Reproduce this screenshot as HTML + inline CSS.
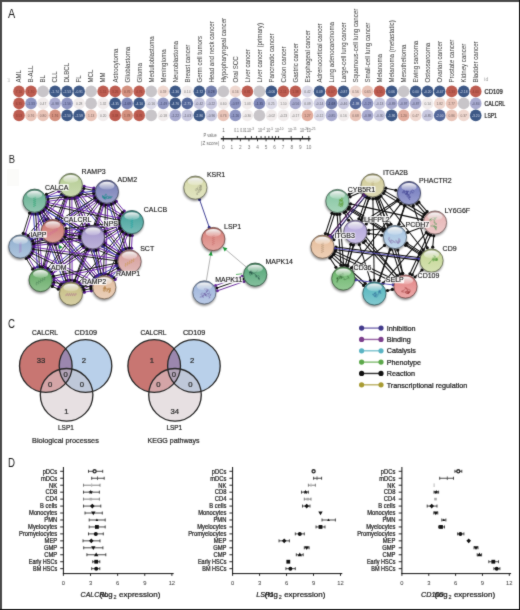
<!DOCTYPE html>
<html><head><meta charset="utf-8"><style>
html,body{margin:0;padding:0;background:#fff;width:520px;height:610px;overflow:hidden}
svg{display:block;font-family:"Liberation Sans", sans-serif;will-change:transform}
</style></head><body>
<svg width="520" height="610" viewBox="0 0 520 610" font-family='"Liberation Sans", sans-serif'>
<defs>
<filter id="shblur" x="-50%" y="-50%" width="200%" height="200%"><feGaussianBlur stdDeviation="0.9"/></filter>
<linearGradient id="hl" x1="0" y1="0" x2="0" y2="1"><stop offset="0" stop-color="#fff" stop-opacity="0.95"/><stop offset="0.6" stop-color="#fff" stop-opacity="0.45"/><stop offset="1" stop-color="#fff" stop-opacity="0.15"/></linearGradient>
<linearGradient id="nRAMP3" x1="0" y1="0" x2="0" y2="1"><stop offset="0" stop-color="#82916c"/><stop offset="0.3" stop-color="#bacf9a"/><stop offset="1" stop-color="#c9dab0"/></linearGradient>
<linearGradient id="nADM2" x1="0" y1="0" x2="0" y2="1"><stop offset="0" stop-color="#5a5e83"/><stop offset="0.3" stop-color="#8087bb"/><stop offset="1" stop-color="#9ca1ca"/></linearGradient>
<linearGradient id="nCALCA" x1="0" y1="0" x2="0" y2="1"><stop offset="0" stop-color="#4f7f6c"/><stop offset="0.3" stop-color="#71b69a"/><stop offset="1" stop-color="#90c6b0"/></linearGradient>
<linearGradient id="nCALCB" x1="0" y1="0" x2="0" y2="1"><stop offset="0" stop-color="#397672"/><stop offset="0.3" stop-color="#52a9a3"/><stop offset="1" stop-color="#78bcb7"/></linearGradient>
<linearGradient id="nCALCRL" x1="0" y1="0" x2="0" y2="1"><stop offset="0" stop-color="#925a57"/><stop offset="0.3" stop-color="#d1817c"/><stop offset="1" stop-color="#db9d99"/></linearGradient>
<linearGradient id="nNPS" x1="0" y1="0" x2="0" y2="1"><stop offset="0" stop-color="#776e91"/><stop offset="0.3" stop-color="#aa9dcf"/><stop offset="1" stop-color="#bdb3da"/></linearGradient>
<linearGradient id="nIAPP" x1="0" y1="0" x2="0" y2="1"><stop offset="0" stop-color="#6a7f94"/><stop offset="0.3" stop-color="#98b5d3"/><stop offset="1" stop-color="#afc5dd"/></linearGradient>
<linearGradient id="nSCT" x1="0" y1="0" x2="0" y2="1"><stop offset="0" stop-color="#987372"/><stop offset="0.3" stop-color="#d9a5a3"/><stop offset="1" stop-color="#e1b9b7"/></linearGradient>
<linearGradient id="nADM" x1="0" y1="0" x2="0" y2="1"><stop offset="0" stop-color="#4d7a4d"/><stop offset="0.3" stop-color="#6eaf6e"/><stop offset="1" stop-color="#8ec18e"/></linearGradient>
<linearGradient id="nRAMP1" x1="0" y1="0" x2="0" y2="1"><stop offset="0" stop-color="#a08873"/><stop offset="0.3" stop-color="#e4c2a5"/><stop offset="1" stop-color="#eacfb9"/></linearGradient>
<linearGradient id="nRAMP2" x1="0" y1="0" x2="0" y2="1"><stop offset="0" stop-color="#8d8861"/><stop offset="0.3" stop-color="#cac28b"/><stop offset="1" stop-color="#d6cfa5"/></linearGradient>
<linearGradient id="mKSR1" x1="0" y1="0" x2="0" y2="1"><stop offset="0" stop-color="#989a7a"/><stop offset="0.3" stop-color="#d9dcaf"/><stop offset="1" stop-color="#e1e4c1"/></linearGradient>
<linearGradient id="mLSP1" x1="0" y1="0" x2="0" y2="1"><stop offset="0" stop-color="#9a615d"/><stop offset="0.3" stop-color="#dc8b85"/><stop offset="1" stop-color="#e4a5a0"/></linearGradient>
<linearGradient id="mMAPK14" x1="0" y1="0" x2="0" y2="1"><stop offset="0" stop-color="#44795a"/><stop offset="0.3" stop-color="#61ad81"/><stop offset="1" stop-color="#84bf9d"/></linearGradient>
<linearGradient id="mMAPK11" x1="0" y1="0" x2="0" y2="1"><stop offset="0" stop-color="#73829b"/><stop offset="0.3" stop-color="#a5bade"/><stop offset="1" stop-color="#b9c9e5"/></linearGradient>
<linearGradient id="rITGA2B" x1="0" y1="0" x2="0" y2="1"><stop offset="0" stop-color="#959270"/><stop offset="0.3" stop-color="#d5d0a0"/><stop offset="1" stop-color="#dedab5"/></linearGradient>
<linearGradient id="rPHACTR2" x1="0" y1="0" x2="0" y2="1"><stop offset="0" stop-color="#575c88"/><stop offset="0.3" stop-color="#7c83c2"/><stop offset="1" stop-color="#999ecf"/></linearGradient>
<linearGradient id="rCYB5R1" x1="0" y1="0" x2="0" y2="1"><stop offset="0" stop-color="#638d75"/><stop offset="0.3" stop-color="#8dc9a7"/><stop offset="1" stop-color="#a6d5ba"/></linearGradient>
<linearGradient id="rLY6G6F" x1="0" y1="0" x2="0" y2="1"><stop offset="0" stop-color="#a28282"/><stop offset="0.3" stop-color="#e8baba"/><stop offset="1" stop-color="#edc9c9"/></linearGradient>
<linearGradient id="rLHFPL2" x1="0" y1="0" x2="0" y2="1"><stop offset="0" stop-color="#82799b"/><stop offset="0.3" stop-color="#baadde"/><stop offset="1" stop-color="#c9bfe5"/></linearGradient>
<linearGradient id="rPCDH7" x1="0" y1="0" x2="0" y2="1"><stop offset="0" stop-color="#798da0"/><stop offset="0.3" stop-color="#adc9e4"/><stop offset="1" stop-color="#bfd5ea"/></linearGradient>
<linearGradient id="rITGB3" x1="0" y1="0" x2="0" y2="1"><stop offset="0" stop-color="#a28871"/><stop offset="0.3" stop-color="#e8c2a2"/><stop offset="1" stop-color="#edcfb6"/></linearGradient>
<linearGradient id="rCD9" x1="0" y1="0" x2="0" y2="1"><stop offset="0" stop-color="#8d986d"/><stop offset="0.3" stop-color="#c9d99c"/><stop offset="1" stop-color="#d5e1b2"/></linearGradient>
<linearGradient id="rCD36" x1="0" y1="0" x2="0" y2="1"><stop offset="0" stop-color="#518251"/><stop offset="0.3" stop-color="#74ba74"/><stop offset="1" stop-color="#93c993"/></linearGradient>
<linearGradient id="rCD109" x1="0" y1="0" x2="0" y2="1"><stop offset="0" stop-color="#a16464"/><stop offset="0.3" stop-color="#e68f8f"/><stop offset="1" stop-color="#eca8a8"/></linearGradient>
<linearGradient id="rSELP" x1="0" y1="0" x2="0" y2="1"><stop offset="0" stop-color="#428288"/><stop offset="0.3" stop-color="#5fbac2"/><stop offset="1" stop-color="#82c9cf"/></linearGradient>
<clipPath id="cr1"><circle cx="45.8" cy="366.0" r="26.3"/></clipPath>
<clipPath id="cb1"><circle cx="85.5" cy="366.0" r="26.3"/></clipPath>
<clipPath id="cr2"><circle cx="154.2" cy="366.0" r="26.3"/></clipPath>
<clipPath id="cb2"><circle cx="193.9" cy="366.0" r="26.3"/></clipPath>
</defs>
<filter id="soft" color-interpolation-filters="sRGB" filterUnits="userSpaceOnUse" x="0" y="0" width="520" height="610"><feConvolveMatrix order="3" kernelMatrix="0.02 0.08 0.02 0.08 0.6 0.08 0.02 0.08 0.02" preserveAlpha="true" edgeMode="duplicate"/></filter>
<g filter="url(#soft)">
<rect x="0" y="0" width="520" height="610" fill="#fff"/>
<text transform="translate(21.35,82.6) rotate(-90) scale(0.93,1)" font-size="6.6" fill="#383838">AML</text>
<circle cx="19.00" cy="91.4" r="5.8" fill="#bd5c50"/>
<text x="19.00" y="92.75" font-size="3.9" fill="#8a3a30" text-anchor="middle" textLength="6.4" lengthAdjust="spacingAndGlyphs">7.10</text>
<circle cx="19.00" cy="103.4" r="5.8" fill="#bd5c50"/>
<text x="19.00" y="104.75" font-size="3.9" fill="#8a3a30" text-anchor="middle" textLength="6.4" lengthAdjust="spacingAndGlyphs">6.35</text>
<circle cx="19.00" cy="115.4" r="5.8" fill="#bd5c50"/>
<text x="19.00" y="116.75" font-size="3.9" fill="#8a3a30" text-anchor="middle" textLength="6.4" lengthAdjust="spacingAndGlyphs">3.53</text>
<text transform="translate(33.37,82.6) rotate(-90) scale(0.93,1)" font-size="6.6" fill="#383838">B-ALL</text>
<circle cx="31.02" cy="91.4" r="5.8" fill="#bd5c50"/>
<text x="31.02" y="92.75" font-size="3.9" fill="#8a3a30" text-anchor="middle" textLength="6.4" lengthAdjust="spacingAndGlyphs">1.70</text>
<circle cx="31.02" cy="103.4" r="5.8" fill="#8f96c2"/>
<text x="31.02" y="104.75" font-size="3.9" fill="#454a70" text-anchor="middle" textLength="7.6" lengthAdjust="spacingAndGlyphs">-1.33</text>
<circle cx="31.02" cy="115.4" r="5.8" fill="#e9c4b8"/>
<text x="31.02" y="116.75" font-size="3.9" fill="#7a6560" text-anchor="middle" textLength="6.4" lengthAdjust="spacingAndGlyphs">0.76</text>
<text transform="translate(45.39,82.6) rotate(-90) scale(0.93,1)" font-size="6.6" fill="#383838">BL</text>
<circle cx="43.04" cy="91.4" r="5.8" fill="#c8c5c9"/>
<circle cx="43.04" cy="103.4" r="5.8" fill="#f1ecec"/>
<text x="43.04" y="104.75" font-size="3.9" fill="#777" text-anchor="middle" textLength="6.4" lengthAdjust="spacingAndGlyphs">0.47</text>
<circle cx="43.04" cy="115.4" r="5.8" fill="#e9c4b8"/>
<text x="43.04" y="116.75" font-size="3.9" fill="#7a6560" text-anchor="middle" textLength="6.4" lengthAdjust="spacingAndGlyphs">0.80</text>
<text transform="translate(57.41,82.6) rotate(-90) scale(0.93,1)" font-size="6.6" fill="#383838">CLL</text>
<circle cx="55.06" cy="91.4" r="5.8" fill="#3d5886"/>
<text x="55.06" y="92.75" font-size="3.9" fill="#d0d8e8" text-anchor="middle" textLength="7.6" lengthAdjust="spacingAndGlyphs">-1.74</text>
<circle cx="55.06" cy="103.4" r="5.8" fill="#a8aacf"/>
<text x="55.06" y="104.75" font-size="3.9" fill="#505470" text-anchor="middle" textLength="7.6" lengthAdjust="spacingAndGlyphs">-0.98</text>
<circle cx="55.06" cy="115.4" r="5.8" fill="#d4917f"/>
<text x="55.06" y="116.75" font-size="3.9" fill="#7a4a40" text-anchor="middle" textLength="6.4" lengthAdjust="spacingAndGlyphs">1.76</text>
<text transform="translate(69.43,82.6) rotate(-90) scale(0.93,1)" font-size="6.6" fill="#383838">DLBCL</text>
<circle cx="67.08" cy="91.4" r="5.8" fill="#3d5886"/>
<text x="67.08" y="92.75" font-size="3.9" fill="#d0d8e8" text-anchor="middle" textLength="7.6" lengthAdjust="spacingAndGlyphs">-2.53</text>
<circle cx="67.08" cy="103.4" r="5.8" fill="#8f96c2"/>
<text x="67.08" y="104.75" font-size="3.9" fill="#454a70" text-anchor="middle" textLength="7.6" lengthAdjust="spacingAndGlyphs">-1.56</text>
<circle cx="67.08" cy="115.4" r="5.8" fill="#3d5886"/>
<text x="67.08" y="116.75" font-size="3.9" fill="#d0d8e8" text-anchor="middle" textLength="7.6" lengthAdjust="spacingAndGlyphs">-2.50</text>
<text transform="translate(81.45,82.6) rotate(-90) scale(0.93,1)" font-size="6.6" fill="#383838">FL</text>
<circle cx="79.10" cy="91.4" r="5.8" fill="#3d5886"/>
<text x="79.10" y="92.75" font-size="3.9" fill="#d0d8e8" text-anchor="middle" textLength="7.6" lengthAdjust="spacingAndGlyphs">-0.91</text>
<circle cx="79.10" cy="103.4" r="5.8" fill="#f1ecec"/>
<text x="79.10" y="104.75" font-size="3.9" fill="#777" text-anchor="middle" textLength="6.4" lengthAdjust="spacingAndGlyphs">0.28</text>
<circle cx="79.10" cy="115.4" r="5.8" fill="#3d5886"/>
<text x="79.10" y="116.75" font-size="3.9" fill="#d0d8e8" text-anchor="middle" textLength="7.6" lengthAdjust="spacingAndGlyphs">-2.59</text>
<text transform="translate(93.47,82.6) rotate(-90) scale(0.93,1)" font-size="6.6" fill="#383838">MCL</text>
<circle cx="91.12" cy="91.4" r="5.8" fill="#c8c5c9"/>
<circle cx="91.12" cy="103.4" r="5.8" fill="#c8c5c9"/>
<circle cx="91.12" cy="115.4" r="5.8" fill="#e9c4b8"/>
<text x="91.12" y="116.75" font-size="3.9" fill="#7a6560" text-anchor="middle" textLength="6.4" lengthAdjust="spacingAndGlyphs">1.13</text>
<text transform="translate(105.49,82.6) rotate(-90) scale(0.93,1)" font-size="6.6" fill="#383838">MM</text>
<circle cx="103.14" cy="91.4" r="5.8" fill="#bd5c50"/>
<text x="103.14" y="92.75" font-size="3.9" fill="#8a3a30" text-anchor="middle" textLength="6.4" lengthAdjust="spacingAndGlyphs">1.51</text>
<circle cx="103.14" cy="103.4" r="5.8" fill="#f1ecec"/>
<text x="103.14" y="104.75" font-size="3.9" fill="#777" text-anchor="middle" textLength="6.4" lengthAdjust="spacingAndGlyphs">1.32</text>
<circle cx="103.14" cy="115.4" r="5.8" fill="#f1ecec"/>
<text x="103.14" y="116.75" font-size="3.9" fill="#777" text-anchor="middle" textLength="6.4" lengthAdjust="spacingAndGlyphs">0.20</text>
<text transform="translate(117.51,82.6) rotate(-90) scale(0.93,1)" font-size="6.6" fill="#383838">Astrocytoma</text>
<circle cx="115.16" cy="91.4" r="5.8" fill="#bd5c50"/>
<text x="115.16" y="92.75" font-size="3.9" fill="#8a3a30" text-anchor="middle" textLength="6.4" lengthAdjust="spacingAndGlyphs">3.26</text>
<circle cx="115.16" cy="103.4" r="5.8" fill="#3d5886"/>
<text x="115.16" y="104.75" font-size="3.9" fill="#d0d8e8" text-anchor="middle" textLength="7.6" lengthAdjust="spacingAndGlyphs">-4.35</text>
<circle cx="115.16" cy="115.4" r="5.8" fill="#bd5c50"/>
<text x="115.16" y="116.75" font-size="3.9" fill="#8a3a30" text-anchor="middle" textLength="6.4" lengthAdjust="spacingAndGlyphs">3.38</text>
<text transform="translate(129.53,82.6) rotate(-90) scale(0.93,1)" font-size="6.6" fill="#383838">Glioblastoma</text>
<circle cx="127.18" cy="91.4" r="5.8" fill="#d4917f"/>
<text x="127.18" y="92.75" font-size="3.9" fill="#7a4a40" text-anchor="middle" textLength="6.4" lengthAdjust="spacingAndGlyphs">0.76</text>
<circle cx="127.18" cy="103.4" r="5.8" fill="#7e87b7"/>
<text x="127.18" y="104.75" font-size="3.9" fill="#353a60" text-anchor="middle" textLength="7.6" lengthAdjust="spacingAndGlyphs">-1.69</text>
<circle cx="127.18" cy="115.4" r="5.8" fill="#d4917f"/>
<text x="127.18" y="116.75" font-size="3.9" fill="#7a4a40" text-anchor="middle" textLength="6.4" lengthAdjust="spacingAndGlyphs">1.78</text>
<text transform="translate(141.55,82.6) rotate(-90) scale(0.93,1)" font-size="6.6" fill="#383838">Glioma</text>
<circle cx="139.20" cy="91.4" r="5.8" fill="#bd5c50"/>
<text x="139.20" y="92.75" font-size="3.9" fill="#8a3a30" text-anchor="middle" textLength="6.4" lengthAdjust="spacingAndGlyphs">4.76</text>
<circle cx="139.20" cy="103.4" r="5.8" fill="#3d5886"/>
<text x="139.20" y="104.75" font-size="3.9" fill="#d0d8e8" text-anchor="middle" textLength="7.6" lengthAdjust="spacingAndGlyphs">-4.10</text>
<circle cx="139.20" cy="115.4" r="5.8" fill="#bd5c50"/>
<text x="139.20" y="116.75" font-size="3.9" fill="#8a3a30" text-anchor="middle" textLength="6.4" lengthAdjust="spacingAndGlyphs">3.76</text>
<text transform="translate(153.57,82.6) rotate(-90) scale(0.93,1)" font-size="6.6" fill="#383838">Medulloblastoma</text>
<circle cx="151.22" cy="91.4" r="5.8" fill="#c8c5c9"/>
<circle cx="151.22" cy="103.4" r="5.8" fill="#dcdbe9"/>
<text x="151.22" y="104.75" font-size="3.9" fill="#707070" text-anchor="middle" textLength="7.6" lengthAdjust="spacingAndGlyphs">-0.16</text>
<circle cx="151.22" cy="115.4" r="5.8" fill="#c8c5c9"/>
<text transform="translate(165.59,82.6) rotate(-90) scale(0.93,1)" font-size="6.6" fill="#383838">Meningioma</text>
<circle cx="163.24" cy="91.4" r="5.8" fill="#efd8d0"/>
<text x="163.24" y="92.75" font-size="3.9" fill="#7a6a65" text-anchor="middle" textLength="6.4" lengthAdjust="spacingAndGlyphs">0.59</text>
<circle cx="163.24" cy="103.4" r="5.8" fill="#8f96c2"/>
<text x="163.24" y="104.75" font-size="3.9" fill="#454a70" text-anchor="middle" textLength="7.6" lengthAdjust="spacingAndGlyphs">-1.49</text>
<circle cx="163.24" cy="115.4" r="5.8" fill="#f1ecec"/>
<text x="163.24" y="116.75" font-size="3.9" fill="#777" text-anchor="middle" textLength="7.6" lengthAdjust="spacingAndGlyphs">-0.18</text>
<text transform="translate(177.61,82.6) rotate(-90) scale(0.93,1)" font-size="6.6" fill="#383838">Neuroblastoma</text>
<circle cx="175.26" cy="91.4" r="5.8" fill="#3d5886"/>
<text x="175.26" y="92.75" font-size="3.9" fill="#d0d8e8" text-anchor="middle" textLength="7.6" lengthAdjust="spacingAndGlyphs">-1.36</text>
<circle cx="175.26" cy="103.4" r="5.8" fill="#3d5886"/>
<text x="175.26" y="104.75" font-size="3.9" fill="#d0d8e8" text-anchor="middle" textLength="7.6" lengthAdjust="spacingAndGlyphs">-4.76</text>
<circle cx="175.26" cy="115.4" r="5.8" fill="#a8aacf"/>
<text x="175.26" y="116.75" font-size="3.9" fill="#505470" text-anchor="middle" textLength="7.6" lengthAdjust="spacingAndGlyphs">-1.22</text>
<text transform="translate(189.63,82.6) rotate(-90) scale(0.93,1)" font-size="6.6" fill="#383838">Breast cancer</text>
<circle cx="187.28" cy="91.4" r="5.8" fill="#f1ecec"/>
<text x="187.28" y="92.75" font-size="3.9" fill="#777" text-anchor="middle" textLength="6.4" lengthAdjust="spacingAndGlyphs">0.14</text>
<circle cx="187.28" cy="103.4" r="5.8" fill="#53679a"/>
<text x="187.28" y="104.75" font-size="3.9" fill="#d8dcea" text-anchor="middle" textLength="7.6" lengthAdjust="spacingAndGlyphs">-2.75</text>
<circle cx="187.28" cy="115.4" r="5.8" fill="#c8c8df"/>
<text x="187.28" y="116.75" font-size="3.9" fill="#606070" text-anchor="middle" textLength="7.6" lengthAdjust="spacingAndGlyphs">-1.03</text>
<text transform="translate(201.65,82.6) rotate(-90) scale(0.93,1)" font-size="6.6" fill="#383838">Germ cell tumors</text>
<circle cx="199.30" cy="91.4" r="5.8" fill="#3d5886"/>
<text x="199.30" y="92.75" font-size="3.9" fill="#d0d8e8" text-anchor="middle" textLength="7.6" lengthAdjust="spacingAndGlyphs">-1.72</text>
<circle cx="199.30" cy="103.4" r="5.8" fill="#c8c8df"/>
<text x="199.30" y="104.75" font-size="3.9" fill="#606070" text-anchor="middle" textLength="7.6" lengthAdjust="spacingAndGlyphs">-0.42</text>
<circle cx="199.30" cy="115.4" r="5.8" fill="#3d5886"/>
<text x="199.30" y="116.75" font-size="3.9" fill="#d0d8e8" text-anchor="middle" textLength="7.6" lengthAdjust="spacingAndGlyphs">-2.86</text>
<text transform="translate(213.67,82.6) rotate(-90) scale(0.93,1)" font-size="6.6" fill="#383838">Head and neck cancer</text>
<circle cx="211.32" cy="91.4" r="5.8" fill="#7480ad"/>
<text x="211.32" y="92.75" font-size="3.9" fill="#2f3458" text-anchor="middle" textLength="6.4" lengthAdjust="spacingAndGlyphs">0.28</text>
<circle cx="211.32" cy="103.4" r="5.8" fill="#c8c8df"/>
<text x="211.32" y="104.75" font-size="3.9" fill="#606070" text-anchor="middle" textLength="7.6" lengthAdjust="spacingAndGlyphs">-0.22</text>
<circle cx="211.32" cy="115.4" r="5.8" fill="#c8c8df"/>
<text x="211.32" y="116.75" font-size="3.9" fill="#606070" text-anchor="middle" textLength="7.6" lengthAdjust="spacingAndGlyphs">-0.96</text>
<text transform="translate(225.69,82.6) rotate(-90) scale(0.93,1)" font-size="6.6" fill="#383838">Hypopharyngeal cancer</text>
<circle cx="223.34" cy="91.4" r="5.8" fill="#c8c5c9"/>
<circle cx="223.34" cy="103.4" r="5.8" fill="#f1ecec"/>
<text x="223.34" y="104.75" font-size="3.9" fill="#777" text-anchor="middle" textLength="6.4" lengthAdjust="spacingAndGlyphs">0.60</text>
<circle cx="223.34" cy="115.4" r="5.8" fill="#e9c4b8"/>
<text x="223.34" y="116.75" font-size="3.9" fill="#7a6560" text-anchor="middle" textLength="6.4" lengthAdjust="spacingAndGlyphs">0.76</text>
<text transform="translate(237.71,82.6) rotate(-90) scale(0.93,1)" font-size="6.6" fill="#383838">Oral SCC</text>
<circle cx="235.36" cy="91.4" r="5.8" fill="#efd8d0"/>
<text x="235.36" y="92.75" font-size="3.9" fill="#7a6a65" text-anchor="middle" textLength="6.4" lengthAdjust="spacingAndGlyphs">0.16</text>
<circle cx="235.36" cy="103.4" r="5.8" fill="#8f96c2"/>
<text x="235.36" y="104.75" font-size="3.9" fill="#454a70" text-anchor="middle" textLength="7.6" lengthAdjust="spacingAndGlyphs">-0.97</text>
<circle cx="235.36" cy="115.4" r="5.8" fill="#8f96c2"/>
<text x="235.36" y="116.75" font-size="3.9" fill="#454a70" text-anchor="middle" textLength="7.6" lengthAdjust="spacingAndGlyphs">-1.26</text>
<text transform="translate(249.73,82.6) rotate(-90) scale(0.93,1)" font-size="6.6" fill="#383838">Liver cancer</text>
<circle cx="247.38" cy="91.4" r="5.8" fill="#bd5c50"/>
<text x="247.38" y="92.75" font-size="3.9" fill="#8a3a30" text-anchor="middle" textLength="6.4" lengthAdjust="spacingAndGlyphs">0.81</text>
<circle cx="247.38" cy="103.4" r="5.8" fill="#f1ecec"/>
<text x="247.38" y="104.75" font-size="3.9" fill="#777" text-anchor="middle" textLength="6.4" lengthAdjust="spacingAndGlyphs">1.03</text>
<circle cx="247.38" cy="115.4" r="5.8" fill="#f1ecec"/>
<text x="247.38" y="116.75" font-size="3.9" fill="#777" text-anchor="middle" textLength="7.6" lengthAdjust="spacingAndGlyphs">-0.30</text>
<text transform="translate(261.75,82.6) rotate(-90) scale(0.93,1)" font-size="6.6" fill="#383838">Liver cancer (primary)</text>
<circle cx="259.40" cy="91.4" r="5.8" fill="#c8c5c9"/>
<circle cx="259.40" cy="103.4" r="5.8" fill="#7e87b7"/>
<text x="259.40" y="104.75" font-size="3.9" fill="#353a60" text-anchor="middle" textLength="7.6" lengthAdjust="spacingAndGlyphs">-1.35</text>
<circle cx="259.40" cy="115.4" r="5.8" fill="#c8c5c9"/>
<text transform="translate(273.77,82.6) rotate(-90) scale(0.93,1)" font-size="6.6" fill="#383838">Pancreatic cancer</text>
<circle cx="271.42" cy="91.4" r="5.8" fill="#3d5886"/>
<text x="271.42" y="92.75" font-size="3.9" fill="#d0d8e8" text-anchor="middle" textLength="7.6" lengthAdjust="spacingAndGlyphs">-0.06</text>
<circle cx="271.42" cy="103.4" r="5.8" fill="#dcdbe9"/>
<text x="271.42" y="104.75" font-size="3.9" fill="#707070" text-anchor="middle" textLength="6.4" lengthAdjust="spacingAndGlyphs">0.25</text>
<circle cx="271.42" cy="115.4" r="5.8" fill="#f1ecec"/>
<text x="271.42" y="116.75" font-size="3.9" fill="#777" text-anchor="middle" textLength="7.6" lengthAdjust="spacingAndGlyphs">-0.02</text>
<text transform="translate(285.79,82.6) rotate(-90) scale(0.93,1)" font-size="6.6" fill="#383838">Colon cancer</text>
<circle cx="283.44" cy="91.4" r="5.8" fill="#bd5c50"/>
<text x="283.44" y="92.75" font-size="3.9" fill="#8a3a30" text-anchor="middle" textLength="6.4" lengthAdjust="spacingAndGlyphs">2.11</text>
<circle cx="283.44" cy="103.4" r="5.8" fill="#f1ecec"/>
<text x="283.44" y="104.75" font-size="3.9" fill="#777" text-anchor="middle" textLength="6.4" lengthAdjust="spacingAndGlyphs">1.10</text>
<circle cx="283.44" cy="115.4" r="5.8" fill="#f1ecec"/>
<text x="283.44" y="116.75" font-size="3.9" fill="#777" text-anchor="middle" textLength="7.6" lengthAdjust="spacingAndGlyphs">-0.23</text>
<text transform="translate(297.81,82.6) rotate(-90) scale(0.93,1)" font-size="6.6" fill="#383838">Gastric cancer</text>
<circle cx="295.46" cy="91.4" r="5.8" fill="#bd5c50"/>
<text x="295.46" y="92.75" font-size="3.9" fill="#8a3a30" text-anchor="middle" textLength="6.4" lengthAdjust="spacingAndGlyphs">1.38</text>
<circle cx="295.46" cy="103.4" r="5.8" fill="#a8aacf"/>
<text x="295.46" y="104.75" font-size="3.9" fill="#505470" text-anchor="middle" textLength="7.6" lengthAdjust="spacingAndGlyphs">-0.56</text>
<circle cx="295.46" cy="115.4" r="5.8" fill="#f1ecec"/>
<text x="295.46" y="116.75" font-size="3.9" fill="#777" text-anchor="middle" textLength="7.6" lengthAdjust="spacingAndGlyphs">-0.17</text>
<text transform="translate(309.83,82.6) rotate(-90) scale(0.93,1)" font-size="6.6" fill="#383838">Esophageal cancer</text>
<circle cx="307.48" cy="91.4" r="5.8" fill="#dcdbe9"/>
<text x="307.48" y="92.75" font-size="3.9" fill="#707070" text-anchor="middle" textLength="6.4" lengthAdjust="spacingAndGlyphs">0.42</text>
<circle cx="307.48" cy="103.4" r="5.8" fill="#dcdbe9"/>
<text x="307.48" y="104.75" font-size="3.9" fill="#707070" text-anchor="middle" textLength="6.4" lengthAdjust="spacingAndGlyphs">0.09</text>
<circle cx="307.48" cy="115.4" r="5.8" fill="#e2ad9e"/>
<text x="307.48" y="116.75" font-size="3.9" fill="#7a5a50" text-anchor="middle" textLength="6.4" lengthAdjust="spacingAndGlyphs">1.27</text>
<text transform="translate(321.85,82.6) rotate(-90) scale(0.93,1)" font-size="6.6" fill="#383838">Adrenocortical cancer</text>
<circle cx="319.50" cy="91.4" r="5.8" fill="#3d5886"/>
<text x="319.50" y="92.75" font-size="3.9" fill="#d0d8e8" text-anchor="middle" textLength="6.4" lengthAdjust="spacingAndGlyphs">0.09</text>
<circle cx="319.50" cy="103.4" r="5.8" fill="#c8c8df"/>
<text x="319.50" y="104.75" font-size="3.9" fill="#606070" text-anchor="middle" textLength="7.6" lengthAdjust="spacingAndGlyphs">-0.14</text>
<circle cx="319.50" cy="115.4" r="5.8" fill="#dcdbe9"/>
<text x="319.50" y="116.75" font-size="3.9" fill="#707070" text-anchor="middle" textLength="7.6" lengthAdjust="spacingAndGlyphs">-0.12</text>
<text transform="translate(333.87,82.6) rotate(-90) scale(0.93,1)" font-size="6.6" fill="#383838">Lung adenocarcinoma</text>
<circle cx="331.52" cy="91.4" r="5.8" fill="#bd5c50"/>
<text x="331.52" y="92.75" font-size="3.9" fill="#8a3a30" text-anchor="middle" textLength="6.4" lengthAdjust="spacingAndGlyphs">6.07</text>
<circle cx="331.52" cy="103.4" r="5.8" fill="#7480ad"/>
<text x="331.52" y="104.75" font-size="3.9" fill="#2f3458" text-anchor="middle" textLength="7.6" lengthAdjust="spacingAndGlyphs">-1.68</text>
<circle cx="331.52" cy="115.4" r="5.8" fill="#a8aacf"/>
<text x="331.52" y="116.75" font-size="3.9" fill="#505470" text-anchor="middle" textLength="7.6" lengthAdjust="spacingAndGlyphs">-0.85</text>
<text transform="translate(345.89,82.6) rotate(-90) scale(0.93,1)" font-size="6.6" fill="#383838">Large-cell lung cancer</text>
<circle cx="343.54" cy="91.4" r="5.8" fill="#3d5886"/>
<text x="343.54" y="92.75" font-size="3.9" fill="#d0d8e8" text-anchor="middle" textLength="7.6" lengthAdjust="spacingAndGlyphs">-0.87</text>
<circle cx="343.54" cy="103.4" r="5.8" fill="#c8c8df"/>
<text x="343.54" y="104.75" font-size="3.9" fill="#606070" text-anchor="middle" textLength="7.6" lengthAdjust="spacingAndGlyphs">-0.46</text>
<circle cx="343.54" cy="115.4" r="5.8" fill="#f1ecec"/>
<text x="343.54" y="116.75" font-size="3.9" fill="#777" text-anchor="middle" textLength="6.4" lengthAdjust="spacingAndGlyphs">0.16</text>
<text transform="translate(357.91,82.6) rotate(-90) scale(0.93,1)" font-size="6.6" fill="#383838">Squamous-cell lung cancer</text>
<circle cx="355.56" cy="91.4" r="5.8" fill="#efd8d0"/>
<text x="355.56" y="92.75" font-size="3.9" fill="#7a6a65" text-anchor="middle" textLength="6.4" lengthAdjust="spacingAndGlyphs">0.56</text>
<circle cx="355.56" cy="103.4" r="5.8" fill="#53679a"/>
<text x="355.56" y="104.75" font-size="3.9" fill="#d8dcea" text-anchor="middle" textLength="7.6" lengthAdjust="spacingAndGlyphs">-1.98</text>
<circle cx="355.56" cy="115.4" r="5.8" fill="#e9c4b8"/>
<text x="355.56" y="116.75" font-size="3.9" fill="#7a6560" text-anchor="middle" textLength="6.4" lengthAdjust="spacingAndGlyphs">0.68</text>
<text transform="translate(369.93,82.6) rotate(-90) scale(0.93,1)" font-size="6.6" fill="#383838">Small-cell lung cancer</text>
<circle cx="367.58" cy="91.4" r="5.8" fill="#e9c4b8"/>
<text x="367.58" y="92.75" font-size="3.9" fill="#7a6560" text-anchor="middle" textLength="6.4" lengthAdjust="spacingAndGlyphs">0.65</text>
<circle cx="367.58" cy="103.4" r="5.8" fill="#8f96c2"/>
<text x="367.58" y="104.75" font-size="3.9" fill="#454a70" text-anchor="middle" textLength="7.6" lengthAdjust="spacingAndGlyphs">-1.27</text>
<circle cx="367.58" cy="115.4" r="5.8" fill="#a8aacf"/>
<text x="367.58" y="116.75" font-size="3.9" fill="#505470" text-anchor="middle" textLength="7.6" lengthAdjust="spacingAndGlyphs">-0.98</text>
<text transform="translate(381.95,82.6) rotate(-90) scale(0.93,1)" font-size="6.6" fill="#383838">Melanoma</text>
<circle cx="379.60" cy="91.4" r="5.8" fill="#bd5c50"/>
<text x="379.60" y="92.75" font-size="3.9" fill="#8a3a30" text-anchor="middle" textLength="6.4" lengthAdjust="spacingAndGlyphs">5.51</text>
<circle cx="379.60" cy="103.4" r="5.8" fill="#c8c8df"/>
<text x="379.60" y="104.75" font-size="3.9" fill="#606070" text-anchor="middle" textLength="7.6" lengthAdjust="spacingAndGlyphs">-0.13</text>
<circle cx="379.60" cy="115.4" r="5.8" fill="#c8c8df"/>
<text x="379.60" y="116.75" font-size="3.9" fill="#606070" text-anchor="middle" textLength="7.6" lengthAdjust="spacingAndGlyphs">-0.30</text>
<text transform="translate(393.97,82.6) rotate(-90) scale(0.93,1)" font-size="6.6" fill="#383838">Melanoma (metastatic)</text>
<circle cx="391.62" cy="91.4" r="5.8" fill="#3d5886"/>
<text x="391.62" y="92.75" font-size="3.9" fill="#d0d8e8" text-anchor="middle" textLength="6.4" lengthAdjust="spacingAndGlyphs">0.06</text>
<circle cx="391.62" cy="103.4" r="5.8" fill="#a8aacf"/>
<text x="391.62" y="104.75" font-size="3.9" fill="#505470" text-anchor="middle" textLength="7.6" lengthAdjust="spacingAndGlyphs">-0.89</text>
<circle cx="391.62" cy="115.4" r="5.8" fill="#3d5886"/>
<text x="391.62" y="116.75" font-size="3.9" fill="#d0d8e8" text-anchor="middle" textLength="7.6" lengthAdjust="spacingAndGlyphs">-1.96</text>
<text transform="translate(405.99,82.6) rotate(-90) scale(0.93,1)" font-size="6.6" fill="#383838">Mesothelioma</text>
<circle cx="403.64" cy="91.4" r="5.8" fill="#c8c5c9"/>
<circle cx="403.64" cy="103.4" r="5.8" fill="#a8aacf"/>
<text x="403.64" y="104.75" font-size="3.9" fill="#505470" text-anchor="middle" textLength="7.6" lengthAdjust="spacingAndGlyphs">-0.97</text>
<circle cx="403.64" cy="115.4" r="5.8" fill="#e2ad9e"/>
<text x="403.64" y="116.75" font-size="3.9" fill="#7a5a50" text-anchor="middle" textLength="6.4" lengthAdjust="spacingAndGlyphs">1.20</text>
<text transform="translate(418.01,82.6) rotate(-90) scale(0.93,1)" font-size="6.6" fill="#383838">Ewing sarcoma</text>
<circle cx="415.66" cy="91.4" r="5.8" fill="#3d5886"/>
<text x="415.66" y="92.75" font-size="3.9" fill="#d0d8e8" text-anchor="middle" textLength="6.4" lengthAdjust="spacingAndGlyphs">0.00</text>
<circle cx="415.66" cy="103.4" r="5.8" fill="#a8aacf"/>
<text x="415.66" y="104.75" font-size="3.9" fill="#505470" text-anchor="middle" textLength="7.6" lengthAdjust="spacingAndGlyphs">-0.87</text>
<circle cx="415.66" cy="115.4" r="5.8" fill="#efd8d0"/>
<text x="415.66" y="116.75" font-size="3.9" fill="#7a6a65" text-anchor="middle" textLength="6.4" lengthAdjust="spacingAndGlyphs">0.47</text>
<text transform="translate(430.03,82.6) rotate(-90) scale(0.93,1)" font-size="6.6" fill="#383838">Osteosarcoma</text>
<circle cx="427.68" cy="91.4" r="5.8" fill="#3d5886"/>
<text x="427.68" y="92.75" font-size="3.9" fill="#d0d8e8" text-anchor="middle" textLength="7.6" lengthAdjust="spacingAndGlyphs">-0.20</text>
<circle cx="427.68" cy="103.4" r="5.8" fill="#f1ecec"/>
<text x="427.68" y="104.75" font-size="3.9" fill="#777" text-anchor="middle" textLength="6.4" lengthAdjust="spacingAndGlyphs">0.14</text>
<circle cx="427.68" cy="115.4" r="5.8" fill="#c8c8df"/>
<text x="427.68" y="116.75" font-size="3.9" fill="#606070" text-anchor="middle" textLength="7.6" lengthAdjust="spacingAndGlyphs">-0.85</text>
<text transform="translate(442.05,82.6) rotate(-90) scale(0.93,1)" font-size="6.6" fill="#383838">Ovarian cancer</text>
<circle cx="439.70" cy="91.4" r="5.8" fill="#3d5886"/>
<text x="439.70" y="92.75" font-size="3.9" fill="#d0d8e8" text-anchor="middle" textLength="7.6" lengthAdjust="spacingAndGlyphs">-0.47</text>
<circle cx="439.70" cy="103.4" r="5.8" fill="#efd8d0"/>
<text x="439.70" y="104.75" font-size="3.9" fill="#7a6a65" text-anchor="middle" textLength="6.4" lengthAdjust="spacingAndGlyphs">1.82</text>
<circle cx="439.70" cy="115.4" r="5.8" fill="#53679a"/>
<text x="439.70" y="116.75" font-size="3.9" fill="#d8dcea" text-anchor="middle" textLength="7.6" lengthAdjust="spacingAndGlyphs">-2.00</text>
<text transform="translate(454.07,82.6) rotate(-90) scale(0.93,1)" font-size="6.6" fill="#383838">Prostate cancer</text>
<circle cx="451.72" cy="91.4" r="5.8" fill="#bd5c50"/>
<text x="451.72" y="92.75" font-size="3.9" fill="#8a3a30" text-anchor="middle" textLength="6.4" lengthAdjust="spacingAndGlyphs">2.33</text>
<circle cx="451.72" cy="103.4" r="5.8" fill="#e9c4b8"/>
<text x="451.72" y="104.75" font-size="3.9" fill="#7a6560" text-anchor="middle" textLength="6.4" lengthAdjust="spacingAndGlyphs">2.77</text>
<circle cx="451.72" cy="115.4" r="5.8" fill="#e9c4b8"/>
<text x="451.72" y="116.75" font-size="3.9" fill="#7a6560" text-anchor="middle" textLength="6.4" lengthAdjust="spacingAndGlyphs">0.86</text>
<text transform="translate(466.09,82.6) rotate(-90) scale(0.93,1)" font-size="6.6" fill="#383838">Kidney cancer</text>
<circle cx="463.74" cy="91.4" r="5.8" fill="#3d5886"/>
<text x="463.74" y="92.75" font-size="3.9" fill="#d0d8e8" text-anchor="middle" textLength="7.6" lengthAdjust="spacingAndGlyphs">-2.18</text>
<circle cx="463.74" cy="103.4" r="5.8" fill="#c8c5c9"/>
<circle cx="463.74" cy="115.4" r="5.8" fill="#efd8d0"/>
<text x="463.74" y="116.75" font-size="3.9" fill="#7a6a65" text-anchor="middle" textLength="6.4" lengthAdjust="spacingAndGlyphs">0.37</text>
<text transform="translate(478.11,82.6) rotate(-90) scale(0.93,1)" font-size="6.6" fill="#383838">Bladder cancer</text>
<circle cx="475.76" cy="91.4" r="5.8" fill="#bd5c50"/>
<text x="475.76" y="92.75" font-size="3.9" fill="#8a3a30" text-anchor="middle" textLength="6.4" lengthAdjust="spacingAndGlyphs">4.60</text>
<circle cx="475.76" cy="103.4" r="5.8" fill="#a8aacf"/>
<text x="475.76" y="104.75" font-size="3.9" fill="#505470" text-anchor="middle" textLength="7.6" lengthAdjust="spacingAndGlyphs">-0.84</text>
<circle cx="475.76" cy="115.4" r="5.8" fill="#3d5886"/>
<text x="475.76" y="116.75" font-size="3.9" fill="#d0d8e8" text-anchor="middle" textLength="7.6" lengthAdjust="spacingAndGlyphs">-3.20</text>
<text x="484.60" y="93.60" font-size="6.3" fill="#1e1e1e" text-anchor="start" stroke="#1e1e1e" stroke-width="0.24" textLength="18.20" lengthAdjust="spacingAndGlyphs" >CD109</text>
<text x="484.60" y="105.60" font-size="6.3" fill="#1e1e1e" text-anchor="start" stroke="#1e1e1e" stroke-width="0.24" textLength="20.60" lengthAdjust="spacingAndGlyphs" >CALCRL</text>
<text x="484.60" y="117.70" font-size="6.3" fill="#1e1e1e" text-anchor="start" stroke="#1e1e1e" stroke-width="0.24" textLength="12.30" lengthAdjust="spacingAndGlyphs" >LSP1</text>
<text transform="translate(9.9,81.8) rotate(-90)" font-size="4.2" fill="#b5b5b5">id</text>
<text x="484.30" y="81.00" font-size="5.0" fill="#9a9a9a" text-anchor="start" stroke="#9a9a9a" stroke-width="0" >id</text>
<text x="8.00" y="17.90" font-size="12.4" fill="#1a1a1a" text-anchor="start" stroke="#1a1a1a" stroke-width="0" textLength="7.20" lengthAdjust="spacingAndGlyphs" >A</text>
<line x1="220.8" y1="138.7" x2="310.6" y2="138.7" stroke="#222" stroke-width="1.4"/>
<line x1="223.30" y1="138.7" x2="223.30" y2="141.29999999999998" stroke="#222" stroke-width="0.9"/>
<text x="223.30" y="149.20" font-size="4.7" fill="#777" text-anchor="middle" stroke="#777" stroke-width="0" >0</text>
<line x1="231.85" y1="138.7" x2="231.85" y2="141.29999999999998" stroke="#222" stroke-width="0.9"/>
<text x="231.85" y="149.20" font-size="4.7" fill="#777" text-anchor="middle" stroke="#777" stroke-width="0" >1</text>
<line x1="240.40" y1="138.7" x2="240.40" y2="141.29999999999998" stroke="#222" stroke-width="0.9"/>
<text x="240.40" y="149.20" font-size="4.7" fill="#777" text-anchor="middle" stroke="#777" stroke-width="0" >2</text>
<line x1="248.95" y1="138.7" x2="248.95" y2="141.29999999999998" stroke="#222" stroke-width="0.9"/>
<text x="248.95" y="149.20" font-size="4.7" fill="#777" text-anchor="middle" stroke="#777" stroke-width="0" >3</text>
<line x1="257.50" y1="138.7" x2="257.50" y2="141.29999999999998" stroke="#222" stroke-width="0.9"/>
<text x="257.50" y="149.20" font-size="4.7" fill="#777" text-anchor="middle" stroke="#777" stroke-width="0" >4</text>
<line x1="266.05" y1="138.7" x2="266.05" y2="141.29999999999998" stroke="#222" stroke-width="0.9"/>
<text x="266.05" y="149.20" font-size="4.7" fill="#777" text-anchor="middle" stroke="#777" stroke-width="0" >5</text>
<line x1="274.60" y1="138.7" x2="274.60" y2="141.29999999999998" stroke="#222" stroke-width="0.9"/>
<text x="274.60" y="149.20" font-size="4.7" fill="#777" text-anchor="middle" stroke="#777" stroke-width="0" >6</text>
<line x1="283.15" y1="138.7" x2="283.15" y2="141.29999999999998" stroke="#222" stroke-width="0.9"/>
<text x="283.15" y="149.20" font-size="4.7" fill="#777" text-anchor="middle" stroke="#777" stroke-width="0" >7</text>
<line x1="291.70" y1="138.7" x2="291.70" y2="141.29999999999998" stroke="#222" stroke-width="0.9"/>
<text x="291.70" y="149.20" font-size="4.7" fill="#777" text-anchor="middle" stroke="#777" stroke-width="0" >8</text>
<line x1="300.25" y1="138.7" x2="300.25" y2="141.29999999999998" stroke="#222" stroke-width="0.9"/>
<text x="300.25" y="149.20" font-size="4.7" fill="#777" text-anchor="middle" stroke="#777" stroke-width="0" >9</text>
<line x1="308.80" y1="138.7" x2="308.80" y2="141.29999999999998" stroke="#222" stroke-width="0.9"/>
<text x="308.80" y="149.20" font-size="4.7" fill="#777" text-anchor="middle" stroke="#777" stroke-width="0" >10</text>
<line x1="223.30" y1="136.1" x2="223.30" y2="138.7" stroke="#222" stroke-width="0.9"/>
<line x1="237.36" y1="136.1" x2="237.36" y2="138.7" stroke="#222" stroke-width="0.9"/>
<line x1="245.32" y1="136.1" x2="245.32" y2="138.7" stroke="#222" stroke-width="0.9"/>
<line x1="251.43" y1="136.1" x2="251.43" y2="138.7" stroke="#222" stroke-width="0.9"/>
<line x1="256.57" y1="136.1" x2="256.57" y2="138.7" stroke="#222" stroke-width="0.9"/>
<line x1="261.07" y1="136.1" x2="261.07" y2="138.7" stroke="#222" stroke-width="0.9"/>
<line x1="265.13" y1="136.1" x2="265.13" y2="138.7" stroke="#222" stroke-width="0.9"/>
<line x1="268.85" y1="136.1" x2="268.85" y2="138.7" stroke="#222" stroke-width="0.9"/>
<line x1="272.30" y1="136.1" x2="272.30" y2="138.7" stroke="#222" stroke-width="0.9"/>
<line x1="275.53" y1="136.1" x2="275.53" y2="138.7" stroke="#222" stroke-width="0.9"/>
<line x1="278.59" y1="136.1" x2="278.59" y2="138.7" stroke="#222" stroke-width="0.9"/>
<line x1="291.20" y1="136.1" x2="291.20" y2="138.7" stroke="#222" stroke-width="0.9"/>
<line x1="302.49" y1="136.1" x2="302.49" y2="138.7" stroke="#222" stroke-width="0.9"/>
<line x1="308.80" y1="136.1" x2="308.80" y2="138.7" stroke="#222" stroke-width="0.9"/>
<text x="222.30" y="132.30" font-size="4.7" fill="#666" text-anchor="start" stroke="#666" stroke-width="0" >1</text>
<text x="234.30" y="132.30" font-size="4.7" fill="#666" text-anchor="start" stroke="#666" stroke-width="0" textLength="4.60" lengthAdjust="spacingAndGlyphs" >0.1</text>
<text x="240.30" y="132.30" font-size="4.7" fill="#666" text-anchor="start" stroke="#666" stroke-width="0" textLength="6.40" lengthAdjust="spacingAndGlyphs" >0.01</text>
<text x="247.10" y="132.30" font-size="4.7" fill="#666" text-anchor="start" stroke="#666" stroke-width="0" textLength="4.00" lengthAdjust="spacingAndGlyphs" >10</text>
<text x="251.30" y="130.40" font-size="3.0" fill="#666" text-anchor="start" stroke="#666" stroke-width="0" >-3</text>
<text x="258.00" y="132.30" font-size="4.7" fill="#666" text-anchor="start" stroke="#666" stroke-width="0" textLength="4.00" lengthAdjust="spacingAndGlyphs" >10</text>
<text x="262.20" y="130.40" font-size="3.0" fill="#666" text-anchor="start" stroke="#666" stroke-width="0" >-4</text>
<text x="266.20" y="132.30" font-size="4.7" fill="#666" text-anchor="start" stroke="#666" stroke-width="0" textLength="4.00" lengthAdjust="spacingAndGlyphs" >10</text>
<text x="270.40" y="130.40" font-size="3.0" fill="#666" text-anchor="start" stroke="#666" stroke-width="0" >-5</text>
<text x="274.90" y="132.30" font-size="4.7" fill="#666" text-anchor="start" stroke="#666" stroke-width="0" textLength="4.00" lengthAdjust="spacingAndGlyphs" >10</text>
<text x="279.10" y="130.40" font-size="3.0" fill="#666" text-anchor="start" stroke="#666" stroke-width="0" >-10</text>
<text x="288.00" y="132.30" font-size="4.7" fill="#666" text-anchor="start" stroke="#666" stroke-width="0" textLength="4.00" lengthAdjust="spacingAndGlyphs" >10</text>
<text x="292.20" y="130.40" font-size="3.0" fill="#666" text-anchor="start" stroke="#666" stroke-width="0" >-15</text>
<text x="300.00" y="132.30" font-size="4.7" fill="#666" text-anchor="start" stroke="#666" stroke-width="0" textLength="4.00" lengthAdjust="spacingAndGlyphs" >10</text>
<text x="304.20" y="130.40" font-size="3.0" fill="#666" text-anchor="start" stroke="#666" stroke-width="0" >-20</text>
<text x="306.80" y="132.30" font-size="4.7" fill="#666" text-anchor="start" stroke="#666" stroke-width="0" textLength="4.00" lengthAdjust="spacingAndGlyphs" >10</text>
<text x="311.00" y="130.40" font-size="3.0" fill="#666" text-anchor="start" stroke="#666" stroke-width="0" >-25</text>
<text x="210.10" y="136.60" font-size="4.7" fill="#666" text-anchor="middle" stroke="#666" stroke-width="0" textLength="13.40" lengthAdjust="spacingAndGlyphs" >P value</text>
<text x="210.10" y="144.80" font-size="4.7" fill="#666" text-anchor="middle" stroke="#666" stroke-width="0" textLength="17.50" lengthAdjust="spacingAndGlyphs" >|Z score|</text>
<text x="8.80" y="163.30" font-size="11.8" fill="#1a1a1a" text-anchor="start" stroke="#1a1a1a" stroke-width="0" textLength="6.30" lengthAdjust="spacingAndGlyphs" >B</text>
<rect x="7" y="169" width="12" height="17" fill="#fbfbf9"/>
<line x1="84.13" y1="186.36" x2="93.97" y2="188.18" stroke="#6a26a6" stroke-width="0.95"/>
<circle cx="84.13" cy="186.36" r="1.6" fill="#4e1686"/>
<circle cx="93.97" cy="188.18" r="1.6" fill="#4e1686"/>
<line x1="83.73" y1="188.52" x2="93.57" y2="190.34" stroke="#141414" stroke-width="0.95"/>
<circle cx="83.73" cy="188.52" r="1.6" fill="#111"/>
<circle cx="93.57" cy="190.34" r="1.6" fill="#111"/>
<line x1="58.99" y1="191.32" x2="47.29" y2="196.40" stroke="#6a26a6" stroke-width="0.95"/>
<circle cx="58.99" cy="191.32" r="1.6" fill="#4e1686"/>
<circle cx="47.29" cy="196.40" r="1.6" fill="#4e1686"/>
<line x1="58.11" y1="189.30" x2="46.41" y2="194.38" stroke="#141414" stroke-width="0.95"/>
<circle cx="58.11" cy="189.30" r="1.6" fill="#111"/>
<circle cx="46.41" cy="194.38" r="1.6" fill="#111"/>
<line x1="82.79" y1="190.99" x2="121.06" y2="214.23" stroke="#6a26a6" stroke-width="0.95"/>
<circle cx="82.79" cy="190.99" r="1.6" fill="#4e1686"/>
<circle cx="121.06" cy="214.23" r="1.6" fill="#4e1686"/>
<line x1="81.64" y1="192.87" x2="119.91" y2="216.11" stroke="#141414" stroke-width="0.95"/>
<circle cx="81.64" cy="192.87" r="1.6" fill="#111"/>
<circle cx="119.91" cy="216.11" r="1.6" fill="#111"/>
<line x1="66.97" y1="197.84" x2="58.68" y2="219.06" stroke="#6a26a6" stroke-width="0.95"/>
<circle cx="66.97" cy="197.84" r="1.6" fill="#4e1686"/>
<circle cx="58.68" cy="219.06" r="1.6" fill="#4e1686"/>
<line x1="64.92" y1="197.04" x2="56.63" y2="218.26" stroke="#141414" stroke-width="0.95"/>
<circle cx="64.92" cy="197.04" r="1.6" fill="#111"/>
<circle cx="56.63" cy="218.26" r="1.6" fill="#111"/>
<line x1="77.00" y1="196.88" x2="88.72" y2="224.67" stroke="#6a26a6" stroke-width="0.95"/>
<circle cx="77.00" cy="196.88" r="1.6" fill="#4e1686"/>
<circle cx="88.72" cy="224.67" r="1.6" fill="#4e1686"/>
<line x1="74.98" y1="197.73" x2="86.70" y2="225.52" stroke="#141414" stroke-width="0.95"/>
<circle cx="74.98" cy="197.73" r="1.6" fill="#111"/>
<circle cx="86.70" cy="225.52" r="1.6" fill="#111"/>
<line x1="63.18" y1="196.02" x2="29.63" y2="236.88" stroke="#6a26a6" stroke-width="0.95"/>
<circle cx="63.18" cy="196.02" r="1.6" fill="#4e1686"/>
<circle cx="29.63" cy="236.88" r="1.6" fill="#4e1686"/>
<line x1="61.47" y1="194.62" x2="27.92" y2="235.48" stroke="#141414" stroke-width="0.95"/>
<circle cx="61.47" cy="194.62" r="1.6" fill="#111"/>
<circle cx="27.92" cy="235.48" r="1.6" fill="#111"/>
<line x1="80.60" y1="194.14" x2="123.29" y2="249.68" stroke="#6a26a6" stroke-width="0.95"/>
<circle cx="80.60" cy="194.14" r="1.6" fill="#4e1686"/>
<circle cx="123.29" cy="249.68" r="1.6" fill="#4e1686"/>
<line x1="78.97" y1="195.62" x2="121.43" y2="250.88" stroke="#141414" stroke-width="0.95"/>
<circle cx="78.97" cy="195.62" r="1.6" fill="#111"/>
<circle cx="121.43" cy="250.88" r="1.6" fill="#111"/>
<line x1="77.11" y1="196.82" x2="119.80" y2="252.36" stroke="#3a3ab0" stroke-width="0.95"/>
<circle cx="77.11" cy="196.82" r="1.6" fill="#3a2a90"/>
<circle cx="119.80" cy="252.36" r="1.6" fill="#3a2a90"/>
<line x1="67.80" y1="198.06" x2="45.69" y2="267.61" stroke="#6a26a6" stroke-width="0.95"/>
<circle cx="67.80" cy="198.06" r="1.6" fill="#4e1686"/>
<circle cx="45.69" cy="267.61" r="1.6" fill="#4e1686"/>
<line x1="65.71" y1="197.39" x2="43.60" y2="266.94" stroke="#141414" stroke-width="0.95"/>
<circle cx="65.71" cy="197.39" r="1.6" fill="#111"/>
<circle cx="43.60" cy="266.94" r="1.6" fill="#111"/>
<line x1="76.00" y1="197.35" x2="101.19" y2="274.27" stroke="#6a26a6" stroke-width="0.95"/>
<circle cx="76.00" cy="197.35" r="1.6" fill="#4e1686"/>
<circle cx="101.19" cy="274.27" r="1.6" fill="#4e1686"/>
<line x1="73.91" y1="198.03" x2="99.10" y2="274.95" stroke="#141414" stroke-width="0.95"/>
<circle cx="73.91" cy="198.03" r="1.6" fill="#111"/>
<circle cx="99.10" cy="274.95" r="1.6" fill="#111"/>
<line x1="71.92" y1="198.35" x2="72.08" y2="280.24" stroke="#6a26a6" stroke-width="0.95"/>
<circle cx="71.92" cy="198.35" r="1.6" fill="#4e1686"/>
<circle cx="72.08" cy="280.24" r="1.6" fill="#4e1686"/>
<line x1="69.72" y1="198.36" x2="69.88" y2="280.25" stroke="#141414" stroke-width="0.95"/>
<circle cx="69.72" cy="198.36" r="1.6" fill="#111"/>
<circle cx="69.88" cy="280.25" r="1.6" fill="#111"/>
<line x1="94.05" y1="195.52" x2="47.99" y2="201.25" stroke="#6a26a6" stroke-width="0.95"/>
<circle cx="94.05" cy="195.52" r="1.6" fill="#4e1686"/>
<circle cx="47.99" cy="201.25" r="1.6" fill="#4e1686"/>
<line x1="93.60" y1="193.36" x2="47.90" y2="199.04" stroke="#141414" stroke-width="0.95"/>
<circle cx="93.60" cy="193.36" r="1.6" fill="#111"/>
<circle cx="47.90" cy="199.04" r="1.6" fill="#111"/>
<line x1="93.51" y1="191.15" x2="47.45" y2="196.88" stroke="#3a3ab0" stroke-width="0.95"/>
<circle cx="93.51" cy="191.15" r="1.6" fill="#3a2a90"/>
<circle cx="47.45" cy="196.88" r="1.6" fill="#3a2a90"/>
<line x1="116.23" y1="201.32" x2="124.27" y2="211.09" stroke="#6a26a6" stroke-width="0.95"/>
<circle cx="116.23" cy="201.32" r="1.6" fill="#4e1686"/>
<circle cx="124.27" cy="211.09" r="1.6" fill="#4e1686"/>
<line x1="114.53" y1="202.71" x2="122.57" y2="212.48" stroke="#141414" stroke-width="0.95"/>
<circle cx="114.53" cy="202.71" r="1.6" fill="#111"/>
<circle cx="122.57" cy="212.48" r="1.6" fill="#111"/>
<line x1="97.51" y1="201.26" x2="64.78" y2="225.10" stroke="#6a26a6" stroke-width="0.95"/>
<circle cx="97.51" cy="201.26" r="1.6" fill="#4e1686"/>
<circle cx="64.78" cy="225.10" r="1.6" fill="#4e1686"/>
<line x1="96.07" y1="199.59" x2="63.63" y2="223.21" stroke="#141414" stroke-width="0.95"/>
<circle cx="96.07" cy="199.59" r="1.6" fill="#111"/>
<circle cx="63.63" cy="223.21" r="1.6" fill="#111"/>
<line x1="94.92" y1="197.70" x2="62.19" y2="221.54" stroke="#3a3ab0" stroke-width="0.95"/>
<circle cx="94.92" cy="197.70" r="1.6" fill="#3a2a90"/>
<circle cx="62.19" cy="221.54" r="1.6" fill="#3a2a90"/>
<line x1="104.04" y1="204.79" x2="97.86" y2="224.95" stroke="#6a26a6" stroke-width="0.95"/>
<circle cx="104.04" cy="204.79" r="1.6" fill="#4e1686"/>
<circle cx="97.86" cy="224.95" r="1.6" fill="#4e1686"/>
<line x1="101.94" y1="204.15" x2="95.76" y2="224.31" stroke="#141414" stroke-width="0.95"/>
<circle cx="101.94" cy="204.15" r="1.6" fill="#111"/>
<circle cx="95.76" cy="224.31" r="1.6" fill="#111"/>
<line x1="96.20" y1="199.77" x2="32.17" y2="240.29" stroke="#6a26a6" stroke-width="0.95"/>
<circle cx="96.20" cy="199.77" r="1.6" fill="#4e1686"/>
<circle cx="32.17" cy="240.29" r="1.6" fill="#4e1686"/>
<line x1="95.03" y1="197.91" x2="31.00" y2="238.43" stroke="#141414" stroke-width="0.95"/>
<circle cx="95.03" cy="197.91" r="1.6" fill="#111"/>
<circle cx="31.00" cy="238.43" r="1.6" fill="#111"/>
<line x1="113.08" y1="203.59" x2="127.60" y2="248.25" stroke="#6a26a6" stroke-width="0.95"/>
<circle cx="113.08" cy="203.59" r="1.6" fill="#4e1686"/>
<circle cx="127.60" cy="248.25" r="1.6" fill="#4e1686"/>
<line x1="111.04" y1="204.44" x2="125.46" y2="248.76" stroke="#141414" stroke-width="0.95"/>
<circle cx="111.04" cy="204.44" r="1.6" fill="#111"/>
<circle cx="125.46" cy="248.76" r="1.6" fill="#111"/>
<line x1="108.90" y1="204.95" x2="123.42" y2="249.61" stroke="#3a3ab0" stroke-width="0.95"/>
<circle cx="108.90" cy="204.95" r="1.6" fill="#3a2a90"/>
<circle cx="123.42" cy="249.61" r="1.6" fill="#3a2a90"/>
<line x1="99.76" y1="203.04" x2="49.50" y2="269.98" stroke="#6a26a6" stroke-width="0.95"/>
<circle cx="99.76" cy="203.04" r="1.6" fill="#4e1686"/>
<circle cx="49.50" cy="269.98" r="1.6" fill="#4e1686"/>
<line x1="98.00" y1="201.72" x2="47.74" y2="268.66" stroke="#141414" stroke-width="0.95"/>
<circle cx="98.00" cy="201.72" r="1.6" fill="#111"/>
<circle cx="47.74" cy="268.66" r="1.6" fill="#111"/>
<line x1="107.64" y1="205.08" x2="105.76" y2="273.98" stroke="#6a26a6" stroke-width="0.95"/>
<circle cx="107.64" cy="205.08" r="1.6" fill="#4e1686"/>
<circle cx="105.76" cy="273.98" r="1.6" fill="#4e1686"/>
<line x1="105.44" y1="205.02" x2="103.56" y2="273.92" stroke="#141414" stroke-width="0.95"/>
<circle cx="105.44" cy="205.02" r="1.6" fill="#111"/>
<circle cx="103.56" cy="273.92" r="1.6" fill="#111"/>
<line x1="103.50" y1="204.66" x2="76.48" y2="281.37" stroke="#6a26a6" stroke-width="0.95"/>
<circle cx="103.50" cy="204.66" r="1.6" fill="#4e1686"/>
<circle cx="76.48" cy="281.37" r="1.6" fill="#4e1686"/>
<line x1="101.42" y1="203.93" x2="74.40" y2="280.64" stroke="#141414" stroke-width="0.95"/>
<circle cx="101.42" cy="203.93" r="1.6" fill="#111"/>
<circle cx="74.40" cy="280.64" r="1.6" fill="#111"/>
<line x1="47.88" y1="202.49" x2="119.09" y2="218.16" stroke="#6a26a6" stroke-width="0.95"/>
<circle cx="47.88" cy="202.49" r="1.6" fill="#4e1686"/>
<circle cx="119.09" cy="218.16" r="1.6" fill="#4e1686"/>
<line x1="47.41" y1="204.64" x2="118.62" y2="220.31" stroke="#141414" stroke-width="0.95"/>
<circle cx="47.41" cy="204.64" r="1.6" fill="#111"/>
<circle cx="118.62" cy="220.31" r="1.6" fill="#111"/>
<line x1="43.28" y1="210.91" x2="47.90" y2="218.63" stroke="#6a26a6" stroke-width="0.95"/>
<circle cx="43.28" cy="210.91" r="1.6" fill="#4e1686"/>
<circle cx="47.90" cy="218.63" r="1.6" fill="#4e1686"/>
<line x1="41.48" y1="212.20" x2="45.92" y2="219.60" stroke="#141414" stroke-width="0.95"/>
<circle cx="41.48" cy="212.20" r="1.6" fill="#111"/>
<circle cx="45.92" cy="219.60" r="1.6" fill="#111"/>
<line x1="39.50" y1="213.17" x2="44.12" y2="220.89" stroke="#3a3ab0" stroke-width="0.95"/>
<circle cx="39.50" cy="213.17" r="1.6" fill="#3a2a90"/>
<circle cx="44.12" cy="220.89" r="1.6" fill="#3a2a90"/>
<line x1="46.96" y1="205.88" x2="82.89" y2="228.50" stroke="#6a26a6" stroke-width="0.95"/>
<circle cx="46.96" cy="205.88" r="1.6" fill="#4e1686"/>
<circle cx="82.89" cy="228.50" r="1.6" fill="#4e1686"/>
<line x1="45.94" y1="207.84" x2="81.56" y2="230.26" stroke="#141414" stroke-width="0.95"/>
<circle cx="45.94" cy="207.84" r="1.6" fill="#111"/>
<circle cx="81.56" cy="230.26" r="1.6" fill="#111"/>
<line x1="44.61" y1="209.60" x2="80.54" y2="232.22" stroke="#3a3ab0" stroke-width="0.95"/>
<circle cx="44.61" cy="209.60" r="1.6" fill="#3a2a90"/>
<circle cx="80.54" cy="232.22" r="1.6" fill="#3a2a90"/>
<line x1="31.67" y1="213.78" x2="25.33" y2="234.08" stroke="#6a26a6" stroke-width="0.95"/>
<circle cx="31.67" cy="213.78" r="1.6" fill="#4e1686"/>
<circle cx="25.33" cy="234.08" r="1.6" fill="#4e1686"/>
<line x1="29.57" y1="213.12" x2="23.23" y2="233.42" stroke="#141414" stroke-width="0.95"/>
<circle cx="29.57" cy="213.12" r="1.6" fill="#111"/>
<circle cx="23.23" cy="233.42" r="1.6" fill="#111"/>
<line x1="46.92" y1="205.97" x2="119.65" y2="252.52" stroke="#6a26a6" stroke-width="0.95"/>
<circle cx="46.92" cy="205.97" r="1.6" fill="#4e1686"/>
<circle cx="119.65" cy="252.52" r="1.6" fill="#4e1686"/>
<line x1="45.89" y1="207.92" x2="118.31" y2="254.28" stroke="#141414" stroke-width="0.95"/>
<circle cx="45.89" cy="207.92" r="1.6" fill="#111"/>
<circle cx="118.31" cy="254.28" r="1.6" fill="#111"/>
<line x1="44.55" y1="209.68" x2="117.28" y2="256.23" stroke="#3a3ab0" stroke-width="0.95"/>
<circle cx="44.55" cy="209.68" r="1.6" fill="#3a2a90"/>
<circle cx="117.28" cy="256.23" r="1.6" fill="#3a2a90"/>
<line x1="37.79" y1="213.71" x2="41.80" y2="266.65" stroke="#6a26a6" stroke-width="0.95"/>
<circle cx="37.79" cy="213.71" r="1.6" fill="#4e1686"/>
<circle cx="41.80" cy="266.65" r="1.6" fill="#4e1686"/>
<line x1="35.61" y1="214.06" x2="39.59" y2="266.64" stroke="#141414" stroke-width="0.95"/>
<circle cx="35.61" cy="214.06" r="1.6" fill="#111"/>
<circle cx="39.59" cy="266.64" r="1.6" fill="#111"/>
<line x1="33.40" y1="214.05" x2="37.41" y2="266.99" stroke="#3a3ab0" stroke-width="0.95"/>
<circle cx="33.40" cy="214.05" r="1.6" fill="#3a2a90"/>
<circle cx="37.41" cy="266.99" r="1.6" fill="#3a2a90"/>
<line x1="44.60" y1="209.62" x2="97.73" y2="275.62" stroke="#6a26a6" stroke-width="0.95"/>
<circle cx="44.60" cy="209.62" r="1.6" fill="#4e1686"/>
<circle cx="97.73" cy="275.62" r="1.6" fill="#4e1686"/>
<line x1="43.00" y1="211.14" x2="95.90" y2="276.86" stroke="#141414" stroke-width="0.95"/>
<circle cx="43.00" cy="211.14" r="1.6" fill="#111"/>
<circle cx="95.90" cy="276.86" r="1.6" fill="#111"/>
<line x1="41.17" y1="212.38" x2="94.30" y2="278.38" stroke="#3a3ab0" stroke-width="0.95"/>
<circle cx="41.17" cy="212.38" r="1.6" fill="#3a2a90"/>
<circle cx="94.30" cy="278.38" r="1.6" fill="#3a2a90"/>
<line x1="41.47" y1="212.20" x2="68.23" y2="280.49" stroke="#6a26a6" stroke-width="0.95"/>
<circle cx="41.47" cy="212.20" r="1.6" fill="#4e1686"/>
<circle cx="68.23" cy="280.49" r="1.6" fill="#4e1686"/>
<line x1="39.49" y1="213.18" x2="66.11" y2="281.12" stroke="#141414" stroke-width="0.95"/>
<circle cx="39.49" cy="213.18" r="1.6" fill="#111"/>
<circle cx="66.11" cy="281.12" r="1.6" fill="#111"/>
<line x1="37.37" y1="213.81" x2="64.13" y2="282.10" stroke="#3a3ab0" stroke-width="0.95"/>
<circle cx="37.37" cy="213.81" r="1.6" fill="#3a2a90"/>
<circle cx="64.13" cy="282.10" r="1.6" fill="#3a2a90"/>
<line x1="118.76" y1="224.70" x2="66.19" y2="230.68" stroke="#6a26a6" stroke-width="0.95"/>
<circle cx="118.76" cy="224.70" r="1.6" fill="#4e1686"/>
<circle cx="66.19" cy="230.68" r="1.6" fill="#4e1686"/>
<line x1="118.51" y1="222.52" x2="65.94" y2="228.50" stroke="#141414" stroke-width="0.95"/>
<circle cx="118.51" cy="222.52" r="1.6" fill="#111"/>
<circle cx="65.94" cy="228.50" r="1.6" fill="#111"/>
<line x1="119.87" y1="228.00" x2="105.73" y2="233.55" stroke="#6a26a6" stroke-width="0.95"/>
<circle cx="119.87" cy="228.00" r="1.6" fill="#4e1686"/>
<circle cx="105.73" cy="233.55" r="1.6" fill="#4e1686"/>
<line x1="119.07" y1="225.95" x2="104.93" y2="231.50" stroke="#141414" stroke-width="0.95"/>
<circle cx="119.07" cy="225.95" r="1.6" fill="#111"/>
<circle cx="104.93" cy="231.50" r="1.6" fill="#111"/>
<line x1="119.09" y1="226.03" x2="33.58" y2="244.72" stroke="#6a26a6" stroke-width="0.95"/>
<circle cx="119.09" cy="226.03" r="1.6" fill="#4e1686"/>
<circle cx="33.58" cy="244.72" r="1.6" fill="#4e1686"/>
<line x1="118.62" y1="223.88" x2="33.11" y2="242.57" stroke="#141414" stroke-width="0.95"/>
<circle cx="118.62" cy="223.88" r="1.6" fill="#111"/>
<circle cx="33.11" cy="242.57" r="1.6" fill="#111"/>
<line x1="132.22" y1="235.50" x2="131.48" y2="248.23" stroke="#6a26a6" stroke-width="0.95"/>
<circle cx="132.22" cy="235.50" r="1.6" fill="#4e1686"/>
<circle cx="131.48" cy="248.23" r="1.6" fill="#4e1686"/>
<line x1="130.02" y1="235.37" x2="129.28" y2="248.10" stroke="#141414" stroke-width="0.95"/>
<circle cx="130.02" cy="235.37" r="1.6" fill="#111"/>
<circle cx="129.28" cy="248.10" r="1.6" fill="#111"/>
<line x1="121.21" y1="230.18" x2="52.47" y2="273.78" stroke="#6a26a6" stroke-width="0.95"/>
<circle cx="121.21" cy="230.18" r="1.6" fill="#4e1686"/>
<circle cx="52.47" cy="273.78" r="1.6" fill="#4e1686"/>
<line x1="120.03" y1="228.32" x2="51.29" y2="271.92" stroke="#141414" stroke-width="0.95"/>
<circle cx="120.03" cy="228.32" r="1.6" fill="#111"/>
<circle cx="51.29" cy="271.92" r="1.6" fill="#111"/>
<line x1="127.71" y1="234.83" x2="110.52" y2="275.43" stroke="#6a26a6" stroke-width="0.95"/>
<circle cx="127.71" cy="234.83" r="1.6" fill="#4e1686"/>
<circle cx="110.52" cy="275.43" r="1.6" fill="#4e1686"/>
<line x1="125.68" y1="233.97" x2="108.49" y2="274.57" stroke="#141414" stroke-width="0.95"/>
<circle cx="125.68" cy="233.97" r="1.6" fill="#111"/>
<circle cx="108.49" cy="274.57" r="1.6" fill="#111"/>
<line x1="124.08" y1="232.98" x2="80.50" y2="284.15" stroke="#6a26a6" stroke-width="0.95"/>
<circle cx="124.08" cy="232.98" r="1.6" fill="#4e1686"/>
<circle cx="80.50" cy="284.15" r="1.6" fill="#4e1686"/>
<line x1="122.40" y1="231.55" x2="78.82" y2="282.72" stroke="#141414" stroke-width="0.95"/>
<circle cx="122.40" cy="231.55" r="1.6" fill="#111"/>
<circle cx="78.82" cy="282.72" r="1.6" fill="#111"/>
<line x1="66.16" y1="232.09" x2="79.88" y2="234.24" stroke="#6a26a6" stroke-width="0.95"/>
<circle cx="66.16" cy="232.09" r="1.6" fill="#4e1686"/>
<circle cx="79.88" cy="234.24" r="1.6" fill="#4e1686"/>
<line x1="65.82" y1="234.26" x2="79.54" y2="236.41" stroke="#141414" stroke-width="0.95"/>
<circle cx="65.82" cy="234.26" r="1.6" fill="#111"/>
<circle cx="79.54" cy="236.41" r="1.6" fill="#111"/>
<line x1="41.80" y1="238.75" x2="33.19" y2="242.83" stroke="#6a26a6" stroke-width="0.95"/>
<circle cx="41.80" cy="238.75" r="1.6" fill="#4e1686"/>
<circle cx="33.19" cy="242.83" r="1.6" fill="#4e1686"/>
<line x1="40.69" y1="236.84" x2="32.41" y2="240.76" stroke="#141414" stroke-width="0.95"/>
<circle cx="40.69" cy="236.84" r="1.6" fill="#111"/>
<circle cx="32.41" cy="240.76" r="1.6" fill="#111"/>
<line x1="39.91" y1="234.77" x2="31.30" y2="238.85" stroke="#3a3ab0" stroke-width="0.95"/>
<circle cx="39.91" cy="234.77" r="1.6" fill="#3a2a90"/>
<circle cx="31.30" cy="238.85" r="1.6" fill="#3a2a90"/>
<line x1="65.62" y1="234.99" x2="117.59" y2="255.56" stroke="#6a26a6" stroke-width="0.95"/>
<circle cx="65.62" cy="234.99" r="1.6" fill="#4e1686"/>
<circle cx="117.59" cy="255.56" r="1.6" fill="#4e1686"/>
<line x1="64.81" y1="237.04" x2="116.78" y2="257.61" stroke="#141414" stroke-width="0.95"/>
<circle cx="64.81" cy="237.04" r="1.6" fill="#111"/>
<circle cx="116.78" cy="257.61" r="1.6" fill="#111"/>
<line x1="50.63" y1="244.32" x2="44.90" y2="267.31" stroke="#6a26a6" stroke-width="0.95"/>
<circle cx="50.63" cy="244.32" r="1.6" fill="#4e1686"/>
<circle cx="44.90" cy="267.31" r="1.6" fill="#4e1686"/>
<line x1="48.50" y1="243.79" x2="42.77" y2="266.78" stroke="#141414" stroke-width="0.95"/>
<circle cx="48.50" cy="243.79" r="1.6" fill="#111"/>
<circle cx="42.77" cy="266.78" r="1.6" fill="#111"/>
<line x1="62.63" y1="240.20" x2="96.09" y2="276.71" stroke="#6a26a6" stroke-width="0.95"/>
<circle cx="62.63" cy="240.20" r="1.6" fill="#4e1686"/>
<circle cx="96.09" cy="276.71" r="1.6" fill="#4e1686"/>
<line x1="61.01" y1="241.69" x2="94.47" y2="278.20" stroke="#141414" stroke-width="0.95"/>
<circle cx="61.01" cy="241.69" r="1.6" fill="#111"/>
<circle cx="94.47" cy="278.20" r="1.6" fill="#111"/>
<line x1="57.59" y1="243.61" x2="68.32" y2="280.47" stroke="#6a26a6" stroke-width="0.95"/>
<circle cx="57.59" cy="243.61" r="1.6" fill="#4e1686"/>
<circle cx="68.32" cy="280.47" r="1.6" fill="#4e1686"/>
<line x1="55.48" y1="244.23" x2="66.21" y2="281.09" stroke="#141414" stroke-width="0.95"/>
<circle cx="55.48" cy="244.23" r="1.6" fill="#111"/>
<circle cx="66.21" cy="281.09" r="1.6" fill="#111"/>
<line x1="79.79" y1="240.15" x2="33.69" y2="245.93" stroke="#6a26a6" stroke-width="0.95"/>
<circle cx="79.79" cy="240.15" r="1.6" fill="#4e1686"/>
<circle cx="33.69" cy="245.93" r="1.6" fill="#4e1686"/>
<line x1="79.51" y1="237.97" x2="33.41" y2="243.75" stroke="#141414" stroke-width="0.95"/>
<circle cx="79.51" cy="237.97" r="1.6" fill="#111"/>
<circle cx="33.41" cy="243.75" r="1.6" fill="#111"/>
<line x1="105.16" y1="242.82" x2="119.76" y2="252.41" stroke="#6a26a6" stroke-width="0.95"/>
<circle cx="105.16" cy="242.82" r="1.6" fill="#4e1686"/>
<circle cx="119.76" cy="252.41" r="1.6" fill="#4e1686"/>
<line x1="104.10" y1="244.76" x2="118.40" y2="254.14" stroke="#141414" stroke-width="0.95"/>
<circle cx="104.10" cy="244.76" r="1.6" fill="#111"/>
<circle cx="118.40" cy="254.14" r="1.6" fill="#111"/>
<line x1="102.74" y1="246.49" x2="117.34" y2="256.08" stroke="#3a3ab0" stroke-width="0.95"/>
<circle cx="102.74" cy="246.49" r="1.6" fill="#3a2a90"/>
<circle cx="117.34" cy="256.08" r="1.6" fill="#3a2a90"/>
<line x1="84.04" y1="247.45" x2="52.24" y2="273.36" stroke="#6a26a6" stroke-width="0.95"/>
<circle cx="84.04" cy="247.45" r="1.6" fill="#4e1686"/>
<circle cx="52.24" cy="273.36" r="1.6" fill="#4e1686"/>
<line x1="82.51" y1="245.86" x2="50.99" y2="271.54" stroke="#141414" stroke-width="0.95"/>
<circle cx="82.51" cy="245.86" r="1.6" fill="#111"/>
<circle cx="50.99" cy="271.54" r="1.6" fill="#111"/>
<line x1="81.26" y1="244.04" x2="49.46" y2="269.95" stroke="#3a3ab0" stroke-width="0.95"/>
<circle cx="81.26" cy="244.04" r="1.6" fill="#3a2a90"/>
<circle cx="49.46" cy="269.95" r="1.6" fill="#3a2a90"/>
<line x1="97.99" y1="249.80" x2="103.50" y2="273.92" stroke="#6a26a6" stroke-width="0.95"/>
<circle cx="97.99" cy="249.80" r="1.6" fill="#4e1686"/>
<circle cx="103.50" cy="273.92" r="1.6" fill="#4e1686"/>
<line x1="95.88" y1="250.46" x2="101.32" y2="274.24" stroke="#141414" stroke-width="0.95"/>
<circle cx="95.88" cy="250.46" r="1.6" fill="#111"/>
<circle cx="101.32" cy="274.24" r="1.6" fill="#111"/>
<line x1="93.70" y1="250.78" x2="99.21" y2="274.90" stroke="#3a3ab0" stroke-width="0.95"/>
<circle cx="93.70" cy="250.78" r="1.6" fill="#3a2a90"/>
<circle cx="99.21" cy="274.90" r="1.6" fill="#3a2a90"/>
<line x1="89.08" y1="250.24" x2="76.87" y2="281.56" stroke="#6a26a6" stroke-width="0.95"/>
<circle cx="89.08" cy="250.24" r="1.6" fill="#4e1686"/>
<circle cx="76.87" cy="281.56" r="1.6" fill="#4e1686"/>
<line x1="87.03" y1="249.44" x2="74.82" y2="280.76" stroke="#141414" stroke-width="0.95"/>
<circle cx="87.03" cy="249.44" r="1.6" fill="#111"/>
<circle cx="74.82" cy="280.76" r="1.6" fill="#111"/>
<line x1="33.68" y1="247.23" x2="116.52" y2="258.59" stroke="#6a26a6" stroke-width="0.95"/>
<circle cx="33.68" cy="247.23" r="1.6" fill="#4e1686"/>
<circle cx="116.52" cy="258.59" r="1.6" fill="#4e1686"/>
<line x1="33.38" y1="249.41" x2="116.22" y2="260.77" stroke="#141414" stroke-width="0.95"/>
<circle cx="33.38" cy="249.41" r="1.6" fill="#111"/>
<circle cx="116.22" cy="260.77" r="1.6" fill="#111"/>
<line x1="28.16" y1="257.35" x2="34.62" y2="268.01" stroke="#6a26a6" stroke-width="0.95"/>
<circle cx="28.16" cy="257.35" r="1.6" fill="#4e1686"/>
<circle cx="34.62" cy="268.01" r="1.6" fill="#4e1686"/>
<line x1="26.28" y1="258.49" x2="32.74" y2="269.15" stroke="#141414" stroke-width="0.95"/>
<circle cx="26.28" cy="258.49" r="1.6" fill="#111"/>
<circle cx="32.74" cy="269.15" r="1.6" fill="#111"/>
<line x1="32.79" y1="251.35" x2="92.77" y2="280.48" stroke="#6a26a6" stroke-width="0.95"/>
<circle cx="32.79" cy="251.35" r="1.6" fill="#4e1686"/>
<circle cx="92.77" cy="280.48" r="1.6" fill="#4e1686"/>
<line x1="31.83" y1="253.32" x2="91.81" y2="282.45" stroke="#141414" stroke-width="0.95"/>
<circle cx="31.83" cy="253.32" r="1.6" fill="#111"/>
<circle cx="91.81" cy="282.45" r="1.6" fill="#111"/>
<line x1="30.83" y1="254.78" x2="61.96" y2="283.70" stroke="#6a26a6" stroke-width="0.95"/>
<circle cx="30.83" cy="254.78" r="1.6" fill="#4e1686"/>
<circle cx="61.96" cy="283.70" r="1.6" fill="#4e1686"/>
<line x1="29.34" y1="256.40" x2="60.47" y2="285.32" stroke="#141414" stroke-width="0.95"/>
<circle cx="29.34" cy="256.40" r="1.6" fill="#111"/>
<circle cx="60.47" cy="285.32" r="1.6" fill="#111"/>
<line x1="116.75" y1="265.29" x2="53.90" y2="278.36" stroke="#6a26a6" stroke-width="0.95"/>
<circle cx="116.75" cy="265.29" r="1.6" fill="#4e1686"/>
<circle cx="53.90" cy="278.36" r="1.6" fill="#4e1686"/>
<line x1="116.30" y1="263.14" x2="53.45" y2="276.21" stroke="#141414" stroke-width="0.95"/>
<circle cx="116.30" cy="263.14" r="1.6" fill="#111"/>
<circle cx="53.45" cy="276.21" r="1.6" fill="#111"/>
<line x1="121.92" y1="272.48" x2="115.13" y2="279.40" stroke="#6a26a6" stroke-width="0.95"/>
<circle cx="121.92" cy="272.48" r="1.6" fill="#4e1686"/>
<circle cx="115.13" cy="279.40" r="1.6" fill="#4e1686"/>
<line x1="120.22" y1="271.07" x2="113.68" y2="277.73" stroke="#141414" stroke-width="0.95"/>
<circle cx="120.22" cy="271.07" r="1.6" fill="#111"/>
<circle cx="113.68" cy="277.73" r="1.6" fill="#111"/>
<line x1="118.77" y1="269.40" x2="111.98" y2="276.32" stroke="#3a3ab0" stroke-width="0.95"/>
<circle cx="118.77" cy="269.40" r="1.6" fill="#3a2a90"/>
<circle cx="111.98" cy="276.32" r="1.6" fill="#3a2a90"/>
<line x1="119.06" y1="269.78" x2="83.65" y2="289.18" stroke="#6a26a6" stroke-width="0.95"/>
<circle cx="119.06" cy="269.78" r="1.6" fill="#4e1686"/>
<circle cx="83.65" cy="289.18" r="1.6" fill="#4e1686"/>
<line x1="117.85" y1="267.94" x2="82.75" y2="287.16" stroke="#141414" stroke-width="0.95"/>
<circle cx="117.85" cy="267.94" r="1.6" fill="#111"/>
<circle cx="82.75" cy="287.16" r="1.6" fill="#111"/>
<line x1="116.95" y1="265.92" x2="81.54" y2="285.32" stroke="#3a3ab0" stroke-width="0.95"/>
<circle cx="116.95" cy="265.92" r="1.6" fill="#3a2a90"/>
<circle cx="81.54" cy="285.32" r="1.6" fill="#3a2a90"/>
<line x1="53.99" y1="280.43" x2="91.16" y2="284.69" stroke="#6a26a6" stroke-width="0.95"/>
<circle cx="53.99" cy="280.43" r="1.6" fill="#4e1686"/>
<circle cx="91.16" cy="284.69" r="1.6" fill="#4e1686"/>
<line x1="53.74" y1="282.61" x2="90.91" y2="286.87" stroke="#141414" stroke-width="0.95"/>
<circle cx="53.74" cy="282.61" r="1.6" fill="#111"/>
<circle cx="90.91" cy="286.87" r="1.6" fill="#111"/>
<line x1="53.24" y1="284.45" x2="59.26" y2="287.14" stroke="#6a26a6" stroke-width="0.95"/>
<circle cx="53.24" cy="284.45" r="1.6" fill="#4e1686"/>
<circle cx="59.26" cy="287.14" r="1.6" fill="#4e1686"/>
<line x1="52.34" y1="286.46" x2="58.36" y2="289.15" stroke="#141414" stroke-width="0.95"/>
<circle cx="52.34" cy="286.46" r="1.6" fill="#111"/>
<circle cx="58.36" cy="289.15" r="1.6" fill="#111"/>
<line x1="91.38" y1="290.86" x2="84.33" y2="292.20" stroke="#6a26a6" stroke-width="0.95"/>
<circle cx="91.38" cy="290.86" r="1.6" fill="#4e1686"/>
<circle cx="84.33" cy="292.20" r="1.6" fill="#4e1686"/>
<line x1="90.97" y1="288.70" x2="83.92" y2="290.04" stroke="#141414" stroke-width="0.95"/>
<circle cx="90.97" cy="288.70" r="1.6" fill="#111"/>
<circle cx="83.92" cy="290.04" r="1.6" fill="#111"/>
<polygon points="58.5,244.5 62.8,247.2 59.2,249.0" fill="#1a9a3a"/>
<circle cx="70.50" cy="186.60" r="11.799999999999999" fill="#000" opacity="0.45" filter="url(#shblur)"/>
<circle cx="70.80" cy="185.00" r="11.6" fill="url(#nRAMP3)" stroke="#5d684d" stroke-width="0.8"/>
<ellipse cx="70.80" cy="178.97" rx="7.66" ry="3.94" fill="url(#hl)"/>
<circle cx="106.60" cy="193.30" r="11.799999999999999" fill="#000" opacity="0.45" filter="url(#shblur)"/>
<circle cx="106.90" cy="191.70" r="11.6" fill="url(#nADM2)" stroke="#40445e" stroke-width="0.8"/>
<path d="M105.5,193.9 L106.5,194.2 L105.7,195.7 L104.9,196.1 L105.2,197.7 L104.2,198.0 L104.8,198.4 L104.1,198.6 L104.1,198.0 L102.6,197.6 L103.6,197.7 L104.3,199.2 L105.8,198.3 L106.9,197.8 L106.5,197.9 L107.4,198.5 L108.3,198.5 L108.9,198.4 L108.4,198.4 L110.1,197.0 L108.6,198.3 L110.3,198.4 L110.4,196.7 L111.0,197.1 L112.5,196.7 L110.9,197.2 L110.8,197.2 L110.8,198.5 L111.1,196.7 L109.4,197.3 L109.4,195.8 L108.2,197.0 L107.7,195.9 L106.3,197.2 L105.3,198.1 L106.2,196.7 L106.1,195.5 L106.1,194.1 L104.3,195.4 L103.3,196.9 L103.8,196.9 L104.9,197.3 L104.4,197.1 L104.3,198.7 L105.8,199.5 L106.6,198.7 L107.2,198.1 L105.7,197.1 L104.1,197.9 L105.2,198.5 L104.3,198.1 L103.4,197.8 L103.3,197.5 L102.0,196.3 L103.6,196.4 L103.9,196.8 L104.6,197.4 L103.8,196.6 L103.9,197.6 L102.5,197.3 L102.6,196.8 L102.5,195.1 L103.1,196.8 L103.6,196.7 L105.0,198.4 L105.8,197.2 L107.6,196.1 L108.0,197.5 L108.9,197.3 L107.6,197.9" fill="none" stroke="#1a8a8a" stroke-width="0.5" stroke-linejoin="round" opacity="0.7"/>
<ellipse cx="106.90" cy="185.67" rx="7.66" ry="3.94" fill="url(#hl)"/>
<circle cx="34.30" cy="202.30" r="11.799999999999999" fill="#000" opacity="0.45" filter="url(#shblur)"/>
<circle cx="34.60" cy="200.70" r="11.6" fill="url(#nCALCA)" stroke="#385b4d" stroke-width="0.8"/>
<path d="M34.6,196.7 L35.7,197.0 L35.7,197.4 L34.6,197.7 L33.5,198.0 L33.5,198.4 L34.6,198.7 L35.7,199.0 L35.7,199.4 L34.6,199.7 L33.5,200.0 L33.5,200.4 L34.6,200.7 L35.7,201.0 L35.7,201.4 L34.6,201.7 L33.5,202.0 L33.5,202.4 L34.6,202.7 L35.7,203.0 L35.7,203.4 L34.6,203.7 L33.5,204.0 L33.5,204.4 L34.6,204.7 L35.7,205.0 L35.7,205.4 L34.6,205.7 L33.5,206.0 L33.5,206.4 L34.6,206.7" fill="none" stroke="#109a60" stroke-width="0.5" stroke-linejoin="round" opacity="0.7"/>
<ellipse cx="34.60" cy="194.67" rx="7.66" ry="3.94" fill="url(#hl)"/>
<circle cx="131.60" cy="223.70" r="11.799999999999999" fill="#000" opacity="0.45" filter="url(#shblur)"/>
<circle cx="131.90" cy="222.10" r="11.6" fill="url(#nCALCB)" stroke="#295452" stroke-width="0.8"/>
<path d="M131.9,218.1 L133.0,218.4 L133.0,218.8 L131.9,219.1 L130.8,219.4 L130.8,219.8 L131.9,220.1 L133.0,220.4 L133.0,220.8 L131.9,221.1 L130.8,221.4 L130.8,221.8 L131.9,222.1 L133.0,222.4 L133.0,222.8 L131.9,223.1 L130.8,223.4 L130.8,223.8 L131.9,224.1 L133.0,224.4 L133.0,224.8 L131.9,225.1 L130.8,225.4 L130.8,225.8 L131.9,226.1 L133.0,226.4 L133.0,226.8 L131.9,227.1 L130.8,227.4 L130.8,227.8 L131.9,228.1" fill="none" stroke="#10a0a0" stroke-width="0.5" stroke-linejoin="round" opacity="0.7"/>
<ellipse cx="131.90" cy="216.07" rx="7.66" ry="3.94" fill="url(#hl)"/>
<circle cx="52.50" cy="232.70" r="11.799999999999999" fill="#000" opacity="0.45" filter="url(#shblur)"/>
<circle cx="52.80" cy="231.10" r="11.6" fill="url(#nCALCRL)" stroke="#68403e" stroke-width="0.8"/>
<path d="M47.8,235.1 L48.7,236.0 L49.0,235.8 L48.8,234.5 L48.6,233.2 L48.9,233.0 L49.8,233.9 L50.7,234.8 L51.0,234.6 L50.8,233.3 L50.6,232.0 L50.9,231.8 L51.8,232.7 L52.7,233.6 L53.0,233.4 L52.8,232.1 L52.6,230.8 L52.9,230.6 L53.8,231.5 L54.7,232.4 L55.0,232.2 L54.8,230.9 L54.6,229.6 L54.9,229.4 L55.8,230.3 L56.7,231.2 L57.0,231.0 L56.8,229.7 L56.6,228.4 L56.9,228.2 L57.8,229.1" fill="none" stroke="#d05a9a" stroke-width="0.5" stroke-linejoin="round" opacity="0.7"/>
<ellipse cx="52.80" cy="225.07" rx="7.66" ry="3.94" fill="url(#hl)"/>
<circle cx="92.60" cy="239.00" r="11.799999999999999" fill="#000" opacity="0.45" filter="url(#shblur)"/>
<circle cx="92.90" cy="237.40" r="11.6" fill="url(#nNPS)" stroke="#554e68" stroke-width="0.8"/>
<ellipse cx="92.90" cy="231.37" rx="7.66" ry="3.94" fill="url(#hl)"/>
<circle cx="20.00" cy="248.10" r="11.799999999999999" fill="#000" opacity="0.45" filter="url(#shblur)"/>
<circle cx="20.30" cy="246.50" r="11.6" fill="url(#nIAPP)" stroke="#4c5a6a" stroke-width="0.8"/>
<path d="M20.3,242.5 L21.4,242.8 L21.4,243.2 L20.3,243.5 L19.2,243.8 L19.2,244.2 L20.3,244.5 L21.4,244.8 L21.4,245.2 L20.3,245.5 L19.2,245.8 L19.2,246.2 L20.3,246.5 L21.4,246.8 L21.4,247.2 L20.3,247.5 L19.2,247.8 L19.2,248.2 L20.3,248.5 L21.4,248.8 L21.4,249.2 L20.3,249.5 L19.2,249.8 L19.2,250.2 L20.3,250.5 L21.4,250.8 L21.4,251.2 L20.3,251.5 L19.2,251.8 L19.2,252.2 L20.3,252.5" fill="none" stroke="#a070c0" stroke-width="0.5" stroke-linejoin="round" opacity="0.7"/>
<ellipse cx="20.30" cy="240.47" rx="7.66" ry="3.94" fill="url(#hl)"/>
<circle cx="129.30" cy="263.10" r="11.799999999999999" fill="#000" opacity="0.45" filter="url(#shblur)"/>
<circle cx="129.60" cy="261.50" r="11.6" fill="url(#nSCT)" stroke="#6c5252" stroke-width="0.8"/>
<path d="M124.6,265.5 L125.5,266.4 L125.8,266.2 L125.6,264.9 L125.4,263.6 L125.7,263.4 L126.6,264.3 L127.5,265.2 L127.8,265.0 L127.6,263.7 L127.4,262.4 L127.7,262.2 L128.6,263.1 L129.5,264.0 L129.8,263.8 L129.6,262.5 L129.4,261.2 L129.7,261.0 L130.6,261.9 L131.5,262.8 L131.8,262.6 L131.6,261.3 L131.4,260.0 L131.7,259.8 L132.6,260.7 L133.5,261.6 L133.8,261.4 L133.6,260.1 L133.4,258.8 L133.7,258.6 L134.6,259.5" fill="none" stroke="#c08a20" stroke-width="0.5" stroke-linejoin="round" opacity="0.7"/>
<ellipse cx="129.60" cy="255.47" rx="7.66" ry="3.94" fill="url(#hl)"/>
<circle cx="40.30" cy="281.60" r="11.799999999999999" fill="#000" opacity="0.45" filter="url(#shblur)"/>
<circle cx="40.60" cy="280.00" r="11.6" fill="url(#nADM)" stroke="#375837" stroke-width="0.8"/>
<path d="M35.6,284.0 L36.5,284.9 L36.8,284.7 L36.6,283.4 L36.4,282.1 L36.7,281.9 L37.6,282.8 L38.5,283.7 L38.8,283.5 L38.6,282.2 L38.4,280.9 L38.7,280.7 L39.6,281.6 L40.5,282.5 L40.8,282.3 L40.6,281.0 L40.4,279.7 L40.7,279.5 L41.6,280.4 L42.5,281.3 L42.8,281.1 L42.6,279.8 L42.4,278.5 L42.7,278.3 L43.6,279.2 L44.5,280.1 L44.8,279.9 L44.6,278.6 L44.4,277.3 L44.7,277.1 L45.6,278.0" fill="none" stroke="#3a6a4a" stroke-width="0.5" stroke-linejoin="round" opacity="0.7"/>
<ellipse cx="40.60" cy="273.97" rx="7.66" ry="3.94" fill="url(#hl)"/>
<circle cx="104.00" cy="288.90" r="11.799999999999999" fill="#000" opacity="0.45" filter="url(#shblur)"/>
<circle cx="104.30" cy="287.30" r="11.6" fill="url(#nRAMP1)" stroke="#726152" stroke-width="0.8"/>
<path d="M103.2,288.2 L104.7,286.7 L105.9,287.8 L104.4,288.1 L105.3,288.7 L104.3,288.7 L103.9,289.1 L104.5,288.9 L103.3,287.8 L103.0,288.3 L104.7,288.9 L105.0,288.8 L105.7,288.2 L107.1,288.6 L108.9,289.4 L107.6,289.9 L106.6,291.7 L107.1,290.2 L108.2,288.7 L106.7,289.4 L105.1,290.3 L103.6,289.6 L103.1,289.9 L103.3,290.9 L104.8,291.7 L105.8,290.2 L105.4,289.3 L104.0,290.5 L103.7,291.2 L103.9,289.7 L103.7,288.4 L105.3,287.7 L104.5,286.9 L104.8,287.6 L104.6,285.9 L105.7,287.0 L104.1,287.7 L104.9,289.1 L105.8,288.3 L104.6,288.0 L106.2,288.7 L107.4,289.2 L109.0,289.1 L108.0,289.6 L107.3,290.8 L108.9,292.5 L110.5,291.1 L109.6,290.0 L109.8,291.3 L109.3,291.6 L108.9,292.1 L109.8,292.4 L108.8,292.3 L109.6,291.3 L109.9,289.5 L110.2,289.4 L109.9,290.5 L110.2,289.3 L108.4,288.2 L110.2,288.3 L110.1,288.1 L110.3,288.8 L110.3,287.9 L110.2,289.2 L109.4,289.7 L110.3,290.0 L109.6,290.1 L110.6,291.2 L109.5,292.1 L109.4,291.5" fill="none" stroke="#b07a40" stroke-width="0.5" stroke-linejoin="round" opacity="0.7"/>
<ellipse cx="104.30" cy="281.27" rx="7.66" ry="3.94" fill="url(#hl)"/>
<circle cx="70.70" cy="295.20" r="11.799999999999999" fill="#000" opacity="0.45" filter="url(#shblur)"/>
<circle cx="71.00" cy="293.60" r="11.6" fill="url(#nRAMP2)" stroke="#656146" stroke-width="0.8"/>
<path d="M65.5,294.6 L65.9,295.7 L66.2,295.7 L66.6,294.6 L67.0,293.5 L67.3,293.5 L67.7,294.6 L68.1,295.7 L68.4,295.7 L68.8,294.6 L69.2,293.5 L69.5,293.5 L69.9,294.6 L70.3,295.7 L70.6,295.7 L71.0,294.6 L71.4,293.5 L71.7,293.5 L72.1,294.6 L72.5,295.7 L72.8,295.7 L73.2,294.6 L73.6,293.5 L73.9,293.5 L74.3,294.6 L74.7,295.7 L75.0,295.7 L75.4,294.6 L75.8,293.5 L76.1,293.5 L76.5,294.6" fill="none" stroke="#a0508a" stroke-width="0.5" stroke-linejoin="round" opacity="0.7"/>
<ellipse cx="71.00" cy="287.57" rx="7.66" ry="3.94" fill="url(#hl)"/>
<rect x="81.10" y="168.90" width="25.12" height="6.6" rx="1" fill="#fff" opacity="0.85"/>
<text x="81.6" y="174.4" font-size="7.0" fill="#1a1a1a" stroke="#1a1a1a" stroke-width="0.14">RAMP3</text>
<rect x="117.10" y="176.00" width="20.45" height="6.6" rx="1" fill="#fff" opacity="0.85"/>
<text x="117.6" y="181.5" font-size="7.0" fill="#1a1a1a" stroke="#1a1a1a" stroke-width="0.14">ADM2</text>
<rect x="44.50" y="184.10" width="24.34" height="6.6" rx="1" fill="#fff" opacity="0.85"/>
<text x="45.0" y="189.6" font-size="7.0" fill="#1a1a1a" stroke="#1a1a1a" stroke-width="0.14">CALCA</text>
<rect x="143.30" y="206.50" width="24.34" height="6.6" rx="1" fill="#fff" opacity="0.85"/>
<text x="143.8" y="212.0" font-size="7.0" fill="#1a1a1a" stroke="#1a1a1a" stroke-width="0.14">CALCB</text>
<rect x="63.30" y="216.10" width="28.62" height="6.6" rx="1" fill="#fff" opacity="0.85"/>
<text x="63.8" y="221.6" font-size="7.0" fill="#1a1a1a" stroke="#1a1a1a" stroke-width="0.14">CALCRL</text>
<rect x="103.10" y="220.10" width="15.39" height="6.6" rx="1" fill="#fff" opacity="0.85"/>
<text x="103.6" y="225.6" font-size="7.0" fill="#1a1a1a" stroke="#1a1a1a" stroke-width="0.14">NPS</text>
<rect x="29.90" y="231.10" width="16.95" height="6.6" rx="1" fill="#fff" opacity="0.85"/>
<text x="30.4" y="236.6" font-size="7.0" fill="#1a1a1a" stroke="#1a1a1a" stroke-width="0.14">IAPP</text>
<rect x="139.70" y="245.70" width="15.00" height="6.6" rx="1" fill="#fff" opacity="0.85"/>
<text x="140.2" y="251.2" font-size="7.0" fill="#1a1a1a" stroke="#1a1a1a" stroke-width="0.14">SCT</text>
<rect x="50.50" y="264.10" width="16.56" height="6.6" rx="1" fill="#fff" opacity="0.85"/>
<text x="51.0" y="269.6" font-size="7.0" fill="#1a1a1a" stroke="#1a1a1a" stroke-width="0.14">ADM</text>
<rect x="115.50" y="270.70" width="25.12" height="6.6" rx="1" fill="#fff" opacity="0.85"/>
<text x="116.0" y="276.2" font-size="7.0" fill="#1a1a1a" stroke="#1a1a1a" stroke-width="0.14">RAMP1</text>
<rect x="81.50" y="278.50" width="25.12" height="6.6" rx="1" fill="#fff" opacity="0.85"/>
<text x="82.0" y="284.0" font-size="7.0" fill="#1a1a1a" stroke="#1a1a1a" stroke-width="0.14">RAMP2</text>
<line x1="199.51" y1="199.40" x2="209.19" y2="227.20" stroke="#2e2e8a" stroke-width="0.9"/>
<circle cx="199.51" cy="199.40" r="1.5" fill="#2e2e8a"/>
<circle cx="209.19" cy="227.20" r="1.5" fill="#2e2e8a"/>
<line x1="215.55" y1="285.53" x2="242.20" y2="276.19" stroke="#6c2f9e" stroke-width="1.0"/>
<circle cx="215.55" cy="285.53" r="1.5" fill="#6c2f9e"/>
<circle cx="242.20" cy="276.19" r="1.5" fill="#6c2f9e"/>
<line x1="216.76" y1="288.07" x2="242.84" y2="278.93" stroke="#111" stroke-width="1.0"/>
<circle cx="216.76" cy="288.07" r="1.5" fill="#111"/>
<circle cx="242.84" cy="278.93" r="1.5" fill="#111"/>
<line x1="217.40" y1="290.81" x2="244.05" y2="281.47" stroke="#6c2f9e" stroke-width="1.0"/>
<circle cx="217.40" cy="290.81" r="1.5" fill="#6c2f9e"/>
<circle cx="244.05" cy="281.47" r="1.5" fill="#6c2f9e"/>
<line x1="206.37" y1="280.56" x2="211.28" y2="251.13" stroke="#a0a0a0" stroke-width="0.8"/>
<polygon points="211.28,251.13 212.63,255.82 208.48,255.13" fill="#179a35"/>
<line x1="246.06" y1="266.83" x2="222.67" y2="246.96" stroke="#a0a0a0" stroke-width="0.8"/>
<polygon points="222.67,246.96 227.39,248.21 224.67,251.41" fill="#179a35"/>
<line x1="236" y1="274.5" x2="242" y2="273.8" stroke="#3aa04a" stroke-width="0.8"/>
<circle cx="195.10" cy="189.20" r="11.799999999999999" fill="#000" opacity="0.45" filter="url(#shblur)"/>
<circle cx="195.40" cy="187.60" r="11.6" fill="url(#mKSR1)" stroke="#6c6e58" stroke-width="0.8"/>
<path d="M196.9,188.3 L197.3,187.9 L198.1,188.4 L196.5,188.6 L197.7,190.0 L197.2,189.2 L196.8,188.6 L195.2,189.2 L195.5,190.8 L196.7,189.7 L196.4,189.9 L196.0,190.8 L197.5,191.1 L198.2,191.0 L199.7,191.0 L197.9,192.5 L197.0,194.2 L197.1,194.7 L197.7,194.4 L198.1,194.0 L196.7,194.5 L196.6,192.9 L198.1,192.3 L198.9,192.7 L198.6,191.6 L199.4,192.3 L200.3,190.9 L200.9,190.5 L199.7,189.4 L200.0,189.3 L201.2,189.9 L201.6,189.4 L200.0,188.0 L201.7,186.7 L201.4,188.1 L201.4,188.2 L202.1,188.0 L201.2,189.0 L201.1,189.8 L199.6,189.8 L200.9,190.9 L199.8,189.4 L198.4,191.0 L199.2,189.6 L199.6,188.6 L199.6,187.0 L200.8,186.1 L200.3,185.2 L201.6,186.8 L201.0,185.2 L199.7,186.1 L201.0,186.0 L199.4,185.1 L197.9,186.9 L197.6,187.9 L197.7,189.5 L198.8,189.3 L200.5,189.0 L201.5,189.8 L200.6,188.8 L199.2,187.3 L200.9,185.9 L201.2,185.2 L201.7,185.7 L200.1,187.1 L201.0,187.6 L201.0,186.5 L199.7,187.4 L199.5,188.3 L200.5,187.0" fill="none" stroke="#9a9a80" stroke-width="0.5" stroke-linejoin="round" opacity="0.7"/>
<ellipse cx="195.40" cy="181.57" rx="7.66" ry="3.94" fill="url(#hl)"/>
<circle cx="213.00" cy="240.60" r="11.799999999999999" fill="#000" opacity="0.45" filter="url(#shblur)"/>
<circle cx="213.30" cy="239.00" r="11.6" fill="url(#mLSP1)" stroke="#6e4642" stroke-width="0.8"/>
<path d="M213.3,235.0 L214.4,235.3 L214.4,235.7 L213.3,236.0 L212.2,236.3 L212.2,236.7 L213.3,237.0 L214.4,237.3 L214.4,237.7 L213.3,238.0 L212.2,238.3 L212.2,238.7 L213.3,239.0 L214.4,239.3 L214.4,239.7 L213.3,240.0 L212.2,240.3 L212.2,240.7 L213.3,241.0 L214.4,241.3 L214.4,241.7 L213.3,242.0 L212.2,242.3 L212.2,242.7 L213.3,243.0 L214.4,243.3 L214.4,243.7 L213.3,244.0 L212.2,244.3 L212.2,244.7 L213.3,245.0" fill="none" stroke="#c06060" stroke-width="0.5" stroke-linejoin="round" opacity="0.7"/>
<ellipse cx="213.30" cy="232.97" rx="7.66" ry="3.94" fill="url(#hl)"/>
<circle cx="254.90" cy="276.20" r="11.799999999999999" fill="#000" opacity="0.45" filter="url(#shblur)"/>
<circle cx="255.20" cy="274.60" r="11.6" fill="url(#mMAPK14)" stroke="#305640" stroke-width="0.8"/>
<path d="M255.1,276.0 L256.7,276.0 L255.8,275.5 L257.4,276.0 L258.8,275.5 L259.5,277.1 L258.1,278.2 L259.6,279.9 L258.3,278.8 L259.8,278.4 L259.0,279.0 L258.4,278.5 L258.0,277.5 L259.2,278.1 L257.9,277.0 L256.2,276.8 L256.8,276.7 L255.7,277.1 L256.5,275.4 L255.3,274.9 L254.9,275.1 L255.3,274.6 L255.6,274.6 L254.0,273.4 L253.2,273.2 L252.2,274.6 L251.0,272.9 L252.3,271.8 L251.7,271.6 L251.4,271.7 L251.9,270.8 L250.1,271.0 L251.1,271.2 L250.7,271.6 L250.6,271.7 L250.1,272.4 L250.0,271.7 L250.5,272.6 L252.3,272.7 L250.9,274.1 L252.3,273.0 L251.7,273.9 L251.1,272.6 L252.1,273.8 L250.3,275.3 L249.6,274.4 L249.6,273.4 L250.8,272.1 L249.9,271.7 L250.7,272.0 L250.9,271.4 L252.3,272.7 L250.9,272.2 L249.3,272.5 L250.8,271.5 L249.1,272.6 L250.2,272.3 L250.0,272.6 L250.9,271.9 L249.5,272.9 L250.3,272.0 L250.1,272.2 L249.7,273.2 L251.3,273.9 L252.0,272.1 L252.9,273.2 L254.2,273.1 L255.8,272.5 L257.1,271.4 L257.6,269.9" fill="none" stroke="#2a5a4a" stroke-width="0.5" stroke-linejoin="round" opacity="0.7"/>
<ellipse cx="255.20" cy="268.57" rx="7.66" ry="3.94" fill="url(#hl)"/>
<circle cx="204.10" cy="294.00" r="11.799999999999999" fill="#000" opacity="0.45" filter="url(#shblur)"/>
<circle cx="204.40" cy="292.40" r="11.6" fill="url(#mMAPK11)" stroke="#525d6f" stroke-width="0.8"/>
<path d="M204.3,293.7 L205.4,294.6 L204.3,293.3 L205.1,294.0 L205.6,295.7 L205.7,295.0 L205.1,293.3 L206.2,293.0 L206.3,291.7 L207.8,291.4 L206.2,292.2 L207.1,290.7 L207.7,289.5 L206.7,291.0 L208.3,289.5 L206.8,289.1 L205.7,290.0 L204.2,289.1 L204.8,288.9 L205.4,288.1 L206.8,288.9 L206.6,289.4 L207.0,289.4 L208.7,290.4 L209.4,291.9 L209.2,293.6 L208.9,293.6 L209.4,293.4 L208.6,293.6 L207.1,293.6 L208.3,293.7 L208.2,295.2 L209.8,295.0 L211.1,293.9 L210.2,295.6 L210.7,295.2 L209.5,296.8 L209.7,297.6 L209.2,298.4 L209.9,297.4 L209.1,297.1 L207.5,296.0 L206.6,296.4 L205.5,295.6 L207.0,294.8 L205.5,295.5 L206.4,294.4 L205.4,294.4 L203.7,294.7 L204.7,293.9 L204.7,293.0 L202.9,293.6 L202.2,292.7 L200.6,294.3 L201.7,294.7 L202.1,295.7 L203.2,295.8 L203.4,296.8 L203.4,297.5 L201.8,295.8 L202.8,294.9 L204.4,295.3 L204.4,295.1 L202.9,295.8 L202.7,297.4 L202.2,296.5 L201.2,297.2 L200.1,297.1 L199.8,297.2 L201.3,296.5" fill="none" stroke="#6a5aa0" stroke-width="0.5" stroke-linejoin="round" opacity="0.7"/>
<ellipse cx="204.40" cy="286.37" rx="7.66" ry="3.94" fill="url(#hl)"/>
<rect x="206.40" y="171.10" width="19.29" height="6.6" rx="1" fill="#fff" opacity="0.85"/>
<text x="206.9" y="176.6" font-size="7.0" fill="#1a1a1a" stroke="#1a1a1a" stroke-width="0.14">KSR1</text>
<rect x="223.50" y="223.10" width="18.12" height="6.6" rx="1" fill="#fff" opacity="0.85"/>
<text x="224.0" y="228.6" font-size="7.0" fill="#1a1a1a" stroke="#1a1a1a" stroke-width="0.14">LSP1</text>
<rect x="264.90" y="258.50" width="28.62" height="6.6" rx="1" fill="#fff" opacity="0.85"/>
<text x="265.4" y="264.0" font-size="7.0" fill="#1a1a1a" stroke="#1a1a1a" stroke-width="0.14">MAPK14</text>
<rect x="214.70" y="276.70" width="28.10" height="6.6" rx="1" fill="#fff" opacity="0.85"/>
<text x="215.2" y="282.2" font-size="7.0" fill="#1a1a1a" stroke="#1a1a1a" stroke-width="0.14">MAPK11</text>
<line x1="385.82" y1="188.15" x2="395.88" y2="190.25" stroke="#111" stroke-width="1.05"/>
<circle cx="385.82" cy="188.15" r="1.6" fill="#111"/>
<circle cx="395.88" cy="190.25" r="1.6" fill="#111"/>
<line x1="361.03" y1="191.98" x2="350.12" y2="196.80" stroke="#111" stroke-width="1.05"/>
<circle cx="361.03" cy="191.98" r="1.6" fill="#111"/>
<circle cx="350.12" cy="196.80" r="1.6" fill="#111"/>
<line x1="359.98" y1="189.60" x2="349.07" y2="194.42" stroke="#111" stroke-width="1.05"/>
<circle cx="359.98" cy="189.60" r="1.6" fill="#111"/>
<circle cx="349.07" cy="194.42" r="1.6" fill="#111"/>
<line x1="384.82" y1="191.11" x2="424.21" y2="214.56" stroke="#111" stroke-width="1.05"/>
<circle cx="384.82" cy="191.11" r="1.6" fill="#111"/>
<circle cx="424.21" cy="214.56" r="1.6" fill="#111"/>
<line x1="383.49" y1="193.34" x2="422.88" y2="216.79" stroke="#111" stroke-width="1.05"/>
<circle cx="383.49" cy="193.34" r="1.6" fill="#111"/>
<circle cx="422.88" cy="216.79" r="1.6" fill="#111"/>
<line x1="369.26" y1="198.35" x2="361.28" y2="219.76" stroke="#111" stroke-width="1.05"/>
<circle cx="369.26" cy="198.35" r="1.6" fill="#111"/>
<circle cx="361.28" cy="219.76" r="1.6" fill="#111"/>
<line x1="366.82" y1="197.44" x2="358.84" y2="218.85" stroke="#111" stroke-width="1.05"/>
<circle cx="366.82" cy="197.44" r="1.6" fill="#111"/>
<circle cx="358.84" cy="218.85" r="1.6" fill="#111"/>
<line x1="379.18" y1="197.13" x2="390.90" y2="224.24" stroke="#111" stroke-width="1.05"/>
<circle cx="379.18" cy="197.13" r="1.6" fill="#111"/>
<circle cx="390.90" cy="224.24" r="1.6" fill="#111"/>
<line x1="376.80" y1="198.16" x2="388.52" y2="225.27" stroke="#111" stroke-width="1.05"/>
<circle cx="376.80" cy="198.16" r="1.6" fill="#111"/>
<circle cx="388.52" cy="225.27" r="1.6" fill="#111"/>
<line x1="365.26" y1="196.54" x2="331.96" y2="237.21" stroke="#111" stroke-width="1.05"/>
<circle cx="365.26" cy="196.54" r="1.6" fill="#111"/>
<circle cx="331.96" cy="237.21" r="1.6" fill="#111"/>
<line x1="363.24" y1="194.89" x2="329.94" y2="235.56" stroke="#111" stroke-width="1.05"/>
<circle cx="363.24" cy="194.89" r="1.6" fill="#111"/>
<circle cx="329.94" cy="235.56" r="1.6" fill="#111"/>
<line x1="380.96" y1="195.95" x2="423.24" y2="249.95" stroke="#111" stroke-width="1.05"/>
<circle cx="380.96" cy="195.95" r="1.6" fill="#111"/>
<circle cx="423.24" cy="249.95" r="1.6" fill="#111"/>
<line x1="368.66" y1="198.18" x2="347.34" y2="265.72" stroke="#111" stroke-width="1.05"/>
<circle cx="368.66" cy="198.18" r="1.6" fill="#111"/>
<circle cx="347.34" cy="265.72" r="1.6" fill="#111"/>
<line x1="378.05" y1="197.68" x2="402.62" y2="273.41" stroke="#111" stroke-width="1.05"/>
<circle cx="378.05" cy="197.68" r="1.6" fill="#111"/>
<circle cx="402.62" cy="273.41" r="1.6" fill="#111"/>
<line x1="375.58" y1="198.49" x2="400.15" y2="274.22" stroke="#111" stroke-width="1.05"/>
<circle cx="375.58" cy="198.49" r="1.6" fill="#111"/>
<circle cx="400.15" cy="274.22" r="1.6" fill="#111"/>
<line x1="372.91" y1="198.80" x2="374.19" y2="280.00" stroke="#111" stroke-width="1.05"/>
<circle cx="372.91" cy="198.80" r="1.6" fill="#111"/>
<circle cx="374.19" cy="280.00" r="1.6" fill="#111"/>
<line x1="418.79" y1="202.15" x2="427.16" y2="211.64" stroke="#111" stroke-width="1.05"/>
<circle cx="418.79" cy="202.15" r="1.6" fill="#111"/>
<circle cx="427.16" cy="211.64" r="1.6" fill="#111"/>
<line x1="416.84" y1="203.86" x2="425.21" y2="213.35" stroke="#111" stroke-width="1.05"/>
<circle cx="416.84" cy="203.86" r="1.6" fill="#111"/>
<circle cx="425.21" cy="213.35" r="1.6" fill="#111"/>
<line x1="398.15" y1="200.86" x2="366.25" y2="223.94" stroke="#111" stroke-width="1.05"/>
<circle cx="398.15" cy="200.86" r="1.6" fill="#111"/>
<circle cx="366.25" cy="223.94" r="1.6" fill="#111"/>
<line x1="404.94" y1="205.77" x2="399.06" y2="224.23" stroke="#111" stroke-width="1.05"/>
<circle cx="404.94" cy="205.77" r="1.6" fill="#111"/>
<circle cx="399.06" cy="224.23" r="1.6" fill="#111"/>
<line x1="397.62" y1="200.07" x2="333.88" y2="239.63" stroke="#111" stroke-width="1.05"/>
<circle cx="397.62" cy="200.07" r="1.6" fill="#111"/>
<circle cx="333.88" cy="239.63" r="1.6" fill="#111"/>
<line x1="413.24" y1="205.71" x2="427.26" y2="247.79" stroke="#111" stroke-width="1.05"/>
<circle cx="413.24" cy="205.71" r="1.6" fill="#111"/>
<circle cx="427.26" cy="247.79" r="1.6" fill="#111"/>
<line x1="400.84" y1="203.63" x2="351.46" y2="267.87" stroke="#111" stroke-width="1.05"/>
<circle cx="400.84" cy="203.63" r="1.6" fill="#111"/>
<circle cx="351.46" cy="267.87" r="1.6" fill="#111"/>
<line x1="404.63" y1="205.67" x2="378.77" y2="280.73" stroke="#111" stroke-width="1.05"/>
<circle cx="404.63" cy="205.67" r="1.6" fill="#111"/>
<circle cx="378.77" cy="280.73" r="1.6" fill="#111"/>
<line x1="350.49" y1="203.88" x2="421.91" y2="219.62" stroke="#111" stroke-width="1.05"/>
<circle cx="350.49" cy="203.88" r="1.6" fill="#111"/>
<circle cx="421.91" cy="219.62" r="1.6" fill="#111"/>
<line x1="344.16" y1="212.57" x2="348.64" y2="220.23" stroke="#111" stroke-width="1.05"/>
<circle cx="344.16" cy="212.57" r="1.6" fill="#111"/>
<circle cx="348.64" cy="220.23" r="1.6" fill="#111"/>
<line x1="349.40" y1="206.97" x2="384.38" y2="228.83" stroke="#111" stroke-width="1.05"/>
<circle cx="349.40" cy="206.97" r="1.6" fill="#111"/>
<circle cx="384.38" cy="228.83" r="1.6" fill="#111"/>
<line x1="348.02" y1="209.17" x2="383.00" y2="231.03" stroke="#111" stroke-width="1.05"/>
<circle cx="348.02" cy="209.17" r="1.6" fill="#111"/>
<circle cx="383.00" cy="231.03" r="1.6" fill="#111"/>
<line x1="334.50" y1="214.08" x2="327.87" y2="234.42" stroke="#111" stroke-width="1.05"/>
<circle cx="334.50" cy="214.08" r="1.6" fill="#111"/>
<circle cx="327.87" cy="234.42" r="1.6" fill="#111"/>
<line x1="332.03" y1="213.28" x2="325.40" y2="233.62" stroke="#111" stroke-width="1.05"/>
<circle cx="332.03" cy="213.28" r="1.6" fill="#111"/>
<circle cx="325.40" cy="233.62" r="1.6" fill="#111"/>
<line x1="348.73" y1="208.16" x2="420.17" y2="253.34" stroke="#111" stroke-width="1.05"/>
<circle cx="348.73" cy="208.16" r="1.6" fill="#111"/>
<circle cx="420.17" cy="253.34" r="1.6" fill="#111"/>
<line x1="339.71" y1="214.20" x2="343.58" y2="265.10" stroke="#111" stroke-width="1.05"/>
<circle cx="339.71" cy="214.20" r="1.6" fill="#111"/>
<circle cx="343.58" cy="265.10" r="1.6" fill="#111"/>
<line x1="337.12" y1="214.40" x2="340.99" y2="265.30" stroke="#111" stroke-width="1.05"/>
<circle cx="337.12" cy="214.40" r="1.6" fill="#111"/>
<circle cx="340.99" cy="265.30" r="1.6" fill="#111"/>
<line x1="345.75" y1="211.48" x2="397.15" y2="276.02" stroke="#111" stroke-width="1.05"/>
<circle cx="345.75" cy="211.48" r="1.6" fill="#111"/>
<circle cx="397.15" cy="276.02" r="1.6" fill="#111"/>
<line x1="421.69" y1="224.06" x2="368.71" y2="230.24" stroke="#111" stroke-width="1.05"/>
<circle cx="421.69" cy="224.06" r="1.6" fill="#111"/>
<circle cx="368.71" cy="230.24" r="1.6" fill="#111"/>
<line x1="422.40" y1="227.07" x2="407.60" y2="232.43" stroke="#111" stroke-width="1.05"/>
<circle cx="422.40" cy="227.07" r="1.6" fill="#111"/>
<circle cx="407.60" cy="232.43" r="1.6" fill="#111"/>
<line x1="433.77" y1="235.84" x2="432.73" y2="247.16" stroke="#111" stroke-width="1.05"/>
<circle cx="433.77" cy="235.84" r="1.6" fill="#111"/>
<circle cx="432.73" cy="247.16" r="1.6" fill="#111"/>
<line x1="430.60" y1="235.16" x2="412.26" y2="274.93" stroke="#111" stroke-width="1.05"/>
<circle cx="430.60" cy="235.16" r="1.6" fill="#111"/>
<circle cx="412.26" cy="274.93" r="1.6" fill="#111"/>
<line x1="428.24" y1="234.07" x2="409.90" y2="273.84" stroke="#111" stroke-width="1.05"/>
<circle cx="428.24" cy="234.07" r="1.6" fill="#111"/>
<circle cx="409.90" cy="273.84" r="1.6" fill="#111"/>
<line x1="426.29" y1="232.69" x2="383.11" y2="283.21" stroke="#111" stroke-width="1.05"/>
<circle cx="426.29" cy="232.69" r="1.6" fill="#111"/>
<circle cx="383.11" cy="283.21" r="1.6" fill="#111"/>
<line x1="368.69" y1="233.54" x2="381.71" y2="235.26" stroke="#111" stroke-width="1.05"/>
<circle cx="368.69" cy="233.54" r="1.6" fill="#111"/>
<circle cx="381.71" cy="235.26" r="1.6" fill="#111"/>
<line x1="353.31" y1="245.04" x2="347.90" y2="265.92" stroke="#111" stroke-width="1.05"/>
<circle cx="353.31" cy="245.04" r="1.6" fill="#111"/>
<circle cx="347.90" cy="265.92" r="1.6" fill="#111"/>
<line x1="350.80" y1="244.38" x2="345.39" y2="265.26" stroke="#111" stroke-width="1.05"/>
<circle cx="350.80" cy="244.38" r="1.6" fill="#111"/>
<circle cx="345.39" cy="265.26" r="1.6" fill="#111"/>
<line x1="365.37" y1="240.76" x2="397.45" y2="275.79" stroke="#111" stroke-width="1.05"/>
<circle cx="365.37" cy="240.76" r="1.6" fill="#111"/>
<circle cx="397.45" cy="275.79" r="1.6" fill="#111"/>
<line x1="363.45" y1="242.51" x2="395.53" y2="277.54" stroke="#111" stroke-width="1.05"/>
<circle cx="363.45" cy="242.51" r="1.6" fill="#111"/>
<circle cx="395.53" cy="277.54" r="1.6" fill="#111"/>
<line x1="359.35" y1="244.60" x2="370.45" y2="280.60" stroke="#111" stroke-width="1.05"/>
<circle cx="359.35" cy="244.60" r="1.6" fill="#111"/>
<circle cx="370.45" cy="280.60" r="1.6" fill="#111"/>
<line x1="406.92" y1="243.13" x2="420.99" y2="252.19" stroke="#111" stroke-width="1.05"/>
<circle cx="406.92" cy="243.13" r="1.6" fill="#111"/>
<circle cx="420.99" cy="252.19" r="1.6" fill="#111"/>
<line x1="405.51" y1="245.31" x2="419.58" y2="254.37" stroke="#111" stroke-width="1.05"/>
<circle cx="405.51" cy="245.31" r="1.6" fill="#111"/>
<circle cx="419.58" cy="254.37" r="1.6" fill="#111"/>
<line x1="384.55" y1="245.39" x2="353.75" y2="270.11" stroke="#111" stroke-width="1.05"/>
<circle cx="384.55" cy="245.39" r="1.6" fill="#111"/>
<circle cx="353.75" cy="270.11" r="1.6" fill="#111"/>
<line x1="397.78" y1="250.11" x2="402.72" y2="273.39" stroke="#111" stroke-width="1.05"/>
<circle cx="397.78" cy="250.11" r="1.6" fill="#111"/>
<circle cx="402.72" cy="273.39" r="1.6" fill="#111"/>
<line x1="390.40" y1="249.59" x2="379.00" y2="280.81" stroke="#111" stroke-width="1.05"/>
<circle cx="390.40" cy="249.59" r="1.6" fill="#111"/>
<circle cx="379.00" cy="280.81" r="1.6" fill="#111"/>
<line x1="335.89" y1="247.09" x2="418.43" y2="257.54" stroke="#111" stroke-width="1.05"/>
<circle cx="335.89" cy="247.09" r="1.6" fill="#111"/>
<circle cx="418.43" cy="257.54" r="1.6" fill="#111"/>
<line x1="335.57" y1="249.66" x2="418.11" y2="260.11" stroke="#111" stroke-width="1.05"/>
<circle cx="335.57" cy="249.66" r="1.6" fill="#111"/>
<circle cx="418.11" cy="260.11" r="1.6" fill="#111"/>
<line x1="329.84" y1="257.91" x2="335.96" y2="267.29" stroke="#111" stroke-width="1.05"/>
<circle cx="329.84" cy="257.91" r="1.6" fill="#111"/>
<circle cx="335.96" cy="267.29" r="1.6" fill="#111"/>
<line x1="335.09" y1="251.29" x2="394.04" y2="279.56" stroke="#111" stroke-width="1.05"/>
<circle cx="335.09" cy="251.29" r="1.6" fill="#111"/>
<circle cx="394.04" cy="279.56" r="1.6" fill="#111"/>
<line x1="333.96" y1="253.64" x2="392.91" y2="281.91" stroke="#111" stroke-width="1.05"/>
<circle cx="333.96" cy="253.64" r="1.6" fill="#111"/>
<circle cx="392.91" cy="281.91" r="1.6" fill="#111"/>
<line x1="333.28" y1="254.65" x2="365.36" y2="283.51" stroke="#111" stroke-width="1.05"/>
<circle cx="333.28" cy="254.65" r="1.6" fill="#111"/>
<circle cx="365.36" cy="283.51" r="1.6" fill="#111"/>
<line x1="331.54" y1="256.59" x2="363.62" y2="285.45" stroke="#111" stroke-width="1.05"/>
<circle cx="331.54" cy="256.59" r="1.6" fill="#111"/>
<circle cx="363.62" cy="285.45" r="1.6" fill="#111"/>
<line x1="422.02" y1="269.98" x2="414.98" y2="277.02" stroke="#111" stroke-width="1.05"/>
<circle cx="422.02" cy="269.98" r="1.6" fill="#111"/>
<circle cx="414.98" cy="277.02" r="1.6" fill="#111"/>
<line x1="392.42" y1="289.40" x2="387.48" y2="290.50" stroke="#111" stroke-width="1.05"/>
<circle cx="392.42" cy="289.40" r="1.6" fill="#111"/>
<circle cx="387.48" cy="290.50" r="1.6" fill="#111"/>
<line x1="365.54" y1="195.64" x2="331.13" y2="237.66" stroke="#4a3aa0" stroke-width="0.9"/>
<circle cx="365.54" cy="195.64" r="1.35" fill="#4a3aa0"/>
<circle cx="331.13" cy="237.66" r="1.35" fill="#4a3aa0"/>
<line x1="364.07" y1="194.44" x2="329.66" y2="236.46" stroke="#7a2aa0" stroke-width="0.9"/>
<circle cx="364.07" cy="194.44" r="1.35" fill="#7a2aa0"/>
<circle cx="329.66" cy="236.46" r="1.35" fill="#7a2aa0"/>
<line x1="334.90" y1="248.27" x2="419.10" y2="258.93" stroke="#4a40b0" stroke-width="0.9"/>
<circle cx="334.90" cy="248.27" r="1.35" fill="#4a40b0"/>
<circle cx="419.10" cy="258.93" r="1.35" fill="#4a40b0"/>
<line x1="355.70" y1="280.09" x2="393.10" y2="284.91" stroke="#4a40b0" stroke-width="0.9"/>
<circle cx="355.70" cy="280.09" r="1.35" fill="#4a40b0"/>
<circle cx="393.10" cy="284.91" r="1.35" fill="#4a40b0"/>
<circle cx="372.40" cy="187.00" r="11.799999999999999" fill="#000" opacity="0.45" filter="url(#shblur)"/>
<circle cx="372.70" cy="185.40" r="11.6" fill="url(#rITGA2B)" stroke="#6a6850" stroke-width="0.8"/>
<path d="M372.7,181.4 L373.8,181.7 L373.8,182.1 L372.7,182.4 L371.6,182.7 L371.6,183.1 L372.7,183.4 L373.8,183.7 L373.8,184.1 L372.7,184.4 L371.6,184.7 L371.6,185.1 L372.7,185.4 L373.8,185.7 L373.8,186.1 L372.7,186.4 L371.6,186.7 L371.6,187.1 L372.7,187.4 L373.8,187.7 L373.8,188.1 L372.7,188.4 L371.6,188.7 L371.6,189.1 L372.7,189.4 L373.8,189.7 L373.8,190.1 L372.7,190.4 L371.6,190.7 L371.6,191.1 L372.7,191.4" fill="none" stroke="#b0a070" stroke-width="0.5" stroke-linejoin="round" opacity="0.7"/>
<ellipse cx="372.70" cy="179.37" rx="7.66" ry="3.94" fill="url(#hl)"/>
<circle cx="408.70" cy="194.60" r="11.799999999999999" fill="#000" opacity="0.45" filter="url(#shblur)"/>
<circle cx="409.00" cy="193.00" r="11.6" fill="url(#rPHACTR2)" stroke="#3e4261" stroke-width="0.8"/>
<path d="M408.1,194.4 L407.0,194.7 L407.2,193.0 L406.0,194.5 L406.2,193.2 L408.0,192.0 L408.2,191.5 L409.0,191.4 L408.6,191.0 L407.4,191.1 L406.9,191.3 L406.1,191.7 L407.6,191.4 L407.4,191.1 L407.4,192.4 L406.1,192.3 L406.2,191.1 L406.5,190.6 L405.4,191.7 L403.9,191.2 L404.2,191.0 L403.5,191.7 L404.8,192.9 L404.6,191.3 L404.0,189.8 L402.9,191.5 L402.9,193.3 L402.3,192.6 L403.4,192.0 L404.1,193.0 L404.8,193.4 L406.3,193.9 L405.3,194.3 L405.6,194.1 L406.2,194.1 L407.0,195.9 L406.9,196.2 L408.0,197.5 L408.0,197.9 L409.7,199.4 L409.8,199.9 L409.1,198.2 L409.2,196.6 L410.1,197.9 L410.4,197.4 L409.0,197.8 L408.8,196.0 L407.2,196.1 L408.9,194.9 L408.1,194.6 L406.8,193.6 L407.5,192.2 L407.4,193.9 L409.0,195.2 L410.2,196.8 L408.6,195.1 L409.0,194.3 L410.7,193.6 L410.5,192.8 L411.0,191.5 L410.9,191.2 L411.9,189.6 L413.7,190.6 L412.8,189.5 L412.3,190.1 L411.2,191.8 L412.7,193.3 L412.5,192.5 L414.2,191.8 L414.5,191.6" fill="none" stroke="#3a3a8a" stroke-width="0.5" stroke-linejoin="round" opacity="0.7"/>
<ellipse cx="409.00" cy="186.97" rx="7.66" ry="3.94" fill="url(#hl)"/>
<circle cx="337.10" cy="202.60" r="11.799999999999999" fill="#000" opacity="0.45" filter="url(#shblur)"/>
<circle cx="337.40" cy="201.00" r="11.6" fill="url(#rCYB5R1)" stroke="#466454" stroke-width="0.8"/>
<path d="M339.1,200.4 L340.4,200.1 L339.1,199.8 L340.1,201.2 L339.2,200.9 L339.5,202.7 L341.3,201.3 L340.6,200.2 L340.2,199.1 L340.2,200.7 L340.8,199.3 L341.5,200.3 L340.7,201.6 L342.4,200.3 L342.1,201.4 L342.8,203.2 L343.3,204.1 L342.8,205.0 L341.4,203.6 L343.0,203.3 L341.7,203.4 L342.3,204.0 L342.9,204.4 L342.5,205.2 L341.7,204.1 L340.5,203.9 L341.4,205.5 L342.7,205.9 L341.7,204.5 L340.5,204.5 L339.3,206.3 L339.7,205.5 L341.3,206.8 L340.0,206.3 L341.7,206.2 L342.4,206.7 L342.4,205.4 L340.6,205.0 L340.7,204.3 L339.7,203.8 L339.4,205.1 L338.1,205.3 L338.9,204.2 L339.0,203.1 L339.9,203.9 L339.3,202.3 L339.5,202.6 L340.7,203.3 L341.9,203.3 L341.7,202.4 L342.9,203.4 L343.6,203.0 L342.8,201.8 L341.4,201.0 L340.6,200.5 L341.1,199.0 L341.5,198.5 L341.4,197.3 L342.0,198.2 L342.2,199.2 L342.0,200.4 L343.1,201.5 L341.6,199.9 L341.7,200.6 L342.2,200.3 L343.1,198.6 L342.9,197.9 L342.2,197.6 L341.9,198.0 L341.3,199.2" fill="none" stroke="#5a9a30" stroke-width="0.5" stroke-linejoin="round" opacity="0.7"/>
<ellipse cx="337.40" cy="194.97" rx="7.66" ry="3.94" fill="url(#hl)"/>
<circle cx="434.70" cy="224.10" r="11.799999999999999" fill="#000" opacity="0.45" filter="url(#shblur)"/>
<circle cx="435.00" cy="222.50" r="11.6" fill="url(#rLY6G6F)" stroke="#745d5d" stroke-width="0.8"/>
<path d="M436.0,224.6 L436.3,223.2 L436.2,223.9 L436.5,224.7 L435.6,223.5 L435.2,222.4 L433.9,222.6 L434.2,220.9 L435.2,219.4 L435.9,218.7 L434.8,218.4 L433.8,219.4 L434.8,217.7 L435.1,217.5 L434.7,218.5 L433.0,219.8 L432.2,219.3 L432.4,219.1 L430.8,218.8 L430.1,220.0 L431.2,218.4 L431.3,218.8 L430.5,219.5 L431.8,220.0 L430.1,221.2 L429.4,220.6 L431.0,219.3 L429.7,219.6 L430.2,219.8 L431.3,218.2 L433.1,217.5 L434.8,217.5 L435.9,217.7 L436.6,216.8 L436.9,217.8 L436.5,217.7 L435.2,218.9 L434.0,220.7 L435.1,222.1 L434.2,223.0 L435.5,224.6 L434.0,225.5 L435.4,227.2 L435.0,226.8 L433.9,226.6 L433.0,224.9 L431.4,225.6 L430.5,226.0 L432.2,226.6 L433.4,226.6 L435.0,226.0 L433.5,226.4 L435.1,228.0 L436.6,228.2 L435.8,227.5 L435.9,226.0 L435.8,227.4 L436.9,226.9 L436.7,227.3 L435.2,229.0 L436.0,230.3 L436.2,229.4 L436.0,229.4 L436.3,229.4 L435.7,228.0 L435.1,229.2 L435.2,228.0 L434.4,227.4 L436.0,226.2 L435.7,227.7" fill="none" stroke="#5a9a5a" stroke-width="0.5" stroke-linejoin="round" opacity="0.7"/>
<ellipse cx="435.00" cy="216.47" rx="7.66" ry="3.94" fill="url(#hl)"/>
<circle cx="355.10" cy="233.40" r="11.799999999999999" fill="#000" opacity="0.45" filter="url(#shblur)"/>
<circle cx="355.40" cy="231.80" r="11.6" fill="url(#rLHFPL2)" stroke="#5d566f" stroke-width="0.8"/>
<ellipse cx="355.40" cy="225.77" rx="7.66" ry="3.94" fill="url(#hl)"/>
<circle cx="394.70" cy="238.60" r="11.799999999999999" fill="#000" opacity="0.45" filter="url(#shblur)"/>
<circle cx="395.00" cy="237.00" r="11.6" fill="url(#rPCDH7)" stroke="#566472" stroke-width="0.8"/>
<path d="M395.9,239.7 L395.7,240.7 L396.2,241.2 L397.4,242.2 L398.7,241.6 L400.5,240.2 L400.4,240.1 L399.6,238.7 L398.4,238.3 L398.5,239.4 L399.3,240.9 L399.6,241.6 L399.8,241.7 L398.2,241.8 L397.7,243.5 L398.0,243.2 L399.4,242.1 L400.4,240.8 L400.2,241.4 L399.8,242.7 L398.2,243.1 L398.6,242.8 L398.6,242.8 L398.2,243.6 L397.7,243.4 L397.6,241.7 L396.6,241.9 L395.3,242.9 L396.9,241.9 L397.4,243.1 L398.2,243.1 L398.3,242.4 L399.3,241.2 L398.2,240.0 L399.5,239.3 L399.6,240.4 L397.8,241.2 L396.0,240.4 L394.8,242.0 L393.9,241.4 L394.4,243.0 L394.0,242.2 L393.3,240.6 L391.8,240.3 L391.4,241.2 L389.7,241.4 L389.4,240.3 L391.2,241.1 L390.3,241.7 L391.9,240.9 L391.2,239.4 L392.0,240.7 L393.3,241.1 L393.4,241.9 L391.7,242.9 L392.3,242.9 L390.9,243.3 L390.4,241.9 L391.3,243.1 L390.2,242.2 L390.1,242.2 L389.1,240.9 L390.4,240.4 L388.9,240.4 L388.1,238.8 L388.6,237.6 L389.6,237.3 L389.5,238.6 L388.7,239.8 L389.4,238.1" fill="none" stroke="#8a7ab0" stroke-width="0.5" stroke-linejoin="round" opacity="0.7"/>
<ellipse cx="395.00" cy="230.97" rx="7.66" ry="3.94" fill="url(#hl)"/>
<circle cx="322.20" cy="248.30" r="11.799999999999999" fill="#000" opacity="0.45" filter="url(#shblur)"/>
<circle cx="322.50" cy="246.70" r="11.6" fill="url(#rITGB3)" stroke="#746151" stroke-width="0.8"/>
<path d="M322.5,242.7 L323.6,243.0 L323.6,243.4 L322.5,243.7 L321.4,244.0 L321.4,244.4 L322.5,244.7 L323.6,245.0 L323.6,245.4 L322.5,245.7 L321.4,246.0 L321.4,246.4 L322.5,246.7 L323.6,247.0 L323.6,247.4 L322.5,247.7 L321.4,248.0 L321.4,248.4 L322.5,248.7 L323.6,249.0 L323.6,249.4 L322.5,249.7 L321.4,250.0 L321.4,250.4 L322.5,250.7 L323.6,251.0 L323.6,251.4 L322.5,251.7 L321.4,252.0 L321.4,252.4 L322.5,252.7" fill="none" stroke="#a08060" stroke-width="0.5" stroke-linejoin="round" opacity="0.7"/>
<ellipse cx="322.50" cy="240.67" rx="7.66" ry="3.94" fill="url(#hl)"/>
<circle cx="431.20" cy="262.10" r="11.799999999999999" fill="#000" opacity="0.45" filter="url(#shblur)"/>
<circle cx="431.50" cy="260.50" r="11.6" fill="url(#rCD9)" stroke="#646c4e" stroke-width="0.8"/>
<path d="M431.2,261.6 L430.1,262.5 L429.1,263.3 L428.6,264.0 L429.7,262.3 L431.3,260.7 L432.7,259.2 L434.0,259.4 L434.4,260.0 L436.1,259.7 L437.6,258.1 L436.8,258.5 L437.2,259.7 L437.1,259.3 L436.5,258.9 L435.5,260.3 L436.8,260.4 L436.9,258.7 L437.0,259.2 L435.9,260.3 L436.1,258.7 L436.1,257.6 L434.5,256.8 L434.8,258.0 L433.5,257.6 L434.3,256.5 L435.8,256.5 L435.1,256.7 L435.2,255.7 L433.9,255.7 L434.1,256.1 L434.7,256.1 L434.4,256.2 L434.0,256.1 L433.0,255.3 L433.6,255.7 L434.1,256.1 L434.8,256.5 L434.5,257.8 L433.6,258.9 L432.8,257.5 L433.0,258.7 L433.7,258.9 L435.2,258.4 L436.9,259.5 L436.1,258.0 L437.5,259.3 L437.5,259.6 L437.0,260.7 L436.8,260.3 L436.7,261.0 L437.2,259.5 L436.3,259.8 L434.9,260.7 L434.2,259.2 L433.7,260.8 L434.0,259.3 L434.0,259.5 L432.4,259.5 L432.4,258.6 L432.2,260.2 L432.7,260.3 L433.1,260.1 L433.0,261.4 L434.2,260.3 L435.4,258.7 L435.9,260.4 L436.6,260.3 L437.4,259.7 L437.2,260.5" fill="none" stroke="#5a9a40" stroke-width="0.5" stroke-linejoin="round" opacity="0.7"/>
<ellipse cx="431.50" cy="254.47" rx="7.66" ry="3.94" fill="url(#hl)"/>
<circle cx="343.00" cy="280.10" r="11.799999999999999" fill="#000" opacity="0.45" filter="url(#shblur)"/>
<circle cx="343.30" cy="278.50" r="11.6" fill="url(#rCD36)" stroke="#3a5d3a" stroke-width="0.8"/>
<path d="M342.3,278.0 L340.8,279.0 L341.3,277.2 L340.6,276.2 L341.2,275.9 L340.0,277.2 L339.2,278.6 L339.2,277.8 L339.4,276.8 L340.2,277.2 L341.0,276.3 L341.3,276.2 L342.1,277.5 L340.9,277.8 L341.3,276.0 L340.3,274.6 L340.4,275.2 L340.3,276.1 L340.6,277.1 L339.8,278.7 L338.3,278.2 L336.6,278.3 L337.4,278.7 L338.4,279.5 L336.9,281.2 L337.0,282.6 L337.4,280.7 L337.4,281.2 L337.9,281.1 L337.4,280.4 L338.6,280.0 L337.1,278.6 L337.3,279.6 L336.8,279.5 L337.7,279.3 L337.5,278.1 L337.1,279.0 L337.8,277.5 L336.7,278.0 L337.4,278.2 L337.8,277.2 L338.9,276.1 L339.7,276.3 L339.8,275.5 L340.1,274.3 L340.8,275.4 L341.6,274.3 L342.0,274.0 L343.1,272.7 L343.6,274.5 L342.3,273.2 L342.1,273.6 L342.2,275.0 L343.4,276.1 L342.4,277.0 L341.3,277.3 L342.1,277.6 L342.8,277.1 L344.3,278.4 L343.9,279.7 L343.9,279.5 L344.8,279.7 L346.1,279.5 L346.7,278.7 L347.2,278.7 L348.4,277.2 L347.6,275.8 L348.2,277.0 L348.9,278.5 L349.0,277.7" fill="none" stroke="#3a6a3a" stroke-width="0.5" stroke-linejoin="round" opacity="0.7"/>
<ellipse cx="343.30" cy="272.47" rx="7.66" ry="3.94" fill="url(#hl)"/>
<circle cx="405.20" cy="288.10" r="11.799999999999999" fill="#000" opacity="0.45" filter="url(#shblur)"/>
<circle cx="405.50" cy="286.50" r="11.6" fill="url(#rCD109)" stroke="#734848" stroke-width="0.8"/>
<path d="M404.6,286.9 L405.6,288.4 L407.4,289.2 L407.3,291.0 L408.7,292.2 L408.8,292.5 L408.4,293.2 L409.1,292.3 L409.2,292.2 L407.9,291.0 L408.8,292.7 L408.5,292.7 L409.4,292.6 L409.3,292.1 L409.8,291.7 L408.0,292.4 L409.0,293.2 L408.3,292.6 L407.8,294.0 L407.5,293.2 L406.1,293.2 L407.4,292.9 L409.0,293.1 L408.5,292.7 L408.4,293.6 L408.0,293.0 L406.5,291.8 L405.0,292.5 L406.5,293.3 L407.3,293.4 L408.1,293.0 L407.4,293.2 L408.0,292.7 L407.4,292.1 L407.3,290.8 L407.3,289.2 L406.1,288.7 L406.9,288.2 L407.3,288.7 L405.8,287.2 L405.3,288.6 L404.4,290.2 L403.6,290.9 L402.7,291.3 L401.5,290.9 L402.2,292.4 L402.0,291.4 L403.6,289.8 L402.7,291.1 L403.3,292.4 L404.6,292.0 L405.9,291.5 L405.2,292.3 L406.7,291.9 L406.3,292.1 L405.8,292.1 L406.8,291.3 L408.4,291.2 L410.1,291.8 L409.7,290.8 L408.3,289.3 L408.5,289.2 L408.5,289.0 L410.2,289.7 L410.6,290.8 L409.4,292.5 L409.8,292.4 L408.4,293.6 L409.6,292.1 L407.9,293.3" fill="none" stroke="#a04040" stroke-width="0.5" stroke-linejoin="round" opacity="0.7"/>
<ellipse cx="405.50" cy="280.47" rx="7.66" ry="3.94" fill="url(#hl)"/>
<circle cx="374.10" cy="295.00" r="11.799999999999999" fill="#000" opacity="0.45" filter="url(#shblur)"/>
<circle cx="374.40" cy="293.40" r="11.6" fill="url(#rSELP)" stroke="#305d61" stroke-width="0.8"/>
<path d="M374.0,292.6 L375.7,293.0 L376.1,292.3 L374.5,293.8 L375.5,292.5 L375.4,292.6 L375.9,293.3 L376.8,294.4 L375.7,294.1 L375.2,293.3 L373.5,294.1 L374.1,293.8 L375.1,293.4 L373.5,294.1 L373.6,294.3 L372.0,294.2 L373.4,295.5 L373.4,294.3 L373.8,295.8 L375.2,296.4 L376.6,295.8 L375.6,297.1 L376.0,295.6 L374.6,295.9 L374.2,297.0 L376.0,295.3 L375.6,294.6 L375.2,296.0 L375.5,295.2 L375.3,293.9 L375.1,294.6 L374.1,295.5 L374.5,296.0 L375.5,297.1 L376.0,297.5 L377.3,296.9 L377.3,295.4 L376.0,294.8 L377.1,293.8 L378.2,295.3 L378.4,294.0 L379.0,292.2 L379.7,291.7 L378.3,291.8 L378.6,291.3 L380.3,291.7 L381.2,293.3 L379.7,293.7 L380.8,293.1 L379.8,291.5 L378.6,293.1 L380.1,292.3 L380.0,292.2 L379.1,292.2 L378.5,292.7 L379.8,290.9 L379.6,290.1 L378.4,291.0 L380.0,290.6 L379.5,291.2 L379.3,289.5 L380.6,291.1 L379.5,291.2 L379.6,291.5 L380.0,290.5 L380.3,291.1 L380.5,292.0 L379.7,291.5 L379.4,291.6 L379.4,291.1" fill="none" stroke="#3a7aa0" stroke-width="0.5" stroke-linejoin="round" opacity="0.7"/>
<ellipse cx="374.40" cy="287.37" rx="7.66" ry="3.94" fill="url(#hl)"/>
<rect x="382.50" y="169.50" width="25.90" height="6.6" rx="1" fill="#fff" opacity="0.85"/>
<text x="383.0" y="175.0" font-size="7.0" fill="#1a1a1a" stroke="#1a1a1a" stroke-width="0.14">ITGA2B</text>
<rect x="418.50" y="177.10" width="33.67" height="6.6" rx="1" fill="#fff" opacity="0.85"/>
<text x="419.0" y="182.6" font-size="7.0" fill="#1a1a1a" stroke="#1a1a1a" stroke-width="0.14">PHACTR2</text>
<rect x="347.30" y="186.10" width="28.23" height="6.6" rx="1" fill="#fff" opacity="0.85"/>
<text x="347.8" y="191.6" font-size="7.0" fill="#1a1a1a" stroke="#1a1a1a" stroke-width="0.14">CYB5R1</text>
<rect x="444.10" y="207.10" width="26.55" height="6.6" rx="1" fill="#fff" opacity="0.85"/>
<text x="444.6" y="212.6" font-size="7.0" fill="#1a1a1a" stroke="#1a1a1a" stroke-width="0.14">LY6G6F</text>
<rect x="363.50" y="216.10" width="26.68" height="6.6" rx="1" fill="#fff" opacity="0.85"/>
<text x="364.0" y="221.6" font-size="7.0" fill="#1a1a1a" stroke="#1a1a1a" stroke-width="0.14">LHFPL2</text>
<rect x="405.00" y="221.10" width="24.73" height="6.6" rx="1" fill="#fff" opacity="0.85"/>
<text x="405.5" y="226.6" font-size="7.0" fill="#1a1a1a" stroke="#1a1a1a" stroke-width="0.14">PCDH7</text>
<rect x="334.10" y="232.40" width="21.23" height="6.6" rx="1" fill="#fff" opacity="0.85"/>
<text x="334.6" y="237.9" font-size="7.0" fill="#1a1a1a" stroke="#1a1a1a" stroke-width="0.14">ITGB3</text>
<rect x="442.10" y="245.50" width="15.00" height="6.6" rx="1" fill="#fff" opacity="0.85"/>
<text x="442.6" y="251.0" font-size="7.0" fill="#1a1a1a" stroke="#1a1a1a" stroke-width="0.14">CD9</text>
<rect x="353.10" y="264.60" width="18.90" height="6.6" rx="1" fill="#fff" opacity="0.85"/>
<text x="353.6" y="270.1" font-size="7.0" fill="#1a1a1a" stroke="#1a1a1a" stroke-width="0.14">CD36</text>
<rect x="417.10" y="272.50" width="22.79" height="6.6" rx="1" fill="#fff" opacity="0.85"/>
<text x="417.6" y="278.0" font-size="7.0" fill="#1a1a1a" stroke="#1a1a1a" stroke-width="0.14">CD109</text>
<rect x="385.30" y="276.70" width="18.90" height="6.6" rx="1" fill="#fff" opacity="0.85"/>
<text x="385.8" y="282.2" font-size="7.0" fill="#1a1a1a" stroke="#1a1a1a" stroke-width="0.14">SELP</text>



<text x="8.00" y="328.30" font-size="12.2" fill="#1a1a1a" text-anchor="start" stroke="#1a1a1a" stroke-width="0" textLength="7.00" lengthAdjust="spacingAndGlyphs" >C</text>
<circle cx="45.8" cy="366.0" r="26.3" fill="#c87672"/>
<circle cx="85.5" cy="366.0" r="26.3" fill="#b9d0ea"/>
<circle cx="85.5" cy="366.0" r="26.3" fill="#9b87ae" clip-path="url(#cr1)"/>
<circle cx="66.6" cy="394.8" r="26.3" fill="#e7e0e2"/>
<circle cx="66.6" cy="394.8" r="26.3" fill="#d4a5a7" clip-path="url(#cr1)"/>
<circle cx="66.6" cy="394.8" r="26.3" fill="#bfc8d9" clip-path="url(#cb1)"/>
<g clip-path="url(#cb1)"><circle cx="66.6" cy="394.8" r="26.3" fill="#b1a3b7" clip-path="url(#cr1)"/></g>
<circle cx="45.8" cy="366.0" r="26.3" fill="none" stroke="#262626" stroke-width="1.3"/>
<circle cx="85.5" cy="366.0" r="26.3" fill="none" stroke="#262626" stroke-width="1.3"/>
<circle cx="66.6" cy="394.8" r="26.3" fill="none" stroke="#262626" stroke-width="1.3"/>
<text x="41.00" y="363.00" font-size="7.7" fill="#2b2b2b" text-anchor="middle" stroke="#2b2b2b" stroke-width="0.24" >33</text>
<text x="83.80" y="363.00" font-size="7.7" fill="#2b2b2b" text-anchor="middle" stroke="#2b2b2b" stroke-width="0.24" >2</text>
<text x="65.60" y="377.40" font-size="7.7" fill="#2b2b2b" text-anchor="middle" stroke="#2b2b2b" stroke-width="0.24" >0</text>
<text x="50.10" y="387.00" font-size="7.7" fill="#2b2b2b" text-anchor="middle" stroke="#2b2b2b" stroke-width="0.24" >0</text>
<text x="82.00" y="387.00" font-size="7.7" fill="#2b2b2b" text-anchor="middle" stroke="#2b2b2b" stroke-width="0.24" >0</text>
<text x="66.30" y="413.60" font-size="7.7" fill="#2b2b2b" text-anchor="middle" stroke="#2b2b2b" stroke-width="0.24" >1</text>
<text x="32.00" y="334.70" font-size="7.6" fill="#2b2b2b" text-anchor="start" stroke="#2b2b2b" stroke-width="0.24" textLength="26.00" lengthAdjust="spacingAndGlyphs" >CALCRL</text>
<text x="74.50" y="334.70" font-size="7.6" fill="#2b2b2b" text-anchor="start" stroke="#2b2b2b" stroke-width="0.24" textLength="22.50" lengthAdjust="spacingAndGlyphs" >CD109</text>
<text x="58.00" y="430.10" font-size="7.6" fill="#2b2b2b" text-anchor="start" stroke="#2b2b2b" stroke-width="0.24" textLength="15.80" lengthAdjust="spacingAndGlyphs" >LSP1</text>
<text x="32.00" y="442.70" font-size="7.7" fill="#2b2b2b" text-anchor="start" stroke="#2b2b2b" stroke-width="0.24" textLength="66.80" lengthAdjust="spacingAndGlyphs" >Biological processes</text>
<circle cx="154.2" cy="366.0" r="26.3" fill="#c87672"/>
<circle cx="193.9" cy="366.0" r="26.3" fill="#b9d0ea"/>
<circle cx="193.9" cy="366.0" r="26.3" fill="#9b87ae" clip-path="url(#cr2)"/>
<circle cx="175.0" cy="394.8" r="26.3" fill="#e7e0e2"/>
<circle cx="175.0" cy="394.8" r="26.3" fill="#d4a5a7" clip-path="url(#cr2)"/>
<circle cx="175.0" cy="394.8" r="26.3" fill="#bfc8d9" clip-path="url(#cb2)"/>
<g clip-path="url(#cb2)"><circle cx="175.0" cy="394.8" r="26.3" fill="#b1a3b7" clip-path="url(#cr2)"/></g>
<circle cx="154.2" cy="366.0" r="26.3" fill="none" stroke="#262626" stroke-width="1.3"/>
<circle cx="193.9" cy="366.0" r="26.3" fill="none" stroke="#262626" stroke-width="1.3"/>
<circle cx="175.0" cy="394.8" r="26.3" fill="none" stroke="#262626" stroke-width="1.3"/>
<text x="152.00" y="363.00" font-size="7.7" fill="#2b2b2b" text-anchor="middle" stroke="#2b2b2b" stroke-width="0.24" >1</text>
<text x="192.20" y="363.00" font-size="7.7" fill="#2b2b2b" text-anchor="middle" stroke="#2b2b2b" stroke-width="0.24" >2</text>
<text x="174.00" y="377.40" font-size="7.7" fill="#2b2b2b" text-anchor="middle" stroke="#2b2b2b" stroke-width="0.24" >0</text>
<text x="158.50" y="387.00" font-size="7.7" fill="#2b2b2b" text-anchor="middle" stroke="#2b2b2b" stroke-width="0.24" >0</text>
<text x="190.40" y="387.00" font-size="7.7" fill="#2b2b2b" text-anchor="middle" stroke="#2b2b2b" stroke-width="0.24" >0</text>
<text x="174.70" y="413.60" font-size="7.7" fill="#2b2b2b" text-anchor="middle" stroke="#2b2b2b" stroke-width="0.24" >34</text>
<text x="140.40" y="334.70" font-size="7.6" fill="#2b2b2b" text-anchor="start" stroke="#2b2b2b" stroke-width="0.24" textLength="26.00" lengthAdjust="spacingAndGlyphs" >CALCRL</text>
<text x="182.90" y="334.70" font-size="7.6" fill="#2b2b2b" text-anchor="start" stroke="#2b2b2b" stroke-width="0.24" textLength="22.50" lengthAdjust="spacingAndGlyphs" >CD109</text>
<text x="166.40" y="430.10" font-size="7.6" fill="#2b2b2b" text-anchor="start" stroke="#2b2b2b" stroke-width="0.24" textLength="15.80" lengthAdjust="spacingAndGlyphs" >LSP1</text>
<text x="147.50" y="442.70" font-size="7.7" fill="#2b2b2b" text-anchor="start" stroke="#2b2b2b" stroke-width="0.24" textLength="52.00" lengthAdjust="spacingAndGlyphs" >KEGG pathways</text>
<line x1="361.6" y1="328.10" x2="381" y2="328.10" stroke="#7a6db2" stroke-width="1.4"/>
<circle cx="361.6" cy="328.10" r="2.6" fill="#41398b"/>
<circle cx="381" cy="328.10" r="2.6" fill="#41398b"/>
<text x="386.70" y="330.80" font-size="7.6" fill="#1c1c1c" text-anchor="start" stroke="#1c1c1c" stroke-width="0.24" textLength="28.82" lengthAdjust="spacingAndGlyphs" >Inhibition</text>
<line x1="361.6" y1="339.44" x2="381" y2="339.44" stroke="#9762a3" stroke-width="1.4"/>
<circle cx="361.6" cy="339.44" r="2.6" fill="#7b3e8c"/>
<circle cx="381" cy="339.44" r="2.6" fill="#7b3e8c"/>
<text x="386.70" y="342.14" font-size="7.6" fill="#1c1c1c" text-anchor="start" stroke="#1c1c1c" stroke-width="0.24" textLength="24.02" lengthAdjust="spacingAndGlyphs" >Binding</text>
<line x1="361.6" y1="350.78" x2="381" y2="350.78" stroke="#7cc2ce" stroke-width="1.4"/>
<circle cx="361.6" cy="350.78" r="2.6" fill="#5ab4c4"/>
<circle cx="381" cy="350.78" r="2.6" fill="#5ab4c4"/>
<text x="386.70" y="353.48" font-size="7.6" fill="#1c1c1c" text-anchor="start" stroke="#1c1c1c" stroke-width="0.24" textLength="29.21" lengthAdjust="spacingAndGlyphs" >Catalysis</text>
<line x1="361.6" y1="362.12" x2="381" y2="362.12" stroke="#82bc72" stroke-width="1.4"/>
<circle cx="361.6" cy="362.12" r="2.6" fill="#5ca84a"/>
<circle cx="381" cy="362.12" r="2.6" fill="#5ca84a"/>
<text x="386.70" y="364.82" font-size="7.6" fill="#1c1c1c" text-anchor="start" stroke="#1c1c1c" stroke-width="0.24" textLength="34.43" lengthAdjust="spacingAndGlyphs" >Phenotype</text>
<line x1="361.6" y1="373.46" x2="381" y2="373.46" stroke="#333333" stroke-width="1.4"/>
<circle cx="361.6" cy="373.46" r="2.6" fill="#111111"/>
<circle cx="381" cy="373.46" r="2.6" fill="#111111"/>
<text x="386.70" y="376.16" font-size="7.6" fill="#1c1c1c" text-anchor="start" stroke="#1c1c1c" stroke-width="0.24" textLength="28.42" lengthAdjust="spacingAndGlyphs" >Reaction</text>
<line x1="361.6" y1="384.80" x2="381" y2="384.80" stroke="#bab064" stroke-width="1.4"/>
<circle cx="361.6" cy="384.80" r="2.6" fill="#a89b32"/>
<circle cx="381" cy="384.80" r="2.6" fill="#a89b32"/>
<text x="386.70" y="387.50" font-size="7.6" fill="#1c1c1c" text-anchor="start" stroke="#1c1c1c" stroke-width="0.24" textLength="80.57" lengthAdjust="spacingAndGlyphs" >Transcriptional regulation</text>
<text x="8.00" y="466.50" font-size="12.0" fill="#1a1a1a" text-anchor="start" stroke="#1a1a1a" stroke-width="0" textLength="7.00" lengthAdjust="spacingAndGlyphs" >D</text>
<line x1="63.40" y1="467.0" x2="63.40" y2="574.0" stroke="#111" stroke-width="1"/>
<line x1="62.90" y1="573.6" x2="173.68" y2="573.6" stroke="#111" stroke-width="1"/>
<line x1="63.40" y1="573.6" x2="63.40" y2="575.9" stroke="#111" stroke-width="0.9"/>
<text x="63.40" y="584.60" font-size="5.8" fill="#444" text-anchor="middle" stroke="#444" stroke-width="0.05" >0</text>
<line x1="90.52" y1="573.6" x2="90.52" y2="575.9" stroke="#111" stroke-width="0.9"/>
<text x="90.52" y="584.60" font-size="5.8" fill="#444" text-anchor="middle" stroke="#444" stroke-width="0.05" >3</text>
<line x1="117.64" y1="573.6" x2="117.64" y2="575.9" stroke="#111" stroke-width="0.9"/>
<text x="117.64" y="584.60" font-size="5.8" fill="#444" text-anchor="middle" stroke="#444" stroke-width="0.05" >6</text>
<line x1="144.76" y1="573.6" x2="144.76" y2="575.9" stroke="#111" stroke-width="0.9"/>
<text x="144.76" y="584.60" font-size="5.8" fill="#444" text-anchor="middle" stroke="#444" stroke-width="0.05" >9</text>
<line x1="171.88" y1="573.6" x2="171.88" y2="575.9" stroke="#111" stroke-width="0.9"/>
<text x="171.88" y="584.60" font-size="5.8" fill="#444" text-anchor="middle" stroke="#444" stroke-width="0.05" >12</text>
<line x1="60.20" y1="471.30" x2="63.40" y2="471.30" stroke="#111" stroke-width="0.9"/>
<text x="57.20" y="473.60" font-size="6.7" fill="#222" text-anchor="end" stroke="#222" stroke-width="0.24" textLength="14.56" lengthAdjust="spacingAndGlyphs" >pDCs</text>
<line x1="88.50" y1="471.30" x2="102.70" y2="471.30" stroke="#222" stroke-width="0.8"/>
<line x1="88.50" y1="469.80" x2="88.50" y2="472.80" stroke="#222" stroke-width="0.8"/>
<line x1="102.70" y1="469.80" x2="102.70" y2="472.80" stroke="#222" stroke-width="0.8"/>
<circle cx="94.60" cy="471.30" r="1.55" fill="#fff" stroke="#2a2a2a" stroke-width="1.3"/>
<line x1="60.20" y1="478.25" x2="63.40" y2="478.25" stroke="#111" stroke-width="0.9"/>
<text x="57.20" y="480.56" font-size="6.7" fill="#222" text-anchor="end" stroke="#222" stroke-width="0.24" textLength="16.18" lengthAdjust="spacingAndGlyphs" >mDCs</text>
<line x1="91.70" y1="478.25" x2="104.20" y2="478.25" stroke="#222" stroke-width="0.8"/>
<line x1="91.70" y1="476.75" x2="91.70" y2="479.75" stroke="#222" stroke-width="0.8"/>
<line x1="104.20" y1="476.75" x2="104.20" y2="479.75" stroke="#222" stroke-width="0.8"/>
<line x1="97.50" y1="476.45" x2="97.50" y2="480.06" stroke="#444" stroke-width="0.8"/>
<line x1="60.20" y1="485.21" x2="63.40" y2="485.21" stroke="#111" stroke-width="0.9"/>
<text x="57.20" y="487.51" font-size="6.7" fill="#222" text-anchor="end" stroke="#222" stroke-width="0.24" textLength="8.09" lengthAdjust="spacingAndGlyphs" >NK</text>
<line x1="83.50" y1="485.21" x2="100.00" y2="485.21" stroke="#666" stroke-width="0.8"/>
<line x1="83.50" y1="483.71" x2="83.50" y2="486.71" stroke="#666" stroke-width="0.8"/>
<line x1="100.00" y1="483.71" x2="100.00" y2="486.71" stroke="#666" stroke-width="0.8"/>
<line x1="91.70" y1="483.41" x2="91.70" y2="487.01" stroke="#bbb" stroke-width="1"/>
<line x1="60.20" y1="492.17" x2="63.40" y2="492.17" stroke="#111" stroke-width="0.9"/>
<text x="57.20" y="494.47" font-size="6.7" fill="#222" text-anchor="end" stroke="#222" stroke-width="0.24" textLength="11.65" lengthAdjust="spacingAndGlyphs" >CD8</text>
<line x1="83.50" y1="492.17" x2="99.40" y2="492.17" stroke="#222" stroke-width="0.8"/>
<line x1="83.50" y1="490.67" x2="83.50" y2="493.67" stroke="#222" stroke-width="0.8"/>
<line x1="99.40" y1="490.67" x2="99.40" y2="493.67" stroke="#222" stroke-width="0.8"/>
<polygon points="90.80,489.77 91.39,491.36 93.08,491.42 91.75,492.47 92.21,494.11 90.80,493.17 89.39,494.11 89.85,492.47 88.52,491.42 90.21,491.36" fill="#111"/>
<line x1="60.20" y1="499.12" x2="63.40" y2="499.12" stroke="#111" stroke-width="0.9"/>
<text x="57.20" y="501.42" font-size="6.7" fill="#222" text-anchor="end" stroke="#222" stroke-width="0.24" textLength="11.65" lengthAdjust="spacingAndGlyphs" >CD4</text>
<line x1="83.50" y1="499.12" x2="99.40" y2="499.12" stroke="#666" stroke-width="0.8"/>
<line x1="83.50" y1="497.62" x2="83.50" y2="500.62" stroke="#666" stroke-width="0.8"/>
<line x1="99.40" y1="497.62" x2="99.40" y2="500.62" stroke="#666" stroke-width="0.8"/>
<rect x="89.50" y="497.82" width="2.6" height="2.6" fill="#aaa"/>
<line x1="60.20" y1="506.07" x2="63.40" y2="506.07" stroke="#111" stroke-width="0.9"/>
<text x="57.20" y="508.38" font-size="6.7" fill="#222" text-anchor="end" stroke="#222" stroke-width="0.24" textLength="17.15" lengthAdjust="spacingAndGlyphs" >B cells</text>
<line x1="83.50" y1="506.07" x2="100.80" y2="506.07" stroke="#222" stroke-width="0.8"/>
<line x1="83.50" y1="504.57" x2="83.50" y2="507.57" stroke="#222" stroke-width="0.8"/>
<line x1="100.80" y1="504.57" x2="100.80" y2="507.57" stroke="#222" stroke-width="0.8"/>
<polygon points="92.30,503.77 94.60,506.07 92.30,508.38 90.00,506.07" fill="#111"/>
<line x1="60.20" y1="513.03" x2="63.40" y2="513.03" stroke="#111" stroke-width="0.9"/>
<text x="57.20" y="515.33" font-size="6.7" fill="#222" text-anchor="end" stroke="#222" stroke-width="0.24" textLength="28.16" lengthAdjust="spacingAndGlyphs" >Monocytes</text>
<line x1="85.00" y1="513.03" x2="102.30" y2="513.03" stroke="#222" stroke-width="0.8"/>
<line x1="85.00" y1="511.53" x2="85.00" y2="514.53" stroke="#222" stroke-width="0.8"/>
<line x1="102.30" y1="511.53" x2="102.30" y2="514.53" stroke="#222" stroke-width="0.8"/>
<polygon points="93.30,515.33 95.50,511.43 91.10,511.43" fill="#111"/>
<line x1="60.20" y1="519.99" x2="63.40" y2="519.99" stroke="#111" stroke-width="0.9"/>
<text x="57.20" y="522.28" font-size="6.7" fill="#222" text-anchor="end" stroke="#222" stroke-width="0.24" textLength="12.94" lengthAdjust="spacingAndGlyphs" >PMN</text>
<line x1="89.20" y1="519.99" x2="105.20" y2="519.99" stroke="#222" stroke-width="0.8"/>
<line x1="89.20" y1="518.49" x2="89.20" y2="521.49" stroke="#222" stroke-width="0.8"/>
<line x1="105.20" y1="518.49" x2="105.20" y2="521.49" stroke="#222" stroke-width="0.8"/>
<polygon points="96.90,518.59 98.20,520.99 95.60,520.99" fill="#111"/>
<line x1="60.20" y1="526.94" x2="63.40" y2="526.94" stroke="#111" stroke-width="0.9"/>
<text x="57.20" y="529.24" font-size="6.7" fill="#222" text-anchor="end" stroke="#222" stroke-width="0.24" textLength="29.13" lengthAdjust="spacingAndGlyphs" >Myelocytes</text>
<line x1="89.20" y1="526.94" x2="105.20" y2="526.94" stroke="#222" stroke-width="0.8"/>
<line x1="89.20" y1="525.44" x2="89.20" y2="528.44" stroke="#222" stroke-width="0.8"/>
<line x1="105.20" y1="525.44" x2="105.20" y2="528.44" stroke="#222" stroke-width="0.8"/>
<rect x="95.00" y="525.04" width="3.8" height="3.8" fill="#111"/>
<line x1="60.20" y1="533.89" x2="63.40" y2="533.89" stroke="#111" stroke-width="0.9"/>
<text x="57.20" y="536.19" font-size="6.7" fill="#222" text-anchor="end" stroke="#222" stroke-width="0.24" textLength="38.19" lengthAdjust="spacingAndGlyphs" >Promyelocytes</text>
<line x1="88.50" y1="533.89" x2="103.30" y2="533.89" stroke="#222" stroke-width="0.8"/>
<line x1="88.50" y1="532.39" x2="88.50" y2="535.39" stroke="#222" stroke-width="0.8"/>
<line x1="103.30" y1="532.39" x2="103.30" y2="535.39" stroke="#222" stroke-width="0.8"/>
<circle cx="95.80" cy="533.89" r="2.0" fill="#111"/>
<line x1="60.20" y1="540.85" x2="63.40" y2="540.85" stroke="#111" stroke-width="0.9"/>
<text x="57.20" y="543.15" font-size="6.7" fill="#222" text-anchor="end" stroke="#222" stroke-width="0.24" textLength="12.62" lengthAdjust="spacingAndGlyphs" >MEP</text>
<line x1="83.00" y1="540.85" x2="100.00" y2="540.85" stroke="#222" stroke-width="0.8"/>
<line x1="83.00" y1="539.35" x2="83.00" y2="542.35" stroke="#222" stroke-width="0.8"/>
<line x1="100.00" y1="539.35" x2="100.00" y2="542.35" stroke="#222" stroke-width="0.8"/>
<polygon points="91.30,538.55 93.60,540.85 91.30,543.15 89.00,540.85" fill="#111"/>
<line x1="60.20" y1="547.81" x2="63.40" y2="547.81" stroke="#111" stroke-width="0.9"/>
<text x="57.20" y="550.11" font-size="6.7" fill="#222" text-anchor="end" stroke="#222" stroke-width="0.24" textLength="13.27" lengthAdjust="spacingAndGlyphs" >GMP</text>
<line x1="83.70" y1="547.81" x2="102.90" y2="547.81" stroke="#222" stroke-width="0.8"/>
<line x1="83.70" y1="546.31" x2="83.70" y2="549.31" stroke="#222" stroke-width="0.8"/>
<line x1="102.90" y1="546.31" x2="102.90" y2="549.31" stroke="#222" stroke-width="0.8"/>
<polygon points="93.30,550.11 95.50,546.21 91.10,546.21" fill="#111"/>
<line x1="60.20" y1="554.76" x2="63.40" y2="554.76" stroke="#111" stroke-width="0.9"/>
<text x="57.20" y="557.06" font-size="6.7" fill="#222" text-anchor="end" stroke="#222" stroke-width="0.24" textLength="12.94" lengthAdjust="spacingAndGlyphs" >CMP</text>
<line x1="86.90" y1="554.76" x2="105.80" y2="554.76" stroke="#222" stroke-width="0.8"/>
<line x1="86.90" y1="553.26" x2="86.90" y2="556.26" stroke="#222" stroke-width="0.8"/>
<line x1="105.80" y1="553.26" x2="105.80" y2="556.26" stroke="#222" stroke-width="0.8"/>
<polygon points="96.20,552.46 98.40,556.36 94.00,556.36" fill="#111"/>
<line x1="60.20" y1="561.72" x2="63.40" y2="561.72" stroke="#111" stroke-width="0.9"/>
<text x="57.20" y="564.01" font-size="6.7" fill="#222" text-anchor="end" stroke="#222" stroke-width="0.24" textLength="28.44" lengthAdjust="spacingAndGlyphs" >Early HSCs</text>
<line x1="92.70" y1="561.72" x2="99.80" y2="561.72" stroke="#222" stroke-width="0.8"/>
<line x1="92.70" y1="560.22" x2="92.70" y2="563.22" stroke="#222" stroke-width="0.8"/>
<line x1="99.80" y1="560.22" x2="99.80" y2="563.22" stroke="#222" stroke-width="0.8"/>
<rect x="94.30" y="559.82" width="3.8" height="3.8" fill="#111"/>
<line x1="60.20" y1="568.67" x2="63.40" y2="568.67" stroke="#111" stroke-width="0.9"/>
<text x="57.20" y="570.97" font-size="6.7" fill="#222" text-anchor="end" stroke="#222" stroke-width="0.24" textLength="24.16" lengthAdjust="spacingAndGlyphs" >BM HSCs</text>
<line x1="91.70" y1="568.67" x2="99.80" y2="568.67" stroke="#222" stroke-width="0.8"/>
<line x1="91.70" y1="567.17" x2="91.70" y2="570.17" stroke="#222" stroke-width="0.8"/>
<line x1="99.80" y1="567.17" x2="99.80" y2="570.17" stroke="#222" stroke-width="0.8"/>
<circle cx="96.20" cy="568.67" r="2.0" fill="#111"/>
<text x="80.60" y="597.3" font-size="7.4" fill="#222" stroke="#222" stroke-width="0.22" font-style="italic" textLength="27.5" lengthAdjust="spacingAndGlyphs">CALCRL</text>
<line x1="232.60" y1="467.0" x2="232.60" y2="574.0" stroke="#111" stroke-width="1"/>
<line x1="232.10" y1="573.6" x2="342.28" y2="573.6" stroke="#111" stroke-width="1"/>
<line x1="232.60" y1="573.6" x2="232.60" y2="575.9" stroke="#111" stroke-width="0.9"/>
<text x="232.60" y="584.60" font-size="5.8" fill="#444" text-anchor="middle" stroke="#444" stroke-width="0.05" >0</text>
<line x1="259.57" y1="573.6" x2="259.57" y2="575.9" stroke="#111" stroke-width="0.9"/>
<text x="259.57" y="584.60" font-size="5.8" fill="#444" text-anchor="middle" stroke="#444" stroke-width="0.05" >3</text>
<line x1="286.54" y1="573.6" x2="286.54" y2="575.9" stroke="#111" stroke-width="0.9"/>
<text x="286.54" y="584.60" font-size="5.8" fill="#444" text-anchor="middle" stroke="#444" stroke-width="0.05" >6</text>
<line x1="313.51" y1="573.6" x2="313.51" y2="575.9" stroke="#111" stroke-width="0.9"/>
<text x="313.51" y="584.60" font-size="5.8" fill="#444" text-anchor="middle" stroke="#444" stroke-width="0.05" >9</text>
<line x1="340.48" y1="573.6" x2="340.48" y2="575.9" stroke="#111" stroke-width="0.9"/>
<text x="340.48" y="584.60" font-size="5.8" fill="#444" text-anchor="middle" stroke="#444" stroke-width="0.05" >12</text>
<line x1="229.40" y1="471.30" x2="232.60" y2="471.30" stroke="#111" stroke-width="0.9"/>
<text x="226.40" y="473.60" font-size="6.7" fill="#222" text-anchor="end" stroke="#222" stroke-width="0.24" textLength="14.56" lengthAdjust="spacingAndGlyphs" >pDCs</text>
<circle cx="313.60" cy="471.30" r="1.55" fill="#fff" stroke="#2a2a2a" stroke-width="1.3"/>
<line x1="229.40" y1="478.25" x2="232.60" y2="478.25" stroke="#111" stroke-width="0.9"/>
<text x="226.40" y="480.56" font-size="6.7" fill="#222" text-anchor="end" stroke="#222" stroke-width="0.24" textLength="16.18" lengthAdjust="spacingAndGlyphs" >mDCs</text>
<line x1="313.60" y1="478.25" x2="321.60" y2="478.25" stroke="#222" stroke-width="0.8"/>
<line x1="313.60" y1="476.75" x2="313.60" y2="479.75" stroke="#222" stroke-width="0.8"/>
<line x1="321.60" y1="476.75" x2="321.60" y2="479.75" stroke="#222" stroke-width="0.8"/>
<line x1="317.00" y1="476.45" x2="317.00" y2="480.06" stroke="#444" stroke-width="0.8"/>
<line x1="229.40" y1="485.21" x2="232.60" y2="485.21" stroke="#111" stroke-width="0.9"/>
<text x="226.40" y="487.51" font-size="6.7" fill="#222" text-anchor="end" stroke="#222" stroke-width="0.24" textLength="8.09" lengthAdjust="spacingAndGlyphs" >NK</text>
<line x1="308.40" y1="485.21" x2="315.40" y2="485.21" stroke="#666" stroke-width="0.8"/>
<line x1="308.40" y1="483.71" x2="308.40" y2="486.71" stroke="#666" stroke-width="0.8"/>
<line x1="315.40" y1="483.71" x2="315.40" y2="486.71" stroke="#666" stroke-width="0.8"/>
<line x1="311.00" y1="483.41" x2="311.00" y2="487.01" stroke="#bbb" stroke-width="1"/>
<line x1="229.40" y1="492.17" x2="232.60" y2="492.17" stroke="#111" stroke-width="0.9"/>
<text x="226.40" y="494.47" font-size="6.7" fill="#222" text-anchor="end" stroke="#222" stroke-width="0.24" textLength="11.65" lengthAdjust="spacingAndGlyphs" >CD8</text>
<line x1="301.50" y1="492.17" x2="308.40" y2="492.17" stroke="#222" stroke-width="0.8"/>
<line x1="301.50" y1="490.67" x2="301.50" y2="493.67" stroke="#222" stroke-width="0.8"/>
<line x1="308.40" y1="490.67" x2="308.40" y2="493.67" stroke="#222" stroke-width="0.8"/>
<polygon points="305.60,489.77 306.19,491.36 307.88,491.42 306.55,492.47 307.01,494.11 305.60,493.17 304.19,494.11 304.65,492.47 303.32,491.42 305.01,491.36" fill="#111"/>
<line x1="229.40" y1="499.12" x2="232.60" y2="499.12" stroke="#111" stroke-width="0.9"/>
<text x="226.40" y="501.42" font-size="6.7" fill="#222" text-anchor="end" stroke="#222" stroke-width="0.24" textLength="11.65" lengthAdjust="spacingAndGlyphs" >CD4</text>
<line x1="304.30" y1="499.12" x2="311.00" y2="499.12" stroke="#666" stroke-width="0.8"/>
<line x1="304.30" y1="497.62" x2="304.30" y2="500.62" stroke="#666" stroke-width="0.8"/>
<line x1="311.00" y1="497.62" x2="311.00" y2="500.62" stroke="#666" stroke-width="0.8"/>
<rect x="306.40" y="497.82" width="2.6" height="2.6" fill="#aaa"/>
<line x1="229.40" y1="506.07" x2="232.60" y2="506.07" stroke="#111" stroke-width="0.9"/>
<text x="226.40" y="508.38" font-size="6.7" fill="#222" text-anchor="end" stroke="#222" stroke-width="0.24" textLength="17.15" lengthAdjust="spacingAndGlyphs" >B cells</text>
<line x1="302.50" y1="506.07" x2="310.00" y2="506.07" stroke="#222" stroke-width="0.8"/>
<line x1="302.50" y1="504.57" x2="302.50" y2="507.57" stroke="#222" stroke-width="0.8"/>
<line x1="310.00" y1="504.57" x2="310.00" y2="507.57" stroke="#222" stroke-width="0.8"/>
<polygon points="306.70,503.77 309.00,506.07 306.70,508.38 304.40,506.07" fill="#111"/>
<line x1="229.40" y1="513.03" x2="232.60" y2="513.03" stroke="#111" stroke-width="0.9"/>
<text x="226.40" y="515.33" font-size="6.7" fill="#222" text-anchor="end" stroke="#222" stroke-width="0.24" textLength="28.16" lengthAdjust="spacingAndGlyphs" >Monocytes</text>
<polygon points="320.50,515.33 322.70,511.43 318.30,511.43" fill="#111"/>
<line x1="229.40" y1="519.99" x2="232.60" y2="519.99" stroke="#111" stroke-width="0.9"/>
<text x="226.40" y="522.28" font-size="6.7" fill="#222" text-anchor="end" stroke="#222" stroke-width="0.24" textLength="12.94" lengthAdjust="spacingAndGlyphs" >PMN</text>
<line x1="322.00" y1="519.99" x2="335.40" y2="519.99" stroke="#222" stroke-width="0.8"/>
<line x1="322.00" y1="518.49" x2="322.00" y2="521.49" stroke="#222" stroke-width="0.8"/>
<line x1="335.40" y1="518.49" x2="335.40" y2="521.49" stroke="#222" stroke-width="0.8"/>
<polygon points="328.50,518.59 329.80,520.99 327.20,520.99" fill="#111"/>
<line x1="229.40" y1="526.94" x2="232.60" y2="526.94" stroke="#111" stroke-width="0.9"/>
<text x="226.40" y="529.24" font-size="6.7" fill="#222" text-anchor="end" stroke="#222" stroke-width="0.24" textLength="29.13" lengthAdjust="spacingAndGlyphs" >Myelocytes</text>
<line x1="316.00" y1="526.94" x2="325.00" y2="526.94" stroke="#222" stroke-width="0.8"/>
<line x1="316.00" y1="525.44" x2="316.00" y2="528.44" stroke="#222" stroke-width="0.8"/>
<line x1="325.00" y1="525.44" x2="325.00" y2="528.44" stroke="#222" stroke-width="0.8"/>
<rect x="318.60" y="525.04" width="3.8" height="3.8" fill="#111"/>
<line x1="229.40" y1="533.89" x2="232.60" y2="533.89" stroke="#111" stroke-width="0.9"/>
<text x="226.40" y="536.19" font-size="6.7" fill="#222" text-anchor="end" stroke="#222" stroke-width="0.24" textLength="38.19" lengthAdjust="spacingAndGlyphs" >Promyelocytes</text>
<line x1="295.30" y1="533.89" x2="304.30" y2="533.89" stroke="#222" stroke-width="0.8"/>
<line x1="295.30" y1="532.39" x2="295.30" y2="535.39" stroke="#222" stroke-width="0.8"/>
<line x1="304.30" y1="532.39" x2="304.30" y2="535.39" stroke="#222" stroke-width="0.8"/>
<circle cx="299.80" cy="533.89" r="2.0" fill="#111"/>
<line x1="229.40" y1="540.85" x2="232.60" y2="540.85" stroke="#111" stroke-width="0.9"/>
<text x="226.40" y="543.15" font-size="6.7" fill="#222" text-anchor="end" stroke="#222" stroke-width="0.24" textLength="12.62" lengthAdjust="spacingAndGlyphs" >MEP</text>
<line x1="279.00" y1="540.85" x2="289.40" y2="540.85" stroke="#222" stroke-width="0.8"/>
<line x1="279.00" y1="539.35" x2="279.00" y2="542.35" stroke="#222" stroke-width="0.8"/>
<line x1="289.40" y1="539.35" x2="289.40" y2="542.35" stroke="#222" stroke-width="0.8"/>
<polygon points="284.20,538.55 286.50,540.85 284.20,543.15 281.90,540.85" fill="#111"/>
<line x1="229.40" y1="547.81" x2="232.60" y2="547.81" stroke="#111" stroke-width="0.9"/>
<text x="226.40" y="550.11" font-size="6.7" fill="#222" text-anchor="end" stroke="#222" stroke-width="0.24" textLength="13.27" lengthAdjust="spacingAndGlyphs" >GMP</text>
<line x1="304.30" y1="547.81" x2="309.10" y2="547.81" stroke="#222" stroke-width="0.8"/>
<line x1="304.30" y1="546.31" x2="304.30" y2="549.31" stroke="#222" stroke-width="0.8"/>
<line x1="309.10" y1="546.31" x2="309.10" y2="549.31" stroke="#222" stroke-width="0.8"/>
<polygon points="306.70,550.11 308.90,546.21 304.50,546.21" fill="#111"/>
<line x1="229.40" y1="554.76" x2="232.60" y2="554.76" stroke="#111" stroke-width="0.9"/>
<text x="226.40" y="557.06" font-size="6.7" fill="#222" text-anchor="end" stroke="#222" stroke-width="0.24" textLength="12.94" lengthAdjust="spacingAndGlyphs" >CMP</text>
<line x1="296.30" y1="554.76" x2="303.20" y2="554.76" stroke="#222" stroke-width="0.8"/>
<line x1="296.30" y1="553.26" x2="296.30" y2="556.26" stroke="#222" stroke-width="0.8"/>
<line x1="303.20" y1="553.26" x2="303.20" y2="556.26" stroke="#222" stroke-width="0.8"/>
<polygon points="299.80,552.46 302.00,556.36 297.60,556.36" fill="#111"/>
<line x1="229.40" y1="561.72" x2="232.60" y2="561.72" stroke="#111" stroke-width="0.9"/>
<text x="226.40" y="564.01" font-size="6.7" fill="#222" text-anchor="end" stroke="#222" stroke-width="0.24" textLength="28.44" lengthAdjust="spacingAndGlyphs" >Early HSCs</text>
<rect x="286.40" y="559.82" width="3.8" height="3.8" fill="#111"/>
<line x1="229.40" y1="568.67" x2="232.60" y2="568.67" stroke="#111" stroke-width="0.9"/>
<text x="226.40" y="570.97" font-size="6.7" fill="#222" text-anchor="end" stroke="#222" stroke-width="0.24" textLength="24.16" lengthAdjust="spacingAndGlyphs" >BM HSCs</text>
<line x1="285.90" y1="568.67" x2="295.30" y2="568.67" stroke="#222" stroke-width="0.8"/>
<line x1="285.90" y1="567.17" x2="285.90" y2="570.17" stroke="#222" stroke-width="0.8"/>
<line x1="295.30" y1="567.17" x2="295.30" y2="570.17" stroke="#222" stroke-width="0.8"/>
<circle cx="290.40" cy="568.67" r="2.0" fill="#111"/>
<text x="256.20" y="597.3" font-size="7.4" fill="#222" stroke="#222" stroke-width="0.22" font-style="italic" textLength="17.6" lengthAdjust="spacingAndGlyphs">LSP1</text>
<line x1="401.90" y1="467.0" x2="401.90" y2="574.0" stroke="#111" stroke-width="1"/>
<line x1="401.40" y1="573.6" x2="511.10" y2="573.6" stroke="#111" stroke-width="1"/>
<line x1="401.90" y1="573.6" x2="401.90" y2="575.9" stroke="#111" stroke-width="0.9"/>
<text x="401.90" y="584.60" font-size="5.8" fill="#444" text-anchor="middle" stroke="#444" stroke-width="0.05" >0</text>
<line x1="428.75" y1="573.6" x2="428.75" y2="575.9" stroke="#111" stroke-width="0.9"/>
<text x="428.75" y="584.60" font-size="5.8" fill="#444" text-anchor="middle" stroke="#444" stroke-width="0.05" >3</text>
<line x1="455.60" y1="573.6" x2="455.60" y2="575.9" stroke="#111" stroke-width="0.9"/>
<text x="455.60" y="584.60" font-size="5.8" fill="#444" text-anchor="middle" stroke="#444" stroke-width="0.05" >6</text>
<line x1="482.45" y1="573.6" x2="482.45" y2="575.9" stroke="#111" stroke-width="0.9"/>
<text x="482.45" y="584.60" font-size="5.8" fill="#444" text-anchor="middle" stroke="#444" stroke-width="0.05" >9</text>
<line x1="509.30" y1="573.6" x2="509.30" y2="575.9" stroke="#111" stroke-width="0.9"/>
<text x="509.30" y="584.60" font-size="5.8" fill="#444" text-anchor="middle" stroke="#444" stroke-width="0.05" >12</text>
<line x1="398.70" y1="471.30" x2="401.90" y2="471.30" stroke="#111" stroke-width="0.9"/>
<text x="395.40" y="473.60" font-size="6.7" fill="#222" text-anchor="end" stroke="#222" stroke-width="0.24" textLength="14.56" lengthAdjust="spacingAndGlyphs" >pDCs</text>
<line x1="454.90" y1="471.30" x2="461.80" y2="471.30" stroke="#222" stroke-width="0.8"/>
<line x1="454.90" y1="469.80" x2="454.90" y2="472.80" stroke="#222" stroke-width="0.8"/>
<line x1="461.80" y1="469.80" x2="461.80" y2="472.80" stroke="#222" stroke-width="0.8"/>
<circle cx="458.30" cy="471.30" r="1.55" fill="#fff" stroke="#2a2a2a" stroke-width="1.3"/>
<line x1="398.70" y1="478.25" x2="401.90" y2="478.25" stroke="#111" stroke-width="0.9"/>
<text x="395.40" y="480.56" font-size="6.7" fill="#222" text-anchor="end" stroke="#222" stroke-width="0.24" textLength="16.18" lengthAdjust="spacingAndGlyphs" >mDCs</text>
<line x1="439.70" y1="478.25" x2="453.50" y2="478.25" stroke="#222" stroke-width="0.8"/>
<line x1="439.70" y1="476.75" x2="439.70" y2="479.75" stroke="#222" stroke-width="0.8"/>
<line x1="453.50" y1="476.75" x2="453.50" y2="479.75" stroke="#222" stroke-width="0.8"/>
<line x1="447.30" y1="476.45" x2="447.30" y2="480.06" stroke="#444" stroke-width="0.8"/>
<line x1="398.70" y1="485.21" x2="401.90" y2="485.21" stroke="#111" stroke-width="0.9"/>
<text x="395.40" y="487.51" font-size="6.7" fill="#222" text-anchor="end" stroke="#222" stroke-width="0.24" textLength="8.09" lengthAdjust="spacingAndGlyphs" >NK</text>
<line x1="434.10" y1="483.41" x2="434.10" y2="487.01" stroke="#bbb" stroke-width="1"/>
<line x1="398.70" y1="492.17" x2="401.90" y2="492.17" stroke="#111" stroke-width="0.9"/>
<text x="395.40" y="494.47" font-size="6.7" fill="#222" text-anchor="end" stroke="#222" stroke-width="0.24" textLength="11.65" lengthAdjust="spacingAndGlyphs" >CD8</text>
<line x1="434.00" y1="492.17" x2="438.60" y2="492.17" stroke="#222" stroke-width="0.8"/>
<line x1="434.00" y1="490.67" x2="434.00" y2="493.67" stroke="#222" stroke-width="0.8"/>
<line x1="438.60" y1="490.67" x2="438.60" y2="493.67" stroke="#222" stroke-width="0.8"/>
<polygon points="436.20,489.77 436.79,491.36 438.48,491.42 437.15,492.47 437.61,494.11 436.20,493.17 434.79,494.11 435.25,492.47 433.92,491.42 435.61,491.36" fill="#111"/>
<line x1="398.70" y1="499.12" x2="401.90" y2="499.12" stroke="#111" stroke-width="0.9"/>
<text x="395.40" y="501.42" font-size="6.7" fill="#222" text-anchor="end" stroke="#222" stroke-width="0.24" textLength="11.65" lengthAdjust="spacingAndGlyphs" >CD4</text>
<rect x="434.20" y="497.82" width="2.6" height="2.6" fill="#aaa"/>
<line x1="398.70" y1="506.07" x2="401.90" y2="506.07" stroke="#111" stroke-width="0.9"/>
<text x="395.40" y="508.38" font-size="6.7" fill="#222" text-anchor="end" stroke="#222" stroke-width="0.24" textLength="17.15" lengthAdjust="spacingAndGlyphs" >B cells</text>
<line x1="427.20" y1="506.07" x2="437.00" y2="506.07" stroke="#222" stroke-width="0.8"/>
<line x1="427.20" y1="504.57" x2="427.20" y2="507.57" stroke="#222" stroke-width="0.8"/>
<line x1="437.00" y1="504.57" x2="437.00" y2="507.57" stroke="#222" stroke-width="0.8"/>
<polygon points="431.70,503.77 434.00,506.07 431.70,508.38 429.40,506.07" fill="#111"/>
<line x1="398.70" y1="513.03" x2="401.90" y2="513.03" stroke="#111" stroke-width="0.9"/>
<text x="395.40" y="515.33" font-size="6.7" fill="#222" text-anchor="end" stroke="#222" stroke-width="0.24" textLength="28.16" lengthAdjust="spacingAndGlyphs" >Monocytes</text>
<line x1="433.80" y1="513.03" x2="437.80" y2="513.03" stroke="#222" stroke-width="0.8"/>
<line x1="433.80" y1="511.53" x2="433.80" y2="514.53" stroke="#222" stroke-width="0.8"/>
<line x1="437.80" y1="511.53" x2="437.80" y2="514.53" stroke="#222" stroke-width="0.8"/>
<polygon points="435.80,515.33 438.00,511.43 433.60,511.43" fill="#111"/>
<line x1="398.70" y1="519.99" x2="401.90" y2="519.99" stroke="#111" stroke-width="0.9"/>
<text x="395.40" y="522.28" font-size="6.7" fill="#222" text-anchor="end" stroke="#222" stroke-width="0.24" textLength="12.94" lengthAdjust="spacingAndGlyphs" >PMN</text>
<line x1="441.80" y1="519.99" x2="445.90" y2="519.99" stroke="#222" stroke-width="0.8"/>
<line x1="441.80" y1="518.49" x2="441.80" y2="521.49" stroke="#222" stroke-width="0.8"/>
<line x1="445.90" y1="518.49" x2="445.90" y2="521.49" stroke="#222" stroke-width="0.8"/>
<polygon points="443.80,518.59 445.10,520.99 442.50,520.99" fill="#111"/>
<line x1="398.70" y1="526.94" x2="401.90" y2="526.94" stroke="#111" stroke-width="0.9"/>
<text x="395.40" y="529.24" font-size="6.7" fill="#222" text-anchor="end" stroke="#222" stroke-width="0.24" textLength="29.13" lengthAdjust="spacingAndGlyphs" >Myelocytes</text>
<line x1="438.60" y1="526.94" x2="444.50" y2="526.94" stroke="#222" stroke-width="0.8"/>
<line x1="438.60" y1="525.44" x2="438.60" y2="528.44" stroke="#222" stroke-width="0.8"/>
<line x1="444.50" y1="525.44" x2="444.50" y2="528.44" stroke="#222" stroke-width="0.8"/>
<rect x="439.10" y="525.04" width="3.8" height="3.8" fill="#111"/>
<line x1="398.70" y1="533.89" x2="401.90" y2="533.89" stroke="#111" stroke-width="0.9"/>
<text x="395.40" y="536.19" font-size="6.7" fill="#222" text-anchor="end" stroke="#222" stroke-width="0.24" textLength="38.19" lengthAdjust="spacingAndGlyphs" >Promyelocytes</text>
<line x1="457.60" y1="533.89" x2="463.90" y2="533.89" stroke="#222" stroke-width="0.8"/>
<line x1="457.60" y1="532.39" x2="457.60" y2="535.39" stroke="#222" stroke-width="0.8"/>
<line x1="463.90" y1="532.39" x2="463.90" y2="535.39" stroke="#222" stroke-width="0.8"/>
<circle cx="460.40" cy="533.89" r="2.0" fill="#111"/>
<line x1="398.70" y1="540.85" x2="401.90" y2="540.85" stroke="#111" stroke-width="0.9"/>
<text x="395.40" y="543.15" font-size="6.7" fill="#222" text-anchor="end" stroke="#222" stroke-width="0.24" textLength="12.62" lengthAdjust="spacingAndGlyphs" >MEP</text>
<polygon points="468.70,538.55 471.00,540.85 468.70,543.15 466.40,540.85" fill="#111"/>
<line x1="398.70" y1="547.81" x2="401.90" y2="547.81" stroke="#111" stroke-width="0.9"/>
<text x="395.40" y="550.11" font-size="6.7" fill="#222" text-anchor="end" stroke="#222" stroke-width="0.24" textLength="13.27" lengthAdjust="spacingAndGlyphs" >GMP</text>
<line x1="474.00" y1="547.81" x2="478.00" y2="547.81" stroke="#222" stroke-width="0.8"/>
<line x1="474.00" y1="546.31" x2="474.00" y2="549.31" stroke="#222" stroke-width="0.8"/>
<line x1="478.00" y1="546.31" x2="478.00" y2="549.31" stroke="#222" stroke-width="0.8"/>
<polygon points="476.00,550.11 478.20,546.21 473.80,546.21" fill="#111"/>
<line x1="398.70" y1="554.76" x2="401.90" y2="554.76" stroke="#111" stroke-width="0.9"/>
<text x="395.40" y="557.06" font-size="6.7" fill="#222" text-anchor="end" stroke="#222" stroke-width="0.24" textLength="12.94" lengthAdjust="spacingAndGlyphs" >CMP</text>
<line x1="477.20" y1="554.76" x2="481.60" y2="554.76" stroke="#222" stroke-width="0.8"/>
<line x1="477.20" y1="553.26" x2="477.20" y2="556.26" stroke="#222" stroke-width="0.8"/>
<line x1="481.60" y1="553.26" x2="481.60" y2="556.26" stroke="#222" stroke-width="0.8"/>
<polygon points="479.40,552.46 481.60,556.36 477.20,556.36" fill="#111"/>
<line x1="398.70" y1="561.72" x2="401.90" y2="561.72" stroke="#111" stroke-width="0.9"/>
<text x="395.40" y="564.01" font-size="6.7" fill="#222" text-anchor="end" stroke="#222" stroke-width="0.24" textLength="28.44" lengthAdjust="spacingAndGlyphs" >Early HSCs</text>
<line x1="488.80" y1="561.72" x2="498.50" y2="561.72" stroke="#222" stroke-width="0.8"/>
<line x1="488.80" y1="560.22" x2="488.80" y2="563.22" stroke="#222" stroke-width="0.8"/>
<line x1="498.50" y1="560.22" x2="498.50" y2="563.22" stroke="#222" stroke-width="0.8"/>
<rect x="491.40" y="559.82" width="3.8" height="3.8" fill="#111"/>
<line x1="398.70" y1="568.67" x2="401.90" y2="568.67" stroke="#111" stroke-width="0.9"/>
<text x="395.40" y="570.97" font-size="6.7" fill="#222" text-anchor="end" stroke="#222" stroke-width="0.24" textLength="24.16" lengthAdjust="spacingAndGlyphs" >BM HSCs</text>
<line x1="493.90" y1="568.67" x2="499.90" y2="568.67" stroke="#222" stroke-width="0.8"/>
<line x1="493.90" y1="567.17" x2="493.90" y2="570.17" stroke="#222" stroke-width="0.8"/>
<line x1="499.90" y1="567.17" x2="499.90" y2="570.17" stroke="#222" stroke-width="0.8"/>
<circle cx="496.70" cy="568.67" r="2.0" fill="#111"/>
<text x="421.10" y="597.3" font-size="7.4" fill="#222" stroke="#222" stroke-width="0.22" font-style="italic" textLength="22.4" lengthAdjust="spacingAndGlyphs">CD109</text>
<text x="99.70" y="597.3" font-size="7.6" fill="#222" stroke="#222" stroke-width="0.24" textLength="13" lengthAdjust="spacingAndGlyphs">(log</text>
<text x="113.60" y="599.0" font-size="5.4" fill="#222" stroke="#222" stroke-width="0.12">2</text>
<text x="119.10" y="597.3" font-size="7.6" fill="#222" stroke="#222" stroke-width="0.24" textLength="41.2" lengthAdjust="spacingAndGlyphs">expression)</text>
<text x="264.80" y="597.3" font-size="7.6" fill="#222" stroke="#222" stroke-width="0.24" textLength="13" lengthAdjust="spacingAndGlyphs">(log</text>
<text x="278.70" y="599.0" font-size="5.4" fill="#222" stroke="#222" stroke-width="0.12">2</text>
<text x="284.20" y="597.3" font-size="7.6" fill="#222" stroke="#222" stroke-width="0.24" textLength="41.2" lengthAdjust="spacingAndGlyphs">expression)</text>
<text x="434.50" y="597.3" font-size="7.6" fill="#222" stroke="#222" stroke-width="0.24" textLength="13" lengthAdjust="spacingAndGlyphs">(log</text>
<text x="448.40" y="599.0" font-size="5.4" fill="#222" stroke="#222" stroke-width="0.12">2</text>
<text x="453.90" y="597.3" font-size="7.6" fill="#222" stroke="#222" stroke-width="0.24" textLength="41.2" lengthAdjust="spacingAndGlyphs">expression)</text>
<rect x="0" y="0" width="520" height="2" fill="#4a4a4a"/>
<rect x="0" y="0" width="2" height="610" fill="#4a4a4a"/>
<rect x="519" y="0" width="1" height="610" fill="#111"/>
<rect x="0" y="609" width="520" height="1" fill="#111"/>
</g>
</svg>
</body></html>
